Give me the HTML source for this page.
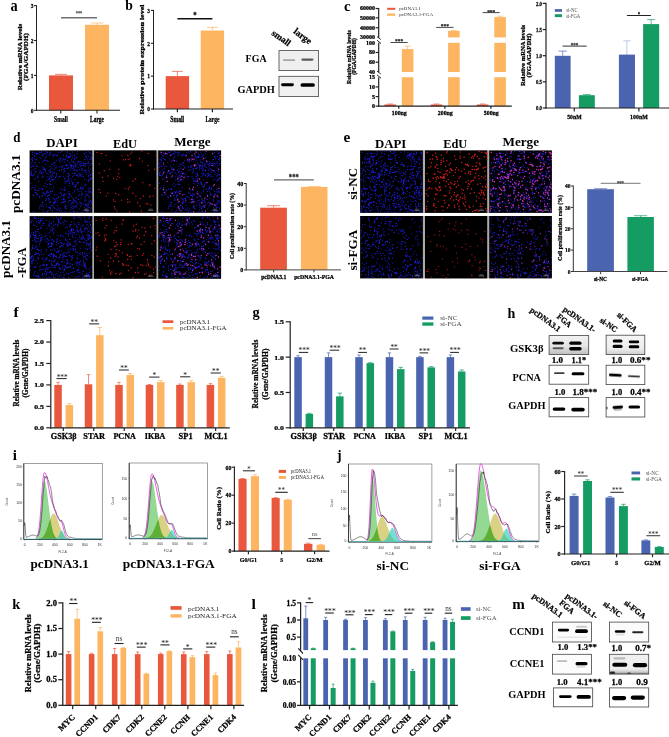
<!DOCTYPE html>
<html lang="en"><head><meta charset="utf-8"><title>Figure</title>
<style>
html,body{margin:0;padding:0;background:#fff}
body{width:669px;height:737px;overflow:hidden}
svg{display:block;font-family:'Liberation Serif', serif;font-weight:bold}
</style></head><body>
<svg width="669" height="737" viewBox="0 0 669 737">
<defs>
<filter id="bl" x="-30%" y="-80%" width="160%" height="260%"><feGaussianBlur stdDeviation="0.7"/></filter>
</defs>
<rect width="669" height="737" fill="#fff"/>
<g>
<text transform="translate(10.5 11) scale(0.847 1)" font-size="17">a</text>
<rect x="49" y="75.4" width="24" height="34.9" fill="#E9573D"/>
<path d="M61 75.4V74.35M55 74.35H67" stroke="#E9573D" stroke-width="0.7" fill="none"/>
<rect x="85" y="24.79" width="24" height="85.51" fill="#FDB562"/>
<path d="M97 24.79V23.05M91 23.05H103" stroke="#FDB562" stroke-width="0.7" fill="none"/>
<path d="M36.5 5.1L36.5 110.8" stroke="#222" stroke-width="1"/>
<path d="M33.9 110.3L36.5 110.3" stroke="#222" stroke-width="1.1"/>
<text transform="translate(33.4 112.6) scale(0.780 1)" font-size="7" text-anchor="end" stroke="#000" stroke-width="0.25">0</text>
<path d="M33.9 75.4L36.5 75.4" stroke="#222" stroke-width="1.1"/>
<text transform="translate(33.4 77.7) scale(0.780 1)" font-size="7" text-anchor="end" stroke="#000" stroke-width="0.25">1</text>
<path d="M33.9 40.5L36.5 40.5" stroke="#222" stroke-width="1.1"/>
<text transform="translate(33.4 42.8) scale(0.780 1)" font-size="7" text-anchor="end" stroke="#000" stroke-width="0.25">2</text>
<path d="M33.9 5.6L36.5 5.6" stroke="#222" stroke-width="1.1"/>
<text transform="translate(33.4 7.9) scale(0.780 1)" font-size="7" text-anchor="end" stroke="#000" stroke-width="0.25">3</text>
<path d="M35.95 110.3L120 110.3" stroke="#222" stroke-width="1.1"/>
<path d="M60.8 110.3L60.8 113.6" stroke="#222" stroke-width="1.1"/>
<path d="M97 110.3L97 113.6" stroke="#222" stroke-width="1.1"/>
<text transform="translate(61 121.6) scale(0.763 1)" font-size="7.4" text-anchor="middle" stroke="#000" stroke-width="0.25">Small</text>
<text transform="translate(97 121.6) scale(0.730 1)" font-size="7.4" text-anchor="middle" stroke="#000" stroke-width="0.25">Large</text>
<text transform="translate(21.5 57) rotate(-90) scale(1.238 1)" font-size="5.8" text-anchor="middle" stroke="#000" stroke-width="0.25">Relative mRNA levels</text>
<text transform="translate(27.5 57) rotate(-90) scale(1.242 1)" font-size="5.8" text-anchor="middle" stroke="#000" stroke-width="0.25">(FGA/GAPDH)</text>
<path d="M61 17.8L97 17.8" stroke="#707070" stroke-width="1.4"/>
<text transform="translate(79 14.6) scale(0.788 1)" font-size="5.5" text-anchor="middle" fill="#666" stroke="#666" stroke-width="0.25">***</text>
</g>
<g>
<text transform="translate(125.2 10.4) scale(0.882 1)" font-size="15.5">b</text>
<rect x="165.7" y="76.13" width="23.4" height="32.87" fill="#E9573D"/>
<path d="M177.4 76.13V71.4M172 71.4H182.8" stroke="#E9573D" stroke-width="0.7" fill="none"/>
<rect x="200.7" y="30.5" width="23.4" height="78.5" fill="#FDB562"/>
<path d="M212.4 30.5V27.3M207 27.3H217.8" stroke="#FDB562" stroke-width="0.7" fill="none"/>
<path d="M153.5 9.9L153.5 109.5" stroke="#222" stroke-width="1"/>
<path d="M150.9 109L153.5 109" stroke="#222" stroke-width="1.1"/>
<text transform="translate(150.1 111.3) scale(0.780 1)" font-size="7" text-anchor="end" stroke="#000" stroke-width="0.25">0</text>
<path d="M150.9 76.13L153.5 76.13" stroke="#222" stroke-width="1.1"/>
<text transform="translate(150.1 78.43) scale(0.780 1)" font-size="7" text-anchor="end" stroke="#000" stroke-width="0.25">1</text>
<path d="M150.9 43.27L153.5 43.27" stroke="#222" stroke-width="1.1"/>
<text transform="translate(150.1 45.57) scale(0.780 1)" font-size="7" text-anchor="end" stroke="#000" stroke-width="0.25">2</text>
<path d="M150.9 10.4L153.5 10.4" stroke="#222" stroke-width="1.1"/>
<text transform="translate(150.1 12.7) scale(0.780 1)" font-size="7" text-anchor="end" stroke="#000" stroke-width="0.25">3</text>
<path d="M152.9 109L233 109" stroke="#222" stroke-width="1.2"/>
<path d="M177.4 109L177.4 112.3" stroke="#222" stroke-width="1.2"/>
<path d="M212.4 109L212.4 112.3" stroke="#222" stroke-width="1.2"/>
<text transform="translate(177.2 121.8) scale(0.784 1)" font-size="7.2" text-anchor="middle" stroke="#000" stroke-width="0.25">Small</text>
<text transform="translate(212.4 121.8) scale(0.761 1)" font-size="7.2" text-anchor="middle" stroke="#000" stroke-width="0.25">Large</text>
<text transform="translate(144.3 59.6) rotate(-90) scale(1.335 1)" font-size="6" text-anchor="middle" stroke="#000" stroke-width="0.25">Relative protein expression level</text>
<path d="M177.4 18.7L212.4 18.7" stroke="#111" stroke-width="1.6"/>
<text transform="translate(195 17.6) scale(0.800 1)" font-size="8.5" text-anchor="middle" stroke="#000" stroke-width="0.25">*</text>
<text transform="translate(271 34.4) rotate(35)" font-size="9.2" stroke="#000" stroke-width="0.25">small</text>
<text transform="translate(293 32.6) rotate(37)" font-size="9.2" stroke="#000" stroke-width="0.25">large</text>
<text transform="translate(245.6 61.8) scale(0.995 1)" font-size="10">FGA</text>
<text transform="translate(237.4 93.2) scale(1.036 1)" font-size="10">GAPDH</text>
<rect x="279" y="50.6" width="39.6" height="20" fill="#efefef" stroke="#444" stroke-width="0.8"/>
<rect x="282.7" y="59.3" width="12.6" height="1.6" rx="0.8" fill="#000" opacity="0.3" filter="url(#bl)"/>
<rect x="301.3" y="58.45" width="12.2" height="2.3" rx="1.15" fill="#000" opacity="0.62" filter="url(#bl)"/>
<rect x="279" y="76.3" width="39.6" height="20.2" fill="#f0f0f0" stroke="#444" stroke-width="0.8"/>
<rect x="281.1" y="83.25" width="12.8" height="2.9" rx="1.45" fill="#000" opacity="1" filter="url(#bl)"/>
<rect x="300.5" y="83.15" width="14.4" height="3.7" rx="1.85" fill="#000" opacity="1" filter="url(#bl)"/>
</g>
<g>
<text transform="translate(344 10.8) scale(0.959 1)" font-size="15.5">c</text>
<rect x="384.4" y="104.5" width="11.5" height="1.6" fill="#E9573D"/>
<path d="M390.15 104.5V104M387.27 104H393.02" stroke="#E9573D" stroke-width="0.7" fill="none"/>
<rect x="401.8" y="77.2" width="11.6" height="28.9" fill="#FDB562"/>
<rect x="401.8" y="49.1" width="11.6" height="22.9" fill="#FDB562"/>
<path d="M407.6 49.1V46.1M404.7 46.1H410.5" stroke="#FDB562" stroke-width="0.7" fill="none"/>
<rect x="430.7" y="104.5" width="11.5" height="1.6" fill="#E9573D"/>
<path d="M436.45 104.5V104M433.57 104H439.32" stroke="#E9573D" stroke-width="0.7" fill="none"/>
<rect x="448.1" y="77.2" width="11.6" height="28.9" fill="#FDB562"/>
<rect x="448.1" y="42.8" width="11.6" height="29.2" fill="#FDB562"/>
<rect x="448.1" y="30.9" width="11.6" height="6.5" fill="#FDB562"/>
<path d="M453.9 30.9V30.4M451 30.4H456.8" stroke="#FDB562" stroke-width="0.7" fill="none"/>
<rect x="476.9" y="104.5" width="11.5" height="1.6" fill="#E9573D"/>
<path d="M482.65 104.5V104M479.77 104H485.52" stroke="#E9573D" stroke-width="0.7" fill="none"/>
<rect x="494.3" y="77.2" width="11.6" height="28.9" fill="#FDB562"/>
<rect x="494.3" y="42.8" width="11.6" height="29.2" fill="#FDB562"/>
<rect x="494.3" y="17.1" width="11.6" height="20.3" fill="#FDB562"/>
<path d="M500.1 17.1V16.2M497.2 16.2H503" stroke="#FDB562" stroke-width="0.7" fill="none"/>
<path d="M378.7 7.9L378.7 37.4" stroke="#222" stroke-width="1.2"/>
<path d="M378.7 42.8L378.7 72" stroke="#222" stroke-width="1.2"/>
<path d="M378.7 77.2L378.7 106.7" stroke="#222" stroke-width="1.2"/>
<path d="M377 36.6L380.8 39.4" stroke="#222" stroke-width="1"/>
<path d="M377 40.2L381 43.6" stroke="#222" stroke-width="1"/>
<path d="M377 71.2L380.8 74" stroke="#222" stroke-width="1"/>
<path d="M377 74.8L381 78.2" stroke="#222" stroke-width="1"/>
<path d="M375.6 8.5L378.7 8.5" stroke="#222" stroke-width="1.2"/>
<text transform="translate(375.1 10.4) scale(1.071 1)" font-size="5.6" text-anchor="end" stroke="#000" stroke-width="0.25">60000</text>
<path d="M375.6 17.9L378.7 17.9" stroke="#222" stroke-width="1.2"/>
<text transform="translate(375.1 19.8) scale(1.071 1)" font-size="5.6" text-anchor="end" stroke="#000" stroke-width="0.25">50000</text>
<path d="M375.6 27.8L378.7 27.8" stroke="#222" stroke-width="1.2"/>
<text transform="translate(375.1 29.7) scale(1.071 1)" font-size="5.6" text-anchor="end" stroke="#000" stroke-width="0.25">40000</text>
<text transform="translate(375.1 39.3) scale(1.071 1)" font-size="5.6" text-anchor="end" stroke="#000" stroke-width="0.25">30000</text>
<text transform="translate(375.1 44.7) scale(1.071 1)" font-size="5.6" text-anchor="end" stroke="#000" stroke-width="0.25">100</text>
<path d="M375.6 52.5L378.7 52.5" stroke="#222" stroke-width="1.2"/>
<text transform="translate(375.1 54.4) scale(1.071 1)" font-size="5.6" text-anchor="end" stroke="#000" stroke-width="0.25">80</text>
<path d="M375.6 62.2L378.7 62.2" stroke="#222" stroke-width="1.2"/>
<text transform="translate(375.1 64.1) scale(1.071 1)" font-size="5.6" text-anchor="end" stroke="#000" stroke-width="0.25">60</text>
<text transform="translate(375.1 73.9) scale(1.071 1)" font-size="5.6" text-anchor="end" stroke="#000" stroke-width="0.25">40</text>
<text transform="translate(375.1 79.1) scale(1.071 1)" font-size="5.6" text-anchor="end" stroke="#000" stroke-width="0.25">15</text>
<path d="M375.6 86.9L378.7 86.9" stroke="#222" stroke-width="1.2"/>
<text transform="translate(375.1 88.8) scale(1.071 1)" font-size="5.6" text-anchor="end" stroke="#000" stroke-width="0.25">10</text>
<path d="M375.6 96.6L378.7 96.6" stroke="#222" stroke-width="1.2"/>
<text transform="translate(375.1 98.5) scale(1.071 1)" font-size="5.6" text-anchor="end" stroke="#000" stroke-width="0.25">5</text>
<path d="M375.6 106.1L378.7 106.1" stroke="#222" stroke-width="1.2"/>
<text transform="translate(375.1 108) scale(1.071 1)" font-size="5.6" text-anchor="end" stroke="#000" stroke-width="0.25">0</text>
<path d="M378.1 106.1L511.8 106.1" stroke="#222" stroke-width="1.2"/>
<path d="M398.8 106.1L398.8 108.7" stroke="#222" stroke-width="1.2"/>
<path d="M444.9 106.1L444.9 108.7" stroke="#222" stroke-width="1.2"/>
<path d="M490.9 106.1L490.9 108.7" stroke="#222" stroke-width="1.2"/>
<text transform="translate(399.3 115.2) scale(1.048 1)" font-size="5.6" text-anchor="middle" stroke="#000" stroke-width="0.25">100ng</text>
<text transform="translate(445.3 115.2) scale(1.048 1)" font-size="5.6" text-anchor="middle" stroke="#000" stroke-width="0.25">200ng</text>
<text transform="translate(491.3 115.2) scale(1.048 1)" font-size="5.6" text-anchor="middle" stroke="#000" stroke-width="0.25">500ng</text>
<text transform="translate(351.4 57.2) rotate(-90) scale(1.113 1)" font-size="5.2" text-anchor="middle" stroke="#000" stroke-width="0.25">Relative mRNA levels</text>
<text transform="translate(356 56.5) rotate(-90) scale(1.053 1)" font-size="5.2" text-anchor="middle" stroke="#000" stroke-width="0.25">(FGA/GAPDH)</text>
<rect x="387.1" y="7.8" width="8.2" height="2" fill="#E9573D"/>
<rect x="387.1" y="13.5" width="8.2" height="2.3" fill="#FDB562"/>
<text transform="translate(399.2 10.1) scale(1.072 1)" font-size="4.6" font-weight="normal" fill="#333">pcDNA3.1</text>
<text transform="translate(399.2 16.1) scale(1.101 1)" font-size="4.6" font-weight="normal" fill="#333">pcDNA3.1-FGA</text>
<path d="M390.5 42.5L407.6 42.5" stroke="#333" stroke-width="0.9"/>
<text transform="translate(399.05 43.4) scale(0.889 1)" font-size="6" text-anchor="middle" fill="#333" stroke="#333" stroke-width="0.25">***</text>
<path d="M436.2 27.4L453.5 27.4" stroke="#333" stroke-width="0.9"/>
<text transform="translate(444.85 28.3) scale(0.889 1)" font-size="6" text-anchor="middle" fill="#333" stroke="#333" stroke-width="0.25">***</text>
<path d="M482.6 12.6L499.7 12.6" stroke="#333" stroke-width="0.9"/>
<text transform="translate(491.15 13.5) scale(0.889 1)" font-size="6" text-anchor="middle" fill="#333" stroke="#333" stroke-width="0.25">***</text>
<rect x="554.8" y="55.8" width="15.8" height="52.2" fill="#4A64AF"/>
<path d="M562.7 55.8V51.1M558.5 51.1H566.9" stroke="#4A64AF" stroke-width="0.7" fill="none"/>
<rect x="578.9" y="95.2" width="15.9" height="12.8" fill="#159C63"/>
<path d="M586.85 95.2V94.6M582.85 94.6H590.85" stroke="#159C63" stroke-width="0.7" fill="none"/>
<rect x="626.5" y="40.9" width="0.8" height="15.1" fill="#aeb9df"/>
<rect x="623.2" y="40.5" width="7.4" height="0.8" fill="#aeb9df"/>
<rect x="618.9" y="54.6" width="16.1" height="53.4" fill="#4A64AF"/>
<rect x="643.1" y="24.1" width="16.1" height="83.9" fill="#159C63"/>
<path d="M651.15 24.1V19.6M647.15 19.6H655.15" stroke="#159C63" stroke-width="0.7" fill="none"/>
<path d="M546 2.8L546 108.6" stroke="#222" stroke-width="1.2"/>
<path d="M542.7 108L546 108" stroke="#222" stroke-width="1.2"/>
<text transform="translate(542 110.2) scale(0.750 1)" font-size="6.4" text-anchor="end" stroke="#000" stroke-width="0.25">0.0</text>
<path d="M542.7 81.85L546 81.85" stroke="#222" stroke-width="1.2"/>
<text transform="translate(542 84.05) scale(0.750 1)" font-size="6.4" text-anchor="end" stroke="#000" stroke-width="0.25">0.5</text>
<path d="M542.7 55.7L546 55.7" stroke="#222" stroke-width="1.2"/>
<text transform="translate(542 57.9) scale(0.750 1)" font-size="6.4" text-anchor="end" stroke="#000" stroke-width="0.25">1.0</text>
<path d="M542.7 29.55L546 29.55" stroke="#222" stroke-width="1.2"/>
<text transform="translate(542 31.75) scale(0.750 1)" font-size="6.4" text-anchor="end" stroke="#000" stroke-width="0.25">1.5</text>
<path d="M542.7 3.4L546 3.4" stroke="#222" stroke-width="1.2"/>
<text transform="translate(542 5.6) scale(0.750 1)" font-size="6.4" text-anchor="end" stroke="#000" stroke-width="0.25">2.0</text>
<path d="M545.4 108L669 108" stroke="#222" stroke-width="1.2"/>
<path d="M574.3 108L574.3 111.4" stroke="#222" stroke-width="1.2"/>
<path d="M638.9 108L638.9 111.4" stroke="#222" stroke-width="1.2"/>
<text transform="translate(574.4 118.8) scale(0.886 1)" font-size="6.5" text-anchor="middle" stroke="#000" stroke-width="0.25">50nM</text>
<text transform="translate(638.9 118.8) scale(0.903 1)" font-size="6.5" text-anchor="middle" stroke="#000" stroke-width="0.25">100nM</text>
<text transform="translate(525 55.5) rotate(-90) scale(1.180 1)" font-size="5.6" text-anchor="middle" stroke="#000" stroke-width="0.25">Relative mRNA levels</text>
<text transform="translate(531 55.5) rotate(-90) scale(1.225 1)" font-size="5.4" text-anchor="middle" stroke="#000" stroke-width="0.25">(FGA/GAPDH)</text>
<rect x="554.8" y="9.1" width="7.2" height="2.7" fill="#4A64AF"/>
<rect x="554.8" y="14.2" width="7.2" height="2.9" fill="#159C63"/>
<text transform="translate(566.2 12.1) scale(0.891 1)" font-size="5.4" font-weight="normal" fill="#555">si-NC</text>
<text transform="translate(566.2 17.5) scale(0.864 1)" font-size="5.4" font-weight="normal" fill="#555">si-FGA</text>
<path d="M562.5 46.1L586.7 46.1" stroke="#333" stroke-width="1"/>
<text transform="translate(574.6 46.6) scale(0.833 1)" font-size="6" text-anchor="middle" fill="#444" stroke="#444" stroke-width="0.25">***</text>
<path d="M626.9 15.5L650.9 15.5" stroke="#222" stroke-width="1"/>
<text transform="translate(638.9 16.2) scale(0.800 1)" font-size="6" text-anchor="middle" fill="#333" stroke="#333" stroke-width="0.25">*</text>
</g>
<g>
<text transform="translate(13.2 142.2) scale(0.835 1)" font-size="15.5">d</text>
<text transform="translate(46.3 147.1) scale(1.028 1)" font-size="12.5">DAPI</text>
<text transform="translate(113 147.7) scale(0.949 1)" font-size="13">EdU</text>
<text transform="translate(174.2 146.1) scale(1.009 1)" font-size="13">Merge</text>
<text transform="translate(19.6 183.8) rotate(-90) scale(1.060 1)" font-size="12.5" text-anchor="middle">pcDNA3.1</text>
<text transform="translate(9.9 249) rotate(-90) scale(1.049 1)" font-size="12.5" text-anchor="middle">pcDNA3.1</text>
<text transform="translate(25.6 262.7) rotate(-90)" font-size="12.5" text-anchor="middle">-FGA</text>
<rect x="91.8" y="150.4" width="66.9" height="62.4" fill="#aaaaa6"/>
<rect x="29.6" y="150.4" width="62.7" height="62.4" fill="#000"/>
<path d="M58.7 178.0h.01M70.9 179.0h.01M47.3 212.1h.01M91.4 202.4h.01M73.7 170.3h.01M44.3 168.7h.01M82.3 174.7h.01M89.1 202.9h.01M30.2 163.8h.01M86.2 179.8h.01M90.5 175.3h.01M34.7 189.5h.01M78.1 167.5h.01M35.6 171.4h.01M89.5 197.4h.01M37.5 166.1h.01M36.4 154.7h.01M79.2 161.9h.01M64.6 178.4h.01M41.9 195.8h.01M38.3 190.4h.01M37.4 176.8h.01M43.3 167.5h.01M79.6 169.6h.01M84.6 163.9h.01M54.4 203.3h.01M69.7 157.1h.01M91.0 164.1h.01M46.1 198.3h.01M50.4 169.1h.01M34.7 156.5h.01M66.0 165.9h.01M67.2 173.7h.01M58.1 209.7h.01M39.7 206.6h.01M80.5 166.3h.01M41.9 196.3h.01M88.0 163.0h.01M88.6 205.0h.01M67.3 176.8h.01M36.6 153.4h.01M89.4 165.6h.01M73.5 166.7h.01M80.9 187.5h.01M48.2 161.7h.01M74.5 155.2h.01M44.2 185.2h.01M68.0 168.1h.01M86.6 163.5h.01M31.2 167.5h.01M57.6 154.7h.01M41.0 173.6h.01M65.4 159.1h.01M52.5 205.5h.01M90.5 191.2h.01M32.4 152.1h.01M86.2 193.9h.01M89.4 152.3h.01M69.3 180.5h.01M75.1 170.5h.01M91.7 155.6h.01M63.8 196.1h.01M85.6 196.1h.01M73.5 199.5h.01M86.5 172.5h.01M72.3 206.1h.01M83.8 176.5h.01M78.8 203.8h.01M65.4 189.2h.01M35.1 190.1h.01M91.3 204.8h.01M75.0 174.8h.01M75.4 186.6h.01M57.3 202.3h.01M67.2 180.4h.01M44.4 193.7h.01M60.8 188.6h.01M45.9 151.7h.01M48.7 192.5h.01M42.7 161.4h.01M85.9 191.4h.01M57.4 205.6h.01M50.3 191.8h.01M42.4 177.4h.01M86.4 204.9h.01M38.6 181.4h.01M82.4 194.5h.01M88.6 167.9h.01M43.4 176.3h.01M68.7 181.2h.01M49.6 202.4h.01M90.6 178.7h.01M34.8 152.9h.01M83.9 153.5h.01M73.8 185.9h.01M49.2 199.4h.01M31.4 159.3h.01M58.2 152.5h.01M81.2 165.5h.01M38.9 153.9h.01M68.9 178.3h.01M68.9 191.1h.01M89.1 192.9h.01M73.1 182.8h.01M68.0 197.3h.01M54.4 199.5h.01M85.9 156.3h.01M87.6 195.2h.01M86.2 174.1h.01M65.2 204.8h.01M79.2 208.8h.01M74.6 201.1h.01M69.7 194.9h.01M43.3 206.1h.01M90.5 210.8h.01M63.2 199.4h.01M49.9 206.7h.01M82.8 172.3h.01M35.3 178.0h.01M64.0 198.0h.01M60.2 152.7h.01M40.8 171.5h.01M62.0 195.3h.01M81.9 193.2h.01M88.4 181.1h.01M88.6 156.3h.01M75.0 190.1h.01M62.4 202.6h.01M64.6 170.1h.01M53.6 202.7h.01M85.6 163.7h.01M82.5 210.3h.01M54.8 200.0h.01M64.8 181.1h.01M72.7 155.0h.01M63.3 176.3h.01M89.0 207.5h.01M46.8 180.0h.01M38.0 177.5h.01M80.4 206.1h.01M59.5 170.4h.01M42.0 188.8h.01M87.1 158.9h.01M44.2 193.0h.01M50.0 172.7h.01M68.3 157.4h.01M75.1 158.5h.01M61.6 166.3h.01M53.3 176.3h.01M62.8 160.8h.01M42.8 189.6h.01M69.5 183.4h.01M82.6 188.4h.01M82.9 165.2h.01M75.8 200.6h.01M85.7 170.3h.01M49.6 207.5h.01M43.6 212.1h.01M84.8 159.2h.01M44.9 195.5h.01M46.2 156.9h.01M81.4 176.8h.01M72.3 152.1h.01M42.6 192.8h.01M86.2 210.3h.01M61.1 193.0h.01M41.8 155.3h.01M36.7 153.3h.01M39.2 162.3h.01M42.7 202.4h.01M91.1 207.7h.01M36.1 154.8h.01M88.7 179.3h.01M77.2 171.0h.01M67.2 151.8h.01M73.3 202.7h.01M55.1 162.9h.01M85.1 200.1h.01M73.5 203.7h.01M68.9 175.8h.01M67.1 181.9h.01M90.6 200.3h.01M46.1 206.8h.01M76.0 198.6h.01M80.3 175.8h.01M85.3 204.8h.01M72.9 198.0h.01M77.3 175.8h.01M74.6 155.3h.01M51.2 179.7h.01M30.9 172.8h.01M88.3 191.8h.01M51.0 191.4h.01M65.2 183.6h.01M54.2 212.2h.01M69.7 193.9h.01M77.0 211.0h.01M31.6 188.7h.01M75.6 166.7h.01M54.9 154.1h.01M42.2 174.0h.01M36.3 166.4h.01M85.9 184.7h.01M61.4 210.2h.01M65.1 211.9h.01M69.4 200.5h.01M34.9 187.6h.01M76.9 153.8h.01M88.3 176.7h.01M47.8 191.1h.01M64.7 168.4h.01M74.3 169.1h.01M31.1 166.0h.01M32.8 160.6h.01M76.6 174.9h.01M85.4 196.8h.01M33.3 211.5h.01M59.6 210.6h.01M45.2 183.0h.01M74.6 179.7h.01M90.4 201.0h.01M67.3 158.0h.01M68.6 178.9h.01M42.7 154.2h.01M62.7 158.6h.01M46.3 186.6h.01M56.0 198.6h.01M62.8 212.1h.01M88.8 195.9h.01M44.9 158.0h.01M85.1 199.0h.01M68.6 173.0h.01M46.9 192.9h.01M64.9 187.2h.01M69.1 197.1h.01M41.9 166.2h.01M86.5 204.8h.01M32.6 154.7h.01M46.9 177.0h.01M68.5 157.3h.01M63.5 155.4h.01M35.5 192.4h.01M64.1 189.6h.01M53.2 180.3h.01M43.2 172.0h.01M76.0 202.3h.01M34.8 158.3h.01M80.0 189.2h.01M77.5 164.0h.01M56.3 166.8h.01M80.0 173.6h.01M70.4 211.5h.01M50.2 184.6h.01M76.1 207.4h.01M56.5 173.6h.01M35.3 185.5h.01M60.0 192.9h.01M48.6 198.5h.01M34.9 164.1h.01M70.9 156.0h.01M48.9 195.4h.01M72.9 168.3h.01M39.0 172.9h.01M74.8 173.4h.01M37.4 194.4h.01M65.2 207.2h.01M88.0 206.9h.01M57.1 200.1h.01M48.9 170.4h.01M54.8 208.2h.01M85.2 166.2h.01M52.4 173.4h.01M52.5 175.2h.01M54.0 162.9h.01M64.9 199.8h.01M63.4 202.2h.01M64.8 161.8h.01M76.9 204.9h.01M47.5 152.4h.01M89.6 190.9h.01M75.5 206.0h.01M35.4 189.8h.01M45.3 164.5h.01M77.3 182.9h.01M77.2 175.1h.01M51.0 210.3h.01M71.6 181.2h.01M63.2 195.1h.01M73.8 207.0h.01M55.5 201.6h.01M71.2 203.2h.01M79.8 202.0h.01M84.9 209.6h.01M69.6 183.1h.01M73.9 200.1h.01M56.1 176.7h.01M39.2 196.4h.01M91.1 174.0h.01M48.2 210.3h.01M33.8 169.9h.01M37.3 190.7h.01M77.9 162.0h.01M34.0 179.1h.01M66.1 206.6h.01M32.4 157.7h.01M76.8 170.1h.01M63.9 201.0h.01M59.7 166.9h.01M84.8 207.0h.01M51.2 184.5h.01M89.1 180.5h.01M43.8 154.0h.01M88.5 200.0h.01M47.1 211.6h.01M70.6 165.5h.01M79.2 194.7h.01M67.5 160.6h.01M39.8 170.7h.01M46.2 204.2h.01M61.9 190.0h.01M77.6 151.1h.01M80.7 202.8h.01M74.3 156.9h.01M82.9 169.6h.01M78.7 176.5h.01M86.6 156.6h.01M81.0 163.8h.01M81.4 170.1h.01M49.3 155.7h.01M49.0 179.6h.01M74.2 173.0h.01M72.5 157.5h.01M54.4 179.3h.01M81.2 191.0h.01M31.0 174.1h.01M73.9 165.5h.01M64.9 179.0h.01M42.9 188.7h.01M48.1 174.0h.01M63.4 169.3h.01M50.9 175.0h.01M71.2 166.7h.01M42.5 195.8h.01M50.5 208.8h.01M64.8 195.3h.01M50.6 201.6h.01M35.9 159.6h.01M36.0 192.5h.01M73.8 162.0h.01M54.9 202.2h.01M66.7 156.5h.01M44.1 160.6h.01M37.8 175.9h.01M80.7 174.6h.01M50.6 176.2h.01M31.1 175.5h.01M73.2 211.1h.01M78.8 191.4h.01M67.6 152.1h.01M50.6 171.9h.01M70.2 157.5h.01M80.9 188.4h.01M39.9 197.9h.01M63.9 172.6h.01M61.0 159.7h.01M74.1 211.4h.01M61.9 194.8h.01M81.6 163.1h.01M88.3 189.4h.01M42.4 156.1h.01M50.4 207.9h.01M52.4 179.3h.01M85.8 184.3h.01M86.1 211.7h.01M80.5 187.8h.01M85.4 165.7h.01M65.5 201.8h.01M32.2 162.0h.01M90.9 208.5h.01M70.7 169.8h.01M71.5 196.1h.01M53.7 187.2h.01M31.2 163.2h.01M59.0 159.8h.01M62.2 167.1h.01M65.1 171.3h.01M69.7 153.3h.01M71.5 159.9h.01M89.2 187.7h.01M59.1 176.2h.01M68.6 193.2h.01M76.8 197.0h.01M60.1 211.9h.01M81.8 203.3h.01M55.4 177.6h.01M65.0 206.4h.01M85.8 170.6h.01M33.6 195.4h.01M75.2 187.6h.01M76.4 169.7h.01M66.7 155.3h.01M54.6 154.2h.01M72.9 183.2h.01M44.9 169.7h.01M54.5 165.4h.01M83.5 176.8h.01M79.7 164.6h.01M76.1 185.7h.01M85.8 157.0h.01M88.7 151.0h.01M45.2 169.3h.01M50.2 154.8h.01M85.3 200.9h.01M54.6 172.8h.01M66.2 153.8h.01M60.9 208.2h.01M90.3 179.9h.01M42.9 169.1h.01M86.9 205.9h.01M42.2 202.3h.01M52.0 179.9h.01M40.8 204.8h.01M91.4 163.4h.01M69.1 162.7h.01M84.3 154.1h.01M85.6 204.2h.01M74.1 159.3h.01M73.0 208.4h.01M57.6 155.8h.01M43.9 169.8h.01M73.9 163.0h.01M78.8 173.8h.01M70.9 205.1h.01M66.5 165.0h.01M48.7 207.7h.01M71.2 167.9h.01M69.6 156.5h.01M90.7 177.9h.01M67.1 168.4h.01M45.6 200.2h.01M35.6 168.5h.01M76.7 166.0h.01M47.4 184.5h.01M41.7 205.9h.01M90.9 153.1h.01M58.6 196.9h.01M53.9 207.9h.01M60.9 162.0h.01M64.4 190.5h.01M52.3 191.3h.01M78.4 182.6h.01M61.3 202.7h.01M72.3 182.9h.01M88.7 161.6h.01M78.1 161.1h.01M67.6 165.4h.01M57.3 198.3h.01M78.6 199.4h.01M65.9 181.5h.01M32.4 187.5h.01M74.2 186.0h.01M83.9 162.0h.01M39.5 152.1h.01M46.4 199.9h.01M63.6 199.4h.01M44.8 159.9h.01M49.3 153.6h.01M49.5 189.0h.01M62.5 167.2h.01M66.4 156.4h.01M80.7 161.5h.01M45.9 160.8h.01M72.7 201.9h.01M52.6 164.2h.01M89.9 153.6h.01M60.3 197.6h.01M90.9 159.8h.01M58.2 196.6h.01M32.6 165.7h.01M84.9 159.7h.01M54.4 169.2h.01M56.3 155.7h.01M75.3 165.1h.01M58.6 208.1h.01M52.6 171.6h.01M90.5 188.4h.01M32.6 175.7h.01M70.2 154.6h.01M51.3 193.5h.01M83.4 187.1h.01M84.7 179.3h.01M54.4 202.6h.01M53.6 198.8h.01M43.4 172.3h.01M49.2 178.4h.01M91.3 192.6h.01M83.3 163.5h.01M53.8 155.5h.01M72.7 173.2h.01M47.1 152.1h.01M87.0 194.8h.01M46.7 173.1h.01M39.6 208.3h.01M52.3 197.9h.01M74.7 206.5h.01M31.5 170.7h.01M53.8 156.1h.01M84.5 170.9h.01M77.6 182.8h.01M33.6 175.1h.01M44.9 153.5h.01M49.4 177.0h.01M63.7 159.3h.01M73.7 166.9h.01M74.8 191.8h.01M74.0 175.8h.01M54.0 204.0h.01M44.1 168.9h.01M51.4 164.2h.01M32.7 152.5h.01M69.0 185.6h.01M90.2 169.2h.01M71.4 207.2h.01M43.5 193.2h.01M71.2 209.5h.01M83.6 165.4h.01M69.1 156.5h.01M56.5 175.0h.01M33.9 174.5h.01M50.4 181.4h.01M47.4 160.7h.01M71.1 165.7h.01M35.9 171.9h.01M56.2 160.2h.01M66.0 193.9h.01M64.2 193.9h.01M31.6 175.0h.01M52.6 154.9h.01M55.1 154.3h.01M50.2 166.5h.01M31.6 172.2h.01M85.0 185.6h.01M46.3 191.9h.01M88.9 173.2h.01M65.6 208.7h.01M77.6 189.4h.01M68.4 176.2h.01M55.8 167.9h.01M81.2 204.8h.01M53.7 206.7h.01M32.5 159.3h.01M61.4 169.9h.01M52.4 210.8h.01M72.0 165.4h.01M63.9 189.2h.01M64.7 201.9h.01M89.8 171.4h.01M51.5 205.2h.01M49.5 194.8h.01M73.0 193.0h.01M89.5 201.5h.01M40.0 189.0h.01M47.8 196.8h.01M63.0 165.5h.01M45.5 170.9h.01M34.1 155.2h.01M36.5 194.1h.01M59.8 160.9h.01M83.5 204.2h.01M33.5 166.5h.01M61.4 199.7h.01M54.3 194.8h.01M45.7 194.8h.01M50.3 171.4h.01M76.9 202.6h.01M81.2 185.7h.01M56.1 194.3h.01M68.5 201.9h.01M71.4 165.1h.01M41.6 151.8h.01M66.2 208.6h.01M89.9 159.2h.01M72.5 176.7h.01M69.0 175.3h.01M87.6 211.5h.01M33.2 194.7h.01M37.5 153.6h.01M47.8 195.8h.01M91.3 158.4h.01M50.5 152.6h.01M49.2 200.0h.01M81.8 168.4h.01M90.5 174.8h.01M72.9 184.4h.01M60.2 158.4h.01M50.1 152.2h.01M65.0 159.8h.01M68.7 167.8h.01M46.2 154.1h.01M35.0 162.2h.01M59.9 212.0h.01M42.6 204.1h.01M60.0 176.4h.01M79.8 175.2h.01M68.5 168.0h.01M87.9 203.9h.01M91.3 178.1h.01M81.5 195.4h.01M41.0 152.6h.01M40.6 158.3h.01M34.8 173.0h.01M76.5 170.0h.01M61.8 151.6h.01M43.1 209.7h.01M30.9 183.3h.01M78.9 196.0h.01M54.8 200.1h.01M81.1 198.0h.01M90.8 157.2h.01M88.6 175.6h.01M73.6 166.3h.01M86.1 152.4h.01M65.7 164.9h.01M54.1 173.6h.01M70.6 200.6h.01M52.6 190.0h.01M52.0 168.1h.01M85.9 170.7h.01M36.0 171.5h.01M75.8 163.9h.01M75.9 184.4h.01M72.0 161.9h.01M36.7 159.7h.01M51.7 177.4h.01M50.0 183.9h.01M88.8 163.5h.01M84.3 170.6h.01M76.6 157.6h.01M56.7 209.9h.01M43.7 176.0h.01M73.6 161.9h.01M47.0 192.4h.01M88.5 170.7h.01M41.5 172.9h.01M91.1 160.1h.01M69.2 174.1h.01M69.8 164.0h.01M68.1 205.3h.01M82.9 189.5h.01M81.7 193.2h.01" stroke="#2020f0" stroke-width="1.12" stroke-linecap="round" fill="none"/>
<path d="M83.8 210.2L89.1 210.2" stroke="#ddd" stroke-width="0.5"/>
<path d="M84.8 209L88.1 209" stroke="#777" stroke-width="0.5"/>
<rect x="94" y="150.4" width="62.5" height="62.4" fill="#000"/>
<path d="M154.9 188.4h.01M127.8 202.2h.01M149.4 185.6h.01M132.0 152.1h.01M139.5 158.5h.01M133.0 193.2h.01M99.1 189.5h.01M123.4 159.8h.01M113.6 178.4h.01M139.9 206.0h.01M110.3 160.8h.01M143.3 196.0h.01M129.3 187.2h.01M118.7 194.8h.01M135.3 179.0h.01M108.1 176.0h.01M117.7 176.3h.01M142.8 182.6h.01M129.9 201.8h.01M106.2 155.3h.01M100.4 192.5h.01M149.8 196.8h.01M156.1 155.6h.01M113.6 200.0h.01M129.5 211.9h.01M125.2 188.6h.01M148.0 165.4h.01M115.0 201.6h.01M130.6 153.8h.01M133.1 181.2h.01M106.3 195.8h.01M150.0 196.1h.01M154.6 169.2h.01M153.2 195.9h.01M148.3 153.5h.01M130.9 165.0h.01M142.5 161.1h.01M127.6 199.4h.01M102.4 177.5h.01M116.8 210.8h.01M142.0 151.1h.01M148.7 170.6h.01M101.1 153.3h.01M129.8 159.1h.01M147.9 204.2h.01M137.7 202.7h.01M97.1 152.5h.01M103.0 181.4h.01M109.6 169.3h.01M130.1 164.9h.01M122.0 155.8h.01M99.2 173.0h.01M118.8 169.2h.01M115.7 193.5h.01M118.5 173.6h.01M146.2 203.3h.01M128.3 189.2h.01M130.4 165.9h.01M150.8 204.9h.01M141.4 211.0h.01M121.5 200.1h.01M125.4 159.7h.01M116.8 179.3h.01M119.8 177.6h.01M104.2 170.7h.01M114.3 206.7h.01M99.3 164.1h.01M127.9 155.4h.01M114.9 208.8h.01M150.2 184.3h.01M135.9 196.1h.01M107.9 193.2h.01M101.9 153.6h.01M128.1 159.3h.01M140.4 198.6h.01" stroke="#dc1c1c" stroke-width="1.35" stroke-linecap="round" fill="none"/>
<path d="M148 210.2L153.3 210.2" stroke="#ddd" stroke-width="0.5"/>
<path d="M149 209L152.3 209" stroke="#777" stroke-width="0.5"/>
<rect x="158.2" y="150.4" width="62.9" height="62.4" fill="#000"/>
<path d="M187.3 178.0h.01M199.5 179.0h.01M175.9 212.1h.01M220.0 202.4h.01M202.3 170.3h.01M172.9 168.7h.01M210.9 174.7h.01M217.7 202.9h.01M158.8 163.8h.01M214.8 179.8h.01M219.1 175.3h.01M163.3 189.5h.01M206.7 167.5h.01M164.2 171.4h.01M218.1 197.4h.01M166.1 166.1h.01M165.0 154.7h.01M207.8 161.9h.01M193.2 178.4h.01M170.5 195.8h.01M166.9 190.4h.01M166.0 176.8h.01M171.9 167.5h.01M208.2 169.6h.01M213.2 163.9h.01M183.0 203.3h.01M198.3 157.1h.01M219.6 164.1h.01M174.7 198.3h.01M179.0 169.1h.01M163.3 156.5h.01M194.6 165.9h.01M195.8 173.7h.01M186.7 209.7h.01M168.3 206.6h.01M209.1 166.3h.01M170.5 196.3h.01M216.6 163.0h.01M217.2 205.0h.01M195.9 176.8h.01M165.2 153.4h.01M218.0 165.6h.01M202.1 166.7h.01M209.5 187.5h.01M176.8 161.7h.01M203.1 155.2h.01M172.8 185.2h.01M196.6 168.1h.01M215.2 163.5h.01M159.8 167.5h.01M186.2 154.7h.01M169.6 173.6h.01M194.0 159.1h.01M181.1 205.5h.01M219.1 191.2h.01M161.0 152.1h.01M214.8 193.9h.01M218.0 152.3h.01M197.9 180.5h.01M203.7 170.5h.01M220.3 155.6h.01M192.4 196.1h.01M214.2 196.1h.01M202.1 199.5h.01M215.1 172.5h.01M200.9 206.1h.01M212.4 176.5h.01M207.4 203.8h.01M194.0 189.2h.01M163.7 190.1h.01M219.9 204.8h.01M203.6 174.8h.01M204.0 186.6h.01M185.9 202.3h.01M195.8 180.4h.01M173.0 193.7h.01M189.4 188.6h.01M174.5 151.7h.01M177.3 192.5h.01M171.3 161.4h.01M214.5 191.4h.01M186.0 205.6h.01M178.9 191.8h.01M171.0 177.4h.01M215.0 204.9h.01M167.2 181.4h.01M211.0 194.5h.01M217.2 167.9h.01M172.0 176.3h.01M197.3 181.2h.01M178.2 202.4h.01M219.2 178.7h.01M163.4 152.9h.01M212.5 153.5h.01M202.4 185.9h.01M177.8 199.4h.01M160.0 159.3h.01M186.8 152.5h.01M209.8 165.5h.01M167.5 153.9h.01M197.5 178.3h.01M197.5 191.1h.01M217.7 192.9h.01M201.7 182.8h.01M196.6 197.3h.01M183.0 199.5h.01M214.5 156.3h.01M216.2 195.2h.01M214.8 174.1h.01M193.8 204.8h.01M207.8 208.8h.01M203.2 201.1h.01M198.3 194.9h.01M171.9 206.1h.01M219.1 210.8h.01M191.8 199.4h.01M178.5 206.7h.01M211.4 172.3h.01M163.9 178.0h.01M192.6 198.0h.01M188.8 152.7h.01M169.4 171.5h.01M190.6 195.3h.01M210.5 193.2h.01M217.0 181.1h.01M217.2 156.3h.01M203.6 190.1h.01M191.0 202.6h.01M193.2 170.1h.01M182.2 202.7h.01M214.2 163.7h.01M211.1 210.3h.01M183.4 200.0h.01M193.4 181.1h.01M201.3 155.0h.01M191.9 176.3h.01M217.6 207.5h.01M175.4 180.0h.01M166.6 177.5h.01M209.0 206.1h.01M188.1 170.4h.01M170.6 188.8h.01M215.7 158.9h.01M172.8 193.0h.01M178.6 172.7h.01M196.9 157.4h.01M203.7 158.5h.01M190.2 166.3h.01M181.9 176.3h.01M191.4 160.8h.01M171.4 189.6h.01M198.1 183.4h.01M211.2 188.4h.01M211.5 165.2h.01M204.4 200.6h.01M214.3 170.3h.01M178.2 207.5h.01M172.2 212.1h.01M213.4 159.2h.01M173.5 195.5h.01M174.8 156.9h.01M210.0 176.8h.01M200.9 152.1h.01M171.2 192.8h.01M214.8 210.3h.01M189.7 193.0h.01M170.4 155.3h.01M165.3 153.3h.01M167.8 162.3h.01M171.3 202.4h.01M219.7 207.7h.01M164.7 154.8h.01M217.3 179.3h.01M205.8 171.0h.01M195.8 151.8h.01M201.9 202.7h.01M183.7 162.9h.01M213.7 200.1h.01M202.1 203.7h.01M197.5 175.8h.01M195.7 181.9h.01M219.2 200.3h.01M174.7 206.8h.01M204.6 198.6h.01M208.9 175.8h.01M213.9 204.8h.01M201.5 198.0h.01M205.9 175.8h.01M203.2 155.3h.01M179.8 179.7h.01M159.5 172.8h.01M216.9 191.8h.01M179.6 191.4h.01M193.8 183.6h.01M182.8 212.2h.01M198.3 193.9h.01M205.6 211.0h.01M160.2 188.7h.01M204.2 166.7h.01M183.5 154.1h.01M170.8 174.0h.01M164.9 166.4h.01M214.5 184.7h.01M190.0 210.2h.01M193.7 211.9h.01M198.0 200.5h.01M163.5 187.6h.01M205.5 153.8h.01M216.9 176.7h.01M176.4 191.1h.01M193.3 168.4h.01M202.9 169.1h.01M159.7 166.0h.01M161.4 160.6h.01M205.2 174.9h.01M214.0 196.8h.01M161.9 211.5h.01M188.2 210.6h.01M173.8 183.0h.01M203.2 179.7h.01M219.0 201.0h.01M195.9 158.0h.01M197.2 178.9h.01M171.3 154.2h.01M191.3 158.6h.01M174.9 186.6h.01M184.6 198.6h.01M191.4 212.1h.01M217.4 195.9h.01M173.5 158.0h.01M213.7 199.0h.01M197.2 173.0h.01M175.5 192.9h.01M193.5 187.2h.01M197.7 197.1h.01M170.5 166.2h.01M215.1 204.8h.01M161.2 154.7h.01M175.5 177.0h.01M197.1 157.3h.01M192.1 155.4h.01M164.1 192.4h.01M192.7 189.6h.01M181.8 180.3h.01M171.8 172.0h.01M204.6 202.3h.01M163.4 158.3h.01M208.6 189.2h.01M206.1 164.0h.01M184.9 166.8h.01M208.6 173.6h.01M199.0 211.5h.01M178.8 184.6h.01M204.7 207.4h.01M185.1 173.6h.01M163.9 185.5h.01M188.6 192.9h.01M177.2 198.5h.01M163.5 164.1h.01M199.5 156.0h.01M177.5 195.4h.01M201.5 168.3h.01M167.6 172.9h.01M203.4 173.4h.01M166.0 194.4h.01M193.8 207.2h.01M216.6 206.9h.01M185.7 200.1h.01M177.5 170.4h.01M183.4 208.2h.01M213.8 166.2h.01M181.0 173.4h.01M181.1 175.2h.01M182.6 162.9h.01M193.5 199.8h.01M192.0 202.2h.01M193.4 161.8h.01M205.5 204.9h.01M176.1 152.4h.01M218.2 190.9h.01M204.1 206.0h.01M164.0 189.8h.01M173.9 164.5h.01M205.9 182.9h.01M205.8 175.1h.01M179.6 210.3h.01M200.2 181.2h.01M191.8 195.1h.01M202.4 207.0h.01M184.1 201.6h.01M199.8 203.2h.01M208.4 202.0h.01M213.5 209.6h.01M198.2 183.1h.01M202.5 200.1h.01M184.7 176.7h.01M167.8 196.4h.01M219.7 174.0h.01M176.8 210.3h.01M162.4 169.9h.01M165.9 190.7h.01M206.5 162.0h.01M162.6 179.1h.01M194.7 206.6h.01M161.0 157.7h.01M205.4 170.1h.01M192.5 201.0h.01M188.3 166.9h.01M213.4 207.0h.01M179.8 184.5h.01M217.7 180.5h.01M172.4 154.0h.01M217.1 200.0h.01M175.7 211.6h.01M199.2 165.5h.01M207.8 194.7h.01M196.1 160.6h.01M168.4 170.7h.01M174.8 204.2h.01M190.5 190.0h.01M206.2 151.1h.01M209.3 202.8h.01M202.9 156.9h.01M211.5 169.6h.01M207.3 176.5h.01M215.2 156.6h.01M209.6 163.8h.01M210.0 170.1h.01M177.9 155.7h.01M177.6 179.6h.01M202.8 173.0h.01M201.1 157.5h.01M183.0 179.3h.01M209.8 191.0h.01M159.6 174.1h.01M202.5 165.5h.01M193.5 179.0h.01M171.5 188.7h.01M176.7 174.0h.01M192.0 169.3h.01M179.5 175.0h.01M199.8 166.7h.01M171.1 195.8h.01M179.1 208.8h.01M193.4 195.3h.01M179.2 201.6h.01M164.5 159.6h.01M164.6 192.5h.01M202.4 162.0h.01M183.5 202.2h.01M195.3 156.5h.01M172.7 160.6h.01M166.4 175.9h.01M209.3 174.6h.01M179.2 176.2h.01M159.7 175.5h.01M201.8 211.1h.01M207.4 191.4h.01M196.2 152.1h.01M179.2 171.9h.01M198.8 157.5h.01M209.5 188.4h.01M168.5 197.9h.01M192.5 172.6h.01M189.6 159.7h.01M202.7 211.4h.01M190.5 194.8h.01M210.2 163.1h.01M216.9 189.4h.01M171.0 156.1h.01M179.0 207.9h.01M181.0 179.3h.01M214.4 184.3h.01M214.7 211.7h.01M209.1 187.8h.01M214.0 165.7h.01M194.1 201.8h.01M160.8 162.0h.01M219.5 208.5h.01M199.3 169.8h.01M200.1 196.1h.01M182.3 187.2h.01M159.8 163.2h.01M187.6 159.8h.01M190.8 167.1h.01M193.7 171.3h.01M198.3 153.3h.01M200.1 159.9h.01M217.8 187.7h.01M187.7 176.2h.01M197.2 193.2h.01M205.4 197.0h.01M188.7 211.9h.01M210.4 203.3h.01M184.0 177.6h.01M193.6 206.4h.01M214.4 170.6h.01M162.2 195.4h.01M203.8 187.6h.01M205.0 169.7h.01M195.3 155.3h.01M183.2 154.2h.01M201.5 183.2h.01M173.5 169.7h.01M183.1 165.4h.01M212.1 176.8h.01M208.3 164.6h.01M204.7 185.7h.01M214.4 157.0h.01M217.3 151.0h.01M173.8 169.3h.01M178.8 154.8h.01M213.9 200.9h.01M183.2 172.8h.01M194.8 153.8h.01M189.5 208.2h.01M218.9 179.9h.01M171.5 169.1h.01M215.5 205.9h.01M170.8 202.3h.01M180.6 179.9h.01M169.4 204.8h.01M220.0 163.4h.01M197.7 162.7h.01M212.9 154.1h.01M214.2 204.2h.01M202.7 159.3h.01M201.6 208.4h.01M186.2 155.8h.01M172.5 169.8h.01M202.5 163.0h.01M207.4 173.8h.01M199.5 205.1h.01M195.1 165.0h.01M177.3 207.7h.01M199.8 167.9h.01M198.2 156.5h.01M219.3 177.9h.01M195.7 168.4h.01M174.2 200.2h.01M164.2 168.5h.01M205.3 166.0h.01M176.0 184.5h.01M170.3 205.9h.01M219.5 153.1h.01M187.2 196.9h.01M182.5 207.9h.01M189.5 162.0h.01M193.0 190.5h.01M180.9 191.3h.01M207.0 182.6h.01M189.9 202.7h.01M200.9 182.9h.01M217.3 161.6h.01M206.7 161.1h.01M196.2 165.4h.01M185.9 198.3h.01M207.2 199.4h.01M194.5 181.5h.01M161.0 187.5h.01M202.8 186.0h.01M212.5 162.0h.01M168.1 152.1h.01M175.0 199.9h.01M192.2 199.4h.01M173.4 159.9h.01M177.9 153.6h.01M178.1 189.0h.01M191.1 167.2h.01M195.0 156.4h.01M209.3 161.5h.01M174.5 160.8h.01M201.3 201.9h.01M181.2 164.2h.01M218.5 153.6h.01M188.9 197.6h.01M219.5 159.8h.01M186.8 196.6h.01M161.2 165.7h.01M213.5 159.7h.01M183.0 169.2h.01M184.9 155.7h.01M203.9 165.1h.01M187.2 208.1h.01M181.2 171.6h.01M219.1 188.4h.01M161.2 175.7h.01M198.8 154.6h.01M179.9 193.5h.01M212.0 187.1h.01M213.3 179.3h.01M183.0 202.6h.01M182.2 198.8h.01M172.0 172.3h.01M177.8 178.4h.01M219.9 192.6h.01M211.9 163.5h.01M182.4 155.5h.01M201.3 173.2h.01M175.7 152.1h.01M215.6 194.8h.01M175.3 173.1h.01M168.2 208.3h.01M180.9 197.9h.01M203.3 206.5h.01M160.1 170.7h.01M182.4 156.1h.01M213.1 170.9h.01M206.2 182.8h.01M162.2 175.1h.01M173.5 153.5h.01M178.0 177.0h.01M192.3 159.3h.01M202.3 166.9h.01M203.4 191.8h.01M202.6 175.8h.01M182.6 204.0h.01M172.7 168.9h.01M180.0 164.2h.01M161.3 152.5h.01M197.6 185.6h.01M218.8 169.2h.01M200.0 207.2h.01M172.1 193.2h.01M199.8 209.5h.01M212.2 165.4h.01M197.7 156.5h.01M185.1 175.0h.01M162.5 174.5h.01M179.0 181.4h.01M176.0 160.7h.01M199.7 165.7h.01M164.5 171.9h.01M184.8 160.2h.01M194.6 193.9h.01M192.8 193.9h.01M160.2 175.0h.01M181.2 154.9h.01M183.7 154.3h.01M178.8 166.5h.01M160.2 172.2h.01M213.6 185.6h.01M174.9 191.9h.01M217.5 173.2h.01M194.2 208.7h.01M206.2 189.4h.01M197.0 176.2h.01M184.4 167.9h.01M209.8 204.8h.01M182.3 206.7h.01M161.1 159.3h.01M190.0 169.9h.01M181.0 210.8h.01M200.6 165.4h.01M192.5 189.2h.01M193.3 201.9h.01M218.4 171.4h.01M180.1 205.2h.01M178.1 194.8h.01M201.6 193.0h.01M218.1 201.5h.01M168.6 189.0h.01M176.4 196.8h.01M191.6 165.5h.01M174.1 170.9h.01M162.7 155.2h.01M165.1 194.1h.01M188.4 160.9h.01M212.1 204.2h.01M162.1 166.5h.01M190.0 199.7h.01M182.9 194.8h.01M174.3 194.8h.01M178.9 171.4h.01M205.5 202.6h.01M209.8 185.7h.01M184.7 194.3h.01M197.1 201.9h.01M200.0 165.1h.01M170.2 151.8h.01M194.8 208.6h.01M218.5 159.2h.01M201.1 176.7h.01M197.6 175.3h.01M216.2 211.5h.01M161.8 194.7h.01M166.1 153.6h.01M176.4 195.8h.01M219.9 158.4h.01M179.1 152.6h.01M177.8 200.0h.01M210.4 168.4h.01M219.1 174.8h.01M201.5 184.4h.01M188.8 158.4h.01M178.7 152.2h.01M193.6 159.8h.01M197.3 167.8h.01M174.8 154.1h.01M163.6 162.2h.01M188.5 212.0h.01M171.2 204.1h.01M188.6 176.4h.01M208.4 175.2h.01M197.1 168.0h.01M216.5 203.9h.01M219.9 178.1h.01M210.1 195.4h.01M169.6 152.6h.01M169.2 158.3h.01M163.4 173.0h.01M205.1 170.0h.01M190.4 151.6h.01M171.7 209.7h.01M159.5 183.3h.01M207.5 196.0h.01M183.4 200.1h.01M209.7 198.0h.01M219.4 157.2h.01M217.2 175.6h.01M202.2 166.3h.01M214.7 152.4h.01M194.3 164.9h.01M182.7 173.6h.01M199.2 200.6h.01M181.2 190.0h.01M180.6 168.1h.01M214.5 170.7h.01M164.6 171.5h.01M204.4 163.9h.01M204.5 184.4h.01M200.6 161.9h.01M165.3 159.7h.01M180.3 177.4h.01M178.6 183.9h.01M217.4 163.5h.01M212.9 170.6h.01M205.2 157.6h.01M185.3 209.9h.01M172.3 176.0h.01M202.2 161.9h.01M175.6 192.4h.01M217.1 170.7h.01M170.1 172.9h.01M219.7 160.1h.01M197.8 174.1h.01M198.4 164.0h.01M196.7 205.3h.01M211.5 189.5h.01M210.3 193.2h.01" stroke="#2020f0" stroke-width="1.12" stroke-linecap="round" fill="none"/>
<path d="M219.1 188.4h.01M192.0 202.2h.01M213.6 185.6h.01M196.2 152.1h.01M203.7 158.5h.01M197.2 193.2h.01M163.3 189.5h.01M187.6 159.8h.01M177.8 178.4h.01M204.1 206.0h.01M174.5 160.8h.01M207.5 196.0h.01M193.5 187.2h.01M182.9 194.8h.01M199.5 179.0h.01M172.3 176.0h.01M181.9 176.3h.01M207.0 182.6h.01M194.1 201.8h.01M170.4 155.3h.01M164.6 192.5h.01M214.0 196.8h.01M220.3 155.6h.01M177.8 200.0h.01M193.7 211.9h.01M189.4 188.6h.01M212.2 165.4h.01M179.2 201.6h.01M194.8 153.8h.01M197.3 181.2h.01M170.5 195.8h.01M214.2 196.1h.01M218.8 169.2h.01M217.4 195.9h.01M212.5 153.5h.01M195.1 165.0h.01M206.7 161.1h.01M191.8 199.4h.01M166.6 177.5h.01M181.0 210.8h.01M206.2 151.1h.01M212.9 170.6h.01M165.3 153.3h.01M194.0 159.1h.01M212.1 204.2h.01M201.9 202.7h.01M161.3 152.5h.01M167.2 181.4h.01M173.8 169.3h.01M194.3 164.9h.01M186.2 155.8h.01M163.4 173.0h.01M183.0 169.2h.01M179.9 193.5h.01M182.7 173.6h.01M210.4 203.3h.01M192.5 189.2h.01M194.6 165.9h.01M215.0 204.9h.01M205.6 211.0h.01M185.7 200.1h.01M189.6 159.7h.01M181.0 179.3h.01M184.0 177.6h.01M168.4 170.7h.01M178.5 206.7h.01M163.5 164.1h.01M192.1 155.4h.01M179.1 208.8h.01M214.4 184.3h.01M200.1 196.1h.01M172.1 193.2h.01M166.1 153.6h.01M192.3 159.3h.01M204.6 198.6h.01" stroke="#d62e9a" stroke-width="1.35" stroke-linecap="round" fill="none"/>
<path d="M212.6 210.2L217.9 210.2" stroke="#ddd" stroke-width="0.5"/>
<path d="M213.6 209L216.9 209" stroke="#777" stroke-width="0.5"/>
<rect x="91.8" y="216.1" width="66.9" height="62.7" fill="#aaaaa6"/>
<rect x="29.6" y="216.1" width="62.7" height="62.7" fill="#000"/>
<path d="M60.8 223.8h.01M88.7 239.4h.01M39.7 267.0h.01M37.9 273.8h.01M58.1 250.6h.01M51.3 246.5h.01M41.7 219.0h.01M44.6 264.7h.01M43.0 276.3h.01M85.2 263.1h.01M77.1 252.4h.01M75.1 224.2h.01M59.5 267.6h.01M42.6 273.5h.01M84.8 241.9h.01M52.7 244.5h.01M53.9 277.9h.01M54.0 218.4h.01M35.9 260.9h.01M60.7 246.9h.01M64.1 262.7h.01M43.9 254.1h.01M64.4 255.0h.01M41.3 227.2h.01M51.6 273.7h.01M51.5 253.4h.01M49.1 223.1h.01M34.2 266.7h.01M78.0 239.8h.01M72.2 258.3h.01M85.5 275.6h.01M55.2 277.5h.01M89.3 253.0h.01M45.4 270.6h.01M40.2 221.0h.01M79.7 264.3h.01M59.9 268.2h.01M33.4 232.6h.01M48.0 242.5h.01M40.7 221.0h.01M51.0 272.0h.01M45.7 275.7h.01M62.5 261.5h.01M31.9 229.7h.01M81.8 265.6h.01M84.4 253.7h.01M56.4 252.4h.01M82.4 235.6h.01M30.8 258.8h.01M88.9 218.1h.01M66.7 256.3h.01M82.6 252.6h.01M46.0 241.6h.01M89.2 272.4h.01M38.4 222.5h.01M36.0 218.3h.01M57.7 225.4h.01M70.5 224.5h.01M63.3 236.6h.01M41.5 239.9h.01M73.9 250.5h.01M33.0 260.4h.01M83.9 264.3h.01M78.8 217.2h.01M58.7 220.6h.01M77.2 227.5h.01M74.0 232.3h.01M73.0 236.0h.01M32.8 240.6h.01M49.2 272.1h.01M48.3 247.6h.01M64.0 275.0h.01M36.3 253.7h.01M61.5 261.9h.01M89.7 235.8h.01M73.2 249.0h.01M64.7 220.6h.01M90.3 238.5h.01M49.8 277.8h.01M36.8 221.4h.01M34.7 266.8h.01M76.9 244.3h.01M57.4 248.5h.01M54.1 241.4h.01M45.4 260.0h.01M80.5 261.2h.01M60.1 255.6h.01M89.4 222.0h.01M59.7 247.0h.01M74.3 271.5h.01M78.1 255.2h.01M76.8 257.8h.01M83.0 259.7h.01M72.2 231.8h.01M86.6 240.4h.01M68.0 267.4h.01M89.5 277.5h.01M30.6 235.9h.01M49.4 240.8h.01M39.1 250.7h.01M35.1 235.3h.01M36.9 275.5h.01M73.5 229.4h.01M50.8 256.2h.01M72.1 232.7h.01M88.7 236.5h.01M45.8 268.7h.01M67.0 233.8h.01M53.5 274.6h.01M58.9 243.6h.01M68.2 234.0h.01M40.9 240.4h.01M47.0 228.3h.01M89.3 218.8h.01M80.0 274.2h.01M73.5 217.9h.01M61.0 219.1h.01M67.6 259.8h.01M36.0 235.7h.01M58.1 271.7h.01M53.0 225.0h.01M78.9 267.3h.01M55.0 250.6h.01M44.0 266.0h.01M82.1 273.6h.01M84.5 217.8h.01M66.0 221.6h.01M76.1 263.4h.01M41.8 220.4h.01M80.3 254.0h.01M68.3 245.7h.01M79.4 237.5h.01M46.8 238.4h.01M48.5 255.3h.01M84.9 221.1h.01M34.4 248.2h.01M71.9 228.4h.01M46.8 220.3h.01M32.5 247.1h.01M72.1 256.9h.01M39.9 223.1h.01M87.4 249.8h.01M55.3 259.2h.01M75.0 249.0h.01M35.0 267.6h.01M63.0 255.3h.01M40.2 269.0h.01M79.8 272.4h.01M72.0 230.1h.01M78.0 272.2h.01M63.0 272.6h.01M89.9 240.7h.01M88.1 274.3h.01M79.0 217.4h.01M51.8 254.4h.01M67.5 263.2h.01M70.0 226.6h.01M87.4 249.7h.01M84.4 229.4h.01M91.6 250.8h.01M77.9 262.2h.01M84.5 239.0h.01M35.3 241.6h.01M41.2 249.9h.01M80.3 239.0h.01M38.3 218.4h.01M56.2 252.4h.01M31.8 257.6h.01M43.2 223.3h.01M87.3 248.9h.01M85.2 248.3h.01M37.8 231.5h.01M56.3 256.1h.01M77.6 262.9h.01M70.2 232.3h.01M56.7 239.9h.01M58.4 218.9h.01M80.8 252.8h.01M79.6 262.0h.01M75.1 277.8h.01M53.4 240.9h.01M30.4 257.6h.01M66.0 252.2h.01M91.6 228.8h.01M44.2 261.8h.01M53.0 267.5h.01M60.9 245.1h.01M54.2 255.4h.01M67.0 259.3h.01M83.4 262.9h.01M53.3 232.1h.01M78.3 265.5h.01M87.3 228.9h.01M82.3 271.5h.01M34.9 235.6h.01M69.2 225.7h.01M81.3 233.0h.01M72.2 234.9h.01M74.1 230.1h.01M72.4 237.3h.01M70.1 239.3h.01M42.1 225.4h.01M33.8 259.5h.01M55.6 224.3h.01M84.4 257.0h.01M31.5 261.3h.01M66.8 244.0h.01M61.0 275.9h.01M53.2 255.8h.01M69.3 239.2h.01M51.5 263.1h.01M69.3 244.8h.01M31.4 256.3h.01M40.4 265.8h.01M50.3 236.9h.01M39.5 255.1h.01M43.8 223.6h.01M77.0 229.2h.01M73.2 249.8h.01M35.4 231.6h.01M65.7 267.0h.01M62.2 257.5h.01M30.8 235.3h.01M49.8 272.9h.01M52.2 265.0h.01M32.3 247.4h.01M85.0 264.1h.01M65.8 227.9h.01M87.2 221.6h.01M71.0 257.0h.01M54.1 266.0h.01M33.5 234.4h.01M35.8 236.7h.01M79.0 263.0h.01M39.4 235.7h.01M44.4 239.7h.01M83.4 242.8h.01M72.7 255.3h.01M59.3 250.9h.01M52.6 228.9h.01M60.6 235.4h.01M50.5 228.2h.01M86.4 242.9h.01M83.6 237.4h.01M71.2 230.9h.01M70.2 244.4h.01M75.5 249.2h.01M53.3 233.9h.01M66.7 267.9h.01M72.7 246.2h.01M50.4 271.5h.01M82.2 225.7h.01M72.0 264.2h.01M71.8 276.0h.01M84.3 231.8h.01M91.5 236.8h.01M53.6 276.7h.01M40.5 241.0h.01M68.7 233.5h.01M46.6 265.5h.01M67.9 262.4h.01M78.8 270.3h.01M85.2 267.3h.01M90.4 247.4h.01M73.3 248.3h.01M89.8 257.0h.01M56.7 257.5h.01M48.3 224.7h.01M54.0 225.1h.01M30.4 222.4h.01M58.1 263.6h.01M33.2 255.9h.01M37.0 248.1h.01M48.4 244.1h.01M74.0 242.1h.01M54.3 261.5h.01M37.3 238.2h.01M73.4 268.0h.01M90.4 232.5h.01M68.6 235.9h.01M73.4 268.7h.01M38.5 237.9h.01M87.8 238.4h.01M69.1 267.0h.01M47.3 264.9h.01M30.4 237.6h.01M40.5 238.0h.01M43.3 218.3h.01M40.9 252.0h.01M64.3 268.9h.01M82.3 254.9h.01M87.3 235.7h.01M78.9 269.3h.01M76.1 261.6h.01M45.2 236.5h.01M48.9 243.4h.01M84.0 278.0h.01M35.4 276.0h.01M86.7 245.0h.01M72.8 264.9h.01M41.7 254.6h.01M90.6 270.8h.01M86.3 221.9h.01M74.2 246.6h.01M86.1 227.0h.01M64.0 224.1h.01M74.6 218.6h.01M49.2 225.4h.01M69.3 255.4h.01M34.1 275.2h.01M89.6 243.8h.01M65.5 239.1h.01M67.5 241.2h.01M57.3 262.8h.01M41.7 235.0h.01M77.2 230.5h.01M34.4 272.8h.01M40.0 242.0h.01M49.5 232.8h.01M51.9 249.7h.01M37.3 249.5h.01M33.3 221.6h.01M48.1 268.2h.01M70.7 245.8h.01M77.6 258.9h.01M49.6 254.6h.01M69.1 273.8h.01M46.4 258.0h.01M90.3 249.2h.01M85.9 222.5h.01M74.7 233.0h.01M76.3 242.7h.01M83.4 256.3h.01M89.7 229.2h.01M63.3 259.5h.01M61.6 250.8h.01M56.7 242.5h.01M72.3 258.2h.01M46.3 259.3h.01M56.7 217.6h.01M48.1 239.9h.01M42.3 257.9h.01M87.5 255.4h.01M85.2 220.4h.01M52.5 239.7h.01M51.2 243.0h.01M33.7 258.5h.01M89.0 231.1h.01M41.6 237.3h.01M79.2 230.6h.01M77.6 227.3h.01M66.8 261.1h.01M71.6 221.9h.01M89.0 268.9h.01M59.8 269.6h.01M67.2 227.1h.01M54.6 267.2h.01M58.7 219.3h.01M40.4 228.2h.01M66.2 256.3h.01M57.7 241.5h.01M89.4 237.8h.01M71.5 229.3h.01M50.9 223.8h.01M53.6 256.9h.01M64.0 265.6h.01M59.6 221.9h.01M74.9 241.4h.01M76.4 276.7h.01M60.9 236.3h.01M36.4 241.2h.01M70.6 266.9h.01M77.0 271.1h.01M79.5 242.0h.01M73.7 233.0h.01M56.4 264.7h.01M51.3 274.9h.01M85.8 228.4h.01M52.5 265.2h.01M76.7 234.1h.01M57.6 275.8h.01M35.7 233.6h.01M71.1 272.5h.01M88.4 245.6h.01M78.8 276.5h.01M50.5 230.7h.01M46.2 264.8h.01M38.8 250.3h.01M87.4 229.1h.01M68.9 249.3h.01M89.6 248.3h.01M60.4 272.3h.01M76.5 225.6h.01M79.6 241.2h.01M89.8 275.9h.01M60.5 242.3h.01M67.0 253.5h.01M75.4 251.6h.01M87.2 234.0h.01M35.9 252.5h.01M46.8 277.5h.01M86.9 259.0h.01M81.5 231.7h.01M60.0 240.2h.01M51.4 239.7h.01M59.6 256.9h.01M31.7 249.9h.01M38.1 276.3h.01M64.1 252.9h.01M49.6 260.1h.01M73.9 272.7h.01M65.9 233.3h.01M49.1 260.9h.01M38.3 253.4h.01M40.6 218.9h.01M46.4 268.9h.01M54.1 248.9h.01M78.8 276.9h.01M46.1 259.4h.01M78.3 265.5h.01M51.5 245.9h.01M78.4 232.1h.01M60.1 255.7h.01M82.6 231.7h.01M71.1 230.1h.01M39.8 246.0h.01M70.0 256.1h.01M88.5 226.8h.01M62.8 246.2h.01M46.1 273.1h.01M39.0 232.7h.01M32.7 256.3h.01M70.6 230.5h.01M86.9 255.7h.01M42.6 274.6h.01M82.7 236.0h.01M83.4 224.7h.01M51.6 242.5h.01M88.9 235.1h.01M53.9 229.4h.01M80.6 228.0h.01M82.3 237.7h.01M64.0 270.6h.01M46.6 249.2h.01M69.3 252.2h.01M55.3 256.4h.01M49.5 226.2h.01M30.7 254.0h.01M65.5 265.9h.01M62.5 267.8h.01M62.1 243.5h.01M69.9 225.8h.01M59.8 274.8h.01M90.4 242.9h.01M46.5 274.3h.01M59.1 258.1h.01M34.3 237.3h.01M75.0 237.9h.01M72.9 246.5h.01M80.2 248.2h.01M80.2 261.1h.01M60.4 254.2h.01M53.4 221.4h.01M84.6 266.4h.01M77.4 269.5h.01M64.1 277.9h.01M59.3 277.0h.01M35.2 240.0h.01M65.3 267.0h.01M62.2 265.3h.01M53.2 258.3h.01M79.2 253.6h.01M31.5 257.1h.01M30.2 235.3h.01M37.3 263.7h.01M42.9 259.4h.01M34.6 254.5h.01M54.6 254.9h.01M35.0 217.7h.01M35.0 271.5h.01M60.4 254.4h.01M38.4 258.9h.01M42.4 264.7h.01M82.4 277.7h.01M65.0 256.4h.01M51.4 264.7h.01M49.3 255.1h.01M68.7 277.5h.01M78.6 222.6h.01M41.1 238.7h.01M54.6 260.8h.01M46.2 251.1h.01M58.0 235.5h.01M69.7 243.4h.01M90.4 224.6h.01M85.5 255.9h.01M58.4 221.5h.01M70.0 266.1h.01M51.7 260.5h.01M62.9 222.3h.01M49.4 246.2h.01M77.0 270.6h.01M82.7 239.3h.01M82.3 226.1h.01M64.1 243.3h.01M83.5 261.1h.01M70.7 266.6h.01M51.6 244.0h.01M36.5 238.3h.01M86.5 253.6h.01M57.6 224.0h.01M57.7 251.4h.01M39.1 276.8h.01M52.4 243.4h.01M47.7 239.6h.01M47.2 269.2h.01M34.6 239.1h.01M67.0 246.2h.01M50.1 246.5h.01M34.0 235.6h.01M57.0 263.9h.01M56.7 242.2h.01M70.4 233.7h.01M63.4 256.9h.01M84.0 265.6h.01M91.0 231.0h.01M88.9 244.1h.01M52.7 244.7h.01M86.9 275.4h.01M79.7 235.2h.01M37.5 229.2h.01M71.5 259.9h.01M34.2 216.9h.01M91.4 237.5h.01M32.8 245.3h.01M36.2 266.8h.01M62.8 254.4h.01M87.2 224.4h.01M43.4 265.1h.01M67.5 243.7h.01M52.1 254.8h.01M88.3 275.0h.01M86.6 276.9h.01M38.3 218.4h.01M81.2 231.9h.01M62.3 245.5h.01M90.1 243.9h.01M38.5 229.3h.01M85.8 266.9h.01M38.8 276.0h.01M53.1 261.4h.01M64.9 269.5h.01M60.3 218.5h.01M64.5 269.1h.01M55.5 267.5h.01M57.7 238.8h.01M52.3 230.8h.01M61.0 275.7h.01M66.5 263.9h.01M41.2 239.4h.01M65.9 240.3h.01M30.7 270.1h.01M38.1 257.2h.01M48.0 233.3h.01M50.6 250.0h.01M90.5 225.6h.01M45.3 271.8h.01M47.2 257.7h.01M74.6 216.7h.01M31.9 263.4h.01M86.7 259.4h.01M58.9 222.9h.01M32.4 248.4h.01M34.3 218.4h.01M38.0 277.1h.01M32.2 260.8h.01M58.2 252.8h.01M48.9 277.0h.01M79.9 241.6h.01M56.7 273.2h.01M39.8 270.5h.01M68.3 251.6h.01M63.0 253.0h.01M35.8 232.0h.01M51.9 230.3h.01M75.8 240.8h.01M88.1 231.7h.01M61.7 242.7h.01M78.9 224.7h.01M63.8 244.6h.01M68.6 231.0h.01M63.6 277.3h.01M36.5 276.5h.01M89.7 244.3h.01M35.2 247.2h.01M89.4 216.8h.01M76.5 264.7h.01M37.3 253.8h.01M39.3 222.8h.01M62.3 235.0h.01M70.7 249.1h.01M44.3 273.3h.01M30.6 266.0h.01M47.5 272.0h.01M67.5 244.9h.01M43.5 269.4h.01M83.0 275.8h.01M66.5 273.6h.01M85.2 257.7h.01M51.0 253.8h.01M51.3 266.7h.01M64.2 270.0h.01M85.1 263.1h.01M42.7 237.3h.01M35.5 237.3h.01M39.9 235.1h.01M79.0 224.1h.01M86.6 273.4h.01M77.6 231.3h.01M48.1 244.8h.01M68.3 273.6h.01M31.5 222.0h.01M80.8 218.1h.01M85.2 228.2h.01M90.2 245.7h.01M67.5 267.4h.01M80.8 242.2h.01M58.5 265.2h.01M46.0 235.4h.01M83.8 270.9h.01M81.1 237.8h.01M51.3 223.1h.01M81.4 219.7h.01M91.4 221.0h.01M52.1 227.4h.01M72.7 272.1h.01M40.4 220.6h.01M55.3 274.2h.01M33.9 225.2h.01M69.9 263.5h.01M58.0 219.5h.01M33.7 274.3h.01M36.5 245.9h.01M80.7 229.0h.01M54.2 265.5h.01M91.4 267.0h.01M31.7 220.3h.01M61.1 217.5h.01M89.4 234.7h.01M64.0 270.7h.01M56.4 263.8h.01M39.7 244.1h.01M74.9 245.5h.01M41.6 269.5h.01M52.2 272.8h.01M49.5 267.6h.01M37.8 258.2h.01M68.8 242.2h.01M90.5 276.1h.01M80.8 230.4h.01M35.7 254.4h.01M38.4 220.4h.01M64.4 274.8h.01M46.9 267.2h.01M89.3 274.6h.01M35.2 225.0h.01M88.9 276.1h.01M40.7 227.8h.01M74.0 222.7h.01M36.6 226.5h.01M65.8 239.5h.01M82.0 226.1h.01M85.4 265.1h.01M53.2 253.9h.01M71.8 224.2h.01M87.5 243.8h.01M61.9 269.1h.01M31.5 233.1h.01M32.1 262.0h.01M91.4 227.8h.01M55.7 265.2h.01M38.3 241.7h.01M81.9 238.5h.01M88.9 238.7h.01M59.5 264.6h.01M86.3 268.6h.01M56.2 244.5h.01M38.2 249.8h.01M80.6 228.4h.01M49.6 220.7h.01" stroke="#2020f0" stroke-width="1.12" stroke-linecap="round" fill="none"/>
<path d="M83.8 276.2L89.1 276.2" stroke="#ddd" stroke-width="0.5"/>
<path d="M84.8 275L88.1 275" stroke="#777" stroke-width="0.5"/>
<rect x="94" y="216.1" width="62.5" height="62.7" fill="#000"/>
<path d="M139.4 249.0h.01M131.1 267.9h.01M116.0 273.7h.01M122.9 265.2h.01M139.4 237.9h.01M131.4 259.3h.01M108.4 266.0h.01M105.1 227.8h.01M153.4 268.9h.01M141.3 244.3h.01M137.1 255.3h.01M118.7 261.5h.01M131.1 256.3h.01M110.8 258.0h.01M104.3 235.1h.01M156.0 228.8h.01M154.9 225.6h.01M145.0 228.0h.01M153.3 218.1h.01M133.0 231.0h.01M108.3 254.1h.01M111.9 272.0h.01M122.5 263.6h.01M113.9 232.8h.01M97.1 256.3h.01M99.3 235.6h.01M108.6 261.8h.01M144.4 274.2h.01M140.9 264.7h.01M102.7 218.4h.01M121.1 273.2h.01M148.3 264.3h.01M127.7 259.5h.01M120.6 244.5h.01M151.9 255.4h.01M137.7 248.3h.01M123.9 264.6h.01M145.9 231.7h.01M116.3 249.7h.01M117.1 244.7h.01M127.4 255.3h.01M104.9 238.0h.01M137.8 268.0h.01M147.8 262.9h.01M128.4 270.6h.01M95.9 233.1h.01M142.0 227.3h.01M145.6 231.9h.01M109.8 270.6h.01M110.5 273.1h.01M104.9 241.0h.01M114.5 246.5h.01M151.7 235.7h.01M144.1 235.2h.01M142.7 265.5h.01M96.1 249.9h.01M96.1 220.3h.01M106.1 235.0h.01M122.6 252.8h.01M135.5 272.5h.01M116.5 227.4h.01M102.8 220.4h.01M115.9 253.4h.01M150.5 227.0h.01M128.2 244.6h.01M115.4 253.8h.01M102.4 277.1h.01M116.7 230.8h.01M131.9 243.7h.01M111.0 249.2h.01M116.5 254.8h.01M116.0 242.5h.01M142.5 255.2h.01M147.4 259.7h.01M110.9 274.3h.01M118.0 256.9h.01M99.5 235.3h.01M155.8 267.0h.01M113.5 260.9h.01M105.9 239.9h.01M106.5 225.4h.01M148.4 265.6h.01M135.6 230.9h.01M138.3 272.7h.01M106.1 219.0h.01M113.8 240.8h.01M126.6 265.3h.01M138.5 230.1h.01M121.1 239.9h.01M149.9 275.6h.01M105.6 239.4h.01M114.9 230.7h.01M123.1 219.3h.01M136.2 224.2h.01M121.1 242.5h.01M128.4 265.6h.01M133.6 225.7h.01M151.9 243.8h.01M97.8 232.6h.01M123.1 220.6h.01M150.2 266.9h.01M111.2 220.3h.01M131.2 244.0h.01M115.2 256.2h.01M153.6 272.4h.01M136.8 237.3h.01M115.9 245.9h.01M146.5 273.6h.01M154.3 240.7h.01M143.6 253.6h.01M146.2 265.6h.01M119.4 250.6h.01M122.0 224.0h.01M127.2 254.4h.01M96.9 247.1h.01M119.7 274.2h.01M129.4 256.4h.01M133.1 277.5h.01M137.4 236.0h.01M135.9 229.3h.01M153.7 218.8h.01M154.2 257.0h.01M144.3 241.6h.01M100.3 260.9h.01M142.7 265.5h.01" stroke="#dc1c1c" stroke-width="1.35" stroke-linecap="round" fill="none"/>
<path d="M148 276.2L153.3 276.2" stroke="#ddd" stroke-width="0.5"/>
<path d="M149 275L152.3 275" stroke="#777" stroke-width="0.5"/>
<rect x="158.2" y="216.1" width="62.9" height="62.7" fill="#000"/>
<path d="M189.4 223.8h.01M217.3 239.4h.01M168.3 267.0h.01M166.5 273.8h.01M186.7 250.6h.01M179.9 246.5h.01M170.3 219.0h.01M173.2 264.7h.01M171.6 276.3h.01M213.8 263.1h.01M205.7 252.4h.01M203.7 224.2h.01M188.1 267.6h.01M171.2 273.5h.01M213.4 241.9h.01M181.3 244.5h.01M182.5 277.9h.01M182.6 218.4h.01M164.5 260.9h.01M189.3 246.9h.01M192.7 262.7h.01M172.5 254.1h.01M193.0 255.0h.01M169.9 227.2h.01M180.2 273.7h.01M180.1 253.4h.01M177.7 223.1h.01M162.8 266.7h.01M206.6 239.8h.01M200.8 258.3h.01M214.1 275.6h.01M183.8 277.5h.01M217.9 253.0h.01M174.0 270.6h.01M168.8 221.0h.01M208.3 264.3h.01M188.5 268.2h.01M162.0 232.6h.01M176.6 242.5h.01M169.3 221.0h.01M179.6 272.0h.01M174.3 275.7h.01M191.1 261.5h.01M160.5 229.7h.01M210.4 265.6h.01M213.0 253.7h.01M185.0 252.4h.01M211.0 235.6h.01M159.4 258.8h.01M217.5 218.1h.01M195.3 256.3h.01M211.2 252.6h.01M174.6 241.6h.01M217.8 272.4h.01M167.0 222.5h.01M164.6 218.3h.01M186.3 225.4h.01M199.1 224.5h.01M191.9 236.6h.01M170.1 239.9h.01M202.5 250.5h.01M161.6 260.4h.01M212.5 264.3h.01M207.4 217.2h.01M187.3 220.6h.01M205.8 227.5h.01M202.6 232.3h.01M201.6 236.0h.01M161.4 240.6h.01M177.8 272.1h.01M176.9 247.6h.01M192.6 275.0h.01M164.9 253.7h.01M190.1 261.9h.01M218.3 235.8h.01M201.8 249.0h.01M193.3 220.6h.01M218.9 238.5h.01M178.4 277.8h.01M165.4 221.4h.01M163.3 266.8h.01M205.5 244.3h.01M186.0 248.5h.01M182.7 241.4h.01M174.0 260.0h.01M209.1 261.2h.01M188.7 255.6h.01M218.0 222.0h.01M188.3 247.0h.01M202.9 271.5h.01M206.7 255.2h.01M205.4 257.8h.01M211.6 259.7h.01M200.8 231.8h.01M215.2 240.4h.01M196.6 267.4h.01M218.1 277.5h.01M159.2 235.9h.01M178.0 240.8h.01M167.7 250.7h.01M163.7 235.3h.01M165.5 275.5h.01M202.1 229.4h.01M179.4 256.2h.01M200.7 232.7h.01M217.3 236.5h.01M174.4 268.7h.01M195.6 233.8h.01M182.1 274.6h.01M187.5 243.6h.01M196.8 234.0h.01M169.5 240.4h.01M175.6 228.3h.01M217.9 218.8h.01M208.6 274.2h.01M202.1 217.9h.01M189.6 219.1h.01M196.2 259.8h.01M164.6 235.7h.01M186.7 271.7h.01M181.6 225.0h.01M207.5 267.3h.01M183.6 250.6h.01M172.6 266.0h.01M210.7 273.6h.01M213.1 217.8h.01M194.6 221.6h.01M204.7 263.4h.01M170.4 220.4h.01M208.9 254.0h.01M196.9 245.7h.01M208.0 237.5h.01M175.4 238.4h.01M177.1 255.3h.01M213.5 221.1h.01M163.0 248.2h.01M200.5 228.4h.01M175.4 220.3h.01M161.1 247.1h.01M200.7 256.9h.01M168.5 223.1h.01M216.0 249.8h.01M183.9 259.2h.01M203.6 249.0h.01M163.6 267.6h.01M191.6 255.3h.01M168.8 269.0h.01M208.4 272.4h.01M200.6 230.1h.01M206.6 272.2h.01M191.6 272.6h.01M218.5 240.7h.01M216.7 274.3h.01M207.6 217.4h.01M180.4 254.4h.01M196.1 263.2h.01M198.6 226.6h.01M216.0 249.7h.01M213.0 229.4h.01M220.2 250.8h.01M206.5 262.2h.01M213.1 239.0h.01M163.9 241.6h.01M169.8 249.9h.01M208.9 239.0h.01M166.9 218.4h.01M184.8 252.4h.01M160.4 257.6h.01M171.8 223.3h.01M215.9 248.9h.01M213.8 248.3h.01M166.4 231.5h.01M184.9 256.1h.01M206.2 262.9h.01M198.8 232.3h.01M185.3 239.9h.01M187.0 218.9h.01M209.4 252.8h.01M208.2 262.0h.01M203.7 277.8h.01M182.0 240.9h.01M159.0 257.6h.01M194.6 252.2h.01M220.2 228.8h.01M172.8 261.8h.01M181.6 267.5h.01M189.5 245.1h.01M182.8 255.4h.01M195.6 259.3h.01M212.0 262.9h.01M181.9 232.1h.01M206.9 265.5h.01M215.9 228.9h.01M210.9 271.5h.01M163.5 235.6h.01M197.8 225.7h.01M209.9 233.0h.01M200.8 234.9h.01M202.7 230.1h.01M201.0 237.3h.01M198.7 239.3h.01M170.7 225.4h.01M162.4 259.5h.01M184.2 224.3h.01M213.0 257.0h.01M160.1 261.3h.01M195.4 244.0h.01M189.6 275.9h.01M181.8 255.8h.01M197.9 239.2h.01M180.1 263.1h.01M197.9 244.8h.01M160.0 256.3h.01M169.0 265.8h.01M178.9 236.9h.01M168.1 255.1h.01M172.4 223.6h.01M205.6 229.2h.01M201.8 249.8h.01M164.0 231.6h.01M194.3 267.0h.01M190.8 257.5h.01M159.4 235.3h.01M178.4 272.9h.01M180.8 265.0h.01M160.9 247.4h.01M213.6 264.1h.01M194.4 227.9h.01M215.8 221.6h.01M199.6 257.0h.01M182.7 266.0h.01M162.1 234.4h.01M164.4 236.7h.01M207.6 263.0h.01M168.0 235.7h.01M173.0 239.7h.01M212.0 242.8h.01M201.3 255.3h.01M187.9 250.9h.01M181.2 228.9h.01M189.2 235.4h.01M179.1 228.2h.01M215.0 242.9h.01M212.2 237.4h.01M199.8 230.9h.01M198.8 244.4h.01M204.1 249.2h.01M181.9 233.9h.01M195.3 267.9h.01M201.3 246.2h.01M179.0 271.5h.01M210.8 225.7h.01M200.6 264.2h.01M200.4 276.0h.01M212.9 231.8h.01M220.1 236.8h.01M182.2 276.7h.01M169.1 241.0h.01M197.3 233.5h.01M175.2 265.5h.01M196.5 262.4h.01M207.4 270.3h.01M213.8 267.3h.01M219.0 247.4h.01M201.9 248.3h.01M218.4 257.0h.01M185.3 257.5h.01M176.9 224.7h.01M182.6 225.1h.01M159.0 222.4h.01M186.7 263.6h.01M161.8 255.9h.01M165.6 248.1h.01M177.0 244.1h.01M202.6 242.1h.01M182.9 261.5h.01M165.9 238.2h.01M202.0 268.0h.01M219.0 232.5h.01M197.2 235.9h.01M202.0 268.7h.01M167.1 237.9h.01M216.4 238.4h.01M197.7 267.0h.01M175.9 264.9h.01M159.0 237.6h.01M169.1 238.0h.01M171.9 218.3h.01M169.5 252.0h.01M192.9 268.9h.01M210.9 254.9h.01M215.9 235.7h.01M207.5 269.3h.01M204.7 261.6h.01M173.8 236.5h.01M177.5 243.4h.01M212.6 278.0h.01M164.0 276.0h.01M215.3 245.0h.01M201.4 264.9h.01M170.3 254.6h.01M219.2 270.8h.01M214.9 221.9h.01M202.8 246.6h.01M214.7 227.0h.01M192.6 224.1h.01M203.2 218.6h.01M177.8 225.4h.01M197.9 255.4h.01M162.7 275.2h.01M218.2 243.8h.01M194.1 239.1h.01M196.1 241.2h.01M185.9 262.8h.01M170.3 235.0h.01M205.8 230.5h.01M163.0 272.8h.01M168.6 242.0h.01M178.1 232.8h.01M180.5 249.7h.01M165.9 249.5h.01M161.9 221.6h.01M176.7 268.2h.01M199.3 245.8h.01M206.2 258.9h.01M178.2 254.6h.01M197.7 273.8h.01M175.0 258.0h.01M218.9 249.2h.01M214.5 222.5h.01M203.3 233.0h.01M204.9 242.7h.01M212.0 256.3h.01M218.3 229.2h.01M191.9 259.5h.01M190.2 250.8h.01M185.3 242.5h.01M200.9 258.2h.01M174.9 259.3h.01M185.3 217.6h.01M176.7 239.9h.01M170.9 257.9h.01M216.1 255.4h.01M213.8 220.4h.01M181.1 239.7h.01M179.8 243.0h.01M162.3 258.5h.01M217.6 231.1h.01M170.2 237.3h.01M207.8 230.6h.01M206.2 227.3h.01M195.4 261.1h.01M200.2 221.9h.01M217.6 268.9h.01M188.4 269.6h.01M195.8 227.1h.01M183.2 267.2h.01M187.3 219.3h.01M169.0 228.2h.01M194.8 256.3h.01M186.3 241.5h.01M218.0 237.8h.01M200.1 229.3h.01M179.5 223.8h.01M182.2 256.9h.01M192.6 265.6h.01M188.2 221.9h.01M203.5 241.4h.01M205.0 276.7h.01M189.5 236.3h.01M165.0 241.2h.01M199.2 266.9h.01M205.6 271.1h.01M208.1 242.0h.01M202.3 233.0h.01M185.0 264.7h.01M179.9 274.9h.01M214.4 228.4h.01M181.1 265.2h.01M205.3 234.1h.01M186.2 275.8h.01M164.3 233.6h.01M199.7 272.5h.01M217.0 245.6h.01M207.4 276.5h.01M179.1 230.7h.01M174.8 264.8h.01M167.4 250.3h.01M216.0 229.1h.01M197.5 249.3h.01M218.2 248.3h.01M189.0 272.3h.01M205.1 225.6h.01M208.2 241.2h.01M218.4 275.9h.01M189.1 242.3h.01M195.6 253.5h.01M204.0 251.6h.01M215.8 234.0h.01M164.5 252.5h.01M175.4 277.5h.01M215.5 259.0h.01M210.1 231.7h.01M188.6 240.2h.01M180.0 239.7h.01M188.2 256.9h.01M160.3 249.9h.01M166.7 276.3h.01M192.7 252.9h.01M178.2 260.1h.01M202.5 272.7h.01M194.5 233.3h.01M177.7 260.9h.01M166.9 253.4h.01M169.2 218.9h.01M175.0 268.9h.01M182.7 248.9h.01M207.4 276.9h.01M174.7 259.4h.01M206.9 265.5h.01M180.1 245.9h.01M207.0 232.1h.01M188.7 255.7h.01M211.2 231.7h.01M199.7 230.1h.01M168.4 246.0h.01M198.6 256.1h.01M217.1 226.8h.01M191.4 246.2h.01M174.7 273.1h.01M167.6 232.7h.01M161.3 256.3h.01M199.2 230.5h.01M215.5 255.7h.01M171.2 274.6h.01M211.3 236.0h.01M212.0 224.7h.01M180.2 242.5h.01M217.5 235.1h.01M182.5 229.4h.01M209.2 228.0h.01M210.9 237.7h.01M192.6 270.6h.01M175.2 249.2h.01M197.9 252.2h.01M183.9 256.4h.01M178.1 226.2h.01M159.3 254.0h.01M194.1 265.9h.01M191.1 267.8h.01M190.7 243.5h.01M198.5 225.8h.01M188.4 274.8h.01M219.0 242.9h.01M175.1 274.3h.01M187.7 258.1h.01M162.9 237.3h.01M203.6 237.9h.01M201.5 246.5h.01M208.8 248.2h.01M208.8 261.1h.01M189.0 254.2h.01M182.0 221.4h.01M213.2 266.4h.01M206.0 269.5h.01M192.7 277.9h.01M187.9 277.0h.01M163.8 240.0h.01M193.9 267.0h.01M190.8 265.3h.01M181.8 258.3h.01M207.8 253.6h.01M160.1 257.1h.01M158.8 235.3h.01M165.9 263.7h.01M171.5 259.4h.01M163.2 254.5h.01M183.2 254.9h.01M163.6 217.7h.01M163.6 271.5h.01M189.0 254.4h.01M167.0 258.9h.01M171.0 264.7h.01M211.0 277.7h.01M193.6 256.4h.01M180.0 264.7h.01M177.9 255.1h.01M197.3 277.5h.01M207.2 222.6h.01M169.7 238.7h.01M183.2 260.8h.01M174.8 251.1h.01M186.6 235.5h.01M198.3 243.4h.01M219.0 224.6h.01M214.1 255.9h.01M187.0 221.5h.01M198.6 266.1h.01M180.3 260.5h.01M191.5 222.3h.01M178.0 246.2h.01M205.6 270.6h.01M211.3 239.3h.01M210.9 226.1h.01M192.7 243.3h.01M212.1 261.1h.01M199.3 266.6h.01M180.2 244.0h.01M165.1 238.3h.01M215.1 253.6h.01M186.2 224.0h.01M186.3 251.4h.01M167.7 276.8h.01M181.0 243.4h.01M176.3 239.6h.01M175.8 269.2h.01M163.2 239.1h.01M195.6 246.2h.01M178.7 246.5h.01M162.6 235.6h.01M185.6 263.9h.01M185.3 242.2h.01M199.0 233.7h.01M192.0 256.9h.01M212.6 265.6h.01M219.6 231.0h.01M217.5 244.1h.01M181.3 244.7h.01M215.5 275.4h.01M208.3 235.2h.01M166.1 229.2h.01M200.1 259.9h.01M162.8 216.9h.01M220.0 237.5h.01M161.4 245.3h.01M164.8 266.8h.01M191.4 254.4h.01M215.8 224.4h.01M172.0 265.1h.01M196.1 243.7h.01M180.7 254.8h.01M216.9 275.0h.01M215.2 276.9h.01M166.9 218.4h.01M209.8 231.9h.01M190.9 245.5h.01M218.7 243.9h.01M167.1 229.3h.01M214.4 266.9h.01M167.4 276.0h.01M181.7 261.4h.01M193.5 269.5h.01M188.9 218.5h.01M193.1 269.1h.01M184.1 267.5h.01M186.3 238.8h.01M180.9 230.8h.01M189.6 275.7h.01M195.1 263.9h.01M169.8 239.4h.01M194.5 240.3h.01M159.3 270.1h.01M166.7 257.2h.01M176.6 233.3h.01M179.2 250.0h.01M219.1 225.6h.01M173.9 271.8h.01M175.8 257.7h.01M203.2 216.7h.01M160.5 263.4h.01M215.3 259.4h.01M187.5 222.9h.01M161.0 248.4h.01M162.9 218.4h.01M166.6 277.1h.01M160.8 260.8h.01M186.8 252.8h.01M177.5 277.0h.01M208.5 241.6h.01M185.3 273.2h.01M168.4 270.5h.01M196.9 251.6h.01M191.6 253.0h.01M164.4 232.0h.01M180.5 230.3h.01M204.4 240.8h.01M216.7 231.7h.01M190.3 242.7h.01M207.5 224.7h.01M192.4 244.6h.01M197.2 231.0h.01M192.2 277.3h.01M165.1 276.5h.01M218.3 244.3h.01M163.8 247.2h.01M218.0 216.8h.01M205.1 264.7h.01M165.9 253.8h.01M167.9 222.8h.01M190.9 235.0h.01M199.3 249.1h.01M172.9 273.3h.01M159.2 266.0h.01M176.1 272.0h.01M196.1 244.9h.01M172.1 269.4h.01M211.6 275.8h.01M195.1 273.6h.01M213.8 257.7h.01M179.6 253.8h.01M179.9 266.7h.01M192.8 270.0h.01M213.7 263.1h.01M171.3 237.3h.01M164.1 237.3h.01M168.5 235.1h.01M207.6 224.1h.01M215.2 273.4h.01M206.2 231.3h.01M176.7 244.8h.01M196.9 273.6h.01M160.1 222.0h.01M209.4 218.1h.01M213.8 228.2h.01M218.8 245.7h.01M196.1 267.4h.01M209.4 242.2h.01M187.1 265.2h.01M174.6 235.4h.01M212.4 270.9h.01M209.7 237.8h.01M179.9 223.1h.01M210.0 219.7h.01M220.0 221.0h.01M180.7 227.4h.01M201.3 272.1h.01M169.0 220.6h.01M183.9 274.2h.01M162.5 225.2h.01M198.5 263.5h.01M186.6 219.5h.01M162.3 274.3h.01M165.1 245.9h.01M209.3 229.0h.01M182.8 265.5h.01M220.0 267.0h.01M160.3 220.3h.01M189.7 217.5h.01M218.0 234.7h.01M192.6 270.7h.01M185.0 263.8h.01M168.3 244.1h.01M203.5 245.5h.01M170.2 269.5h.01M180.8 272.8h.01M178.1 267.6h.01M166.4 258.2h.01M197.4 242.2h.01M219.1 276.1h.01M209.4 230.4h.01M164.3 254.4h.01M167.0 220.4h.01M193.0 274.8h.01M175.5 267.2h.01M217.9 274.6h.01M163.8 225.0h.01M217.5 276.1h.01M169.3 227.8h.01M202.6 222.7h.01M165.2 226.5h.01M194.4 239.5h.01M210.6 226.1h.01M214.0 265.1h.01M181.8 253.9h.01M200.4 224.2h.01M216.1 243.8h.01M190.5 269.1h.01M160.1 233.1h.01M160.7 262.0h.01M220.0 227.8h.01M184.3 265.2h.01M166.9 241.7h.01M210.5 238.5h.01M217.5 238.7h.01M188.1 264.6h.01M214.9 268.6h.01M184.8 244.5h.01M166.8 249.8h.01M209.2 228.4h.01M178.2 220.7h.01" stroke="#2020f0" stroke-width="1.12" stroke-linecap="round" fill="none"/>
<path d="M203.6 249.0h.01M195.3 267.9h.01M180.2 273.7h.01M187.1 265.2h.01M203.6 237.9h.01M195.6 259.3h.01M172.6 266.0h.01M169.3 227.8h.01M217.6 268.9h.01M205.5 244.3h.01M201.3 255.3h.01M182.9 261.5h.01M195.3 256.3h.01M175.0 258.0h.01M168.5 235.1h.01M220.2 228.8h.01M219.1 225.6h.01M209.2 228.0h.01M217.5 218.1h.01M197.2 231.0h.01M172.5 254.1h.01M176.1 272.0h.01M186.7 263.6h.01M178.1 232.8h.01M161.3 256.3h.01M163.5 235.6h.01M172.8 261.8h.01M208.6 274.2h.01M205.1 264.7h.01M166.9 218.4h.01M185.3 273.2h.01M212.5 264.3h.01M191.9 259.5h.01M184.8 244.5h.01M216.1 255.4h.01M201.9 248.3h.01M188.1 264.6h.01M210.1 231.7h.01M180.5 249.7h.01M181.3 244.7h.01M191.6 255.3h.01M169.1 238.0h.01M202.0 268.0h.01M212.0 262.9h.01M192.6 270.6h.01M160.1 233.1h.01M206.2 227.3h.01M209.8 231.9h.01M174.0 270.6h.01M174.7 273.1h.01M169.1 241.0h.01M178.7 246.5h.01M215.9 235.7h.01M208.3 235.2h.01M206.9 265.5h.01M160.3 249.9h.01M160.3 220.3h.01M170.3 235.0h.01M186.8 252.8h.01M199.7 272.5h.01M180.7 227.4h.01M167.0 220.4h.01M180.1 253.4h.01M214.7 227.0h.01M192.4 244.6h.01M179.6 253.8h.01M166.6 277.1h.01M180.9 230.8h.01M196.1 243.7h.01M175.2 249.2h.01M180.7 254.8h.01M180.2 242.5h.01M206.7 255.2h.01M211.6 259.7h.01M175.1 274.3h.01M182.2 256.9h.01M163.7 235.3h.01M220.0 267.0h.01M177.7 260.9h.01M170.1 239.9h.01M170.7 225.4h.01M212.6 265.6h.01M199.8 230.9h.01M202.5 272.7h.01M170.3 219.0h.01M178.0 240.8h.01M190.8 265.3h.01M202.7 230.1h.01M185.3 239.9h.01M214.1 275.6h.01M169.8 239.4h.01M179.1 230.7h.01M187.3 219.3h.01M200.4 224.2h.01M185.3 242.5h.01M192.6 265.6h.01M197.8 225.7h.01M216.1 243.8h.01M162.0 232.6h.01M187.3 220.6h.01M214.4 266.9h.01M175.4 220.3h.01M195.4 244.0h.01M179.4 256.2h.01M217.8 272.4h.01M201.0 237.3h.01M180.1 245.9h.01M210.7 273.6h.01M218.5 240.7h.01M207.8 253.6h.01M210.4 265.6h.01M183.6 250.6h.01M186.2 224.0h.01M191.4 254.4h.01M161.1 247.1h.01M183.9 274.2h.01M193.6 256.4h.01M197.3 277.5h.01M201.6 236.0h.01M200.1 229.3h.01M217.9 218.8h.01M218.4 257.0h.01M208.5 241.6h.01M164.5 260.9h.01M206.9 265.5h.01" stroke="#d62e9a" stroke-width="1.35" stroke-linecap="round" fill="none"/>
<path d="M212.6 276.2L217.9 276.2" stroke="#ddd" stroke-width="0.5"/>
<path d="M213.6 275L216.9 275" stroke="#777" stroke-width="0.5"/>
<rect x="260.2" y="207.7" width="26.7" height="62.2" fill="#E9573D"/>
<path d="M273.55 207.7V205.7M267.05 205.7H280.05" stroke="#E9573D" stroke-width="0.7" fill="none"/>
<rect x="300.9" y="186.9" width="26.6" height="83" fill="#FDB562"/>
<path d="M314.2 186.9V186.5M307.7 186.5H320.7" stroke="#FDB562" stroke-width="0.7" fill="none"/>
<path d="M246.2 183L246.2 270.4" stroke="#333" stroke-width="1"/>
<path d="M243.8 269.9L246.2 269.9" stroke="#333" stroke-width="1"/>
<text transform="translate(243.3 272.1) scale(0.909 1)" font-size="6.6" text-anchor="end" stroke="#000" stroke-width="0.25">0</text>
<path d="M243.8 248.3L246.2 248.3" stroke="#333" stroke-width="1"/>
<text transform="translate(243.3 250.5) scale(0.909 1)" font-size="6.6" text-anchor="end" stroke="#000" stroke-width="0.25">10</text>
<path d="M243.8 226.7L246.2 226.7" stroke="#333" stroke-width="1"/>
<text transform="translate(243.3 228.9) scale(0.909 1)" font-size="6.6" text-anchor="end" stroke="#000" stroke-width="0.25">20</text>
<path d="M243.8 205.1L246.2 205.1" stroke="#333" stroke-width="1"/>
<text transform="translate(243.3 207.3) scale(0.909 1)" font-size="6.6" text-anchor="end" stroke="#000" stroke-width="0.25">30</text>
<path d="M243.8 183.5L246.2 183.5" stroke="#333" stroke-width="1"/>
<text transform="translate(243.3 185.7) scale(0.909 1)" font-size="6.6" text-anchor="end" stroke="#000" stroke-width="0.25">40</text>
<path d="M245.7 269.9L341 269.9" stroke="#444" stroke-width="1"/>
<path d="M273.7 269.9L273.7 272.3" stroke="#333" stroke-width="1"/>
<path d="M314 269.9L314 272.3" stroke="#333" stroke-width="1"/>
<text transform="translate(273.7 278.8) scale(1.093 1)" font-size="5.2" text-anchor="middle" stroke="#000" stroke-width="0.25">pcDNA3.1</text>
<text transform="translate(314.1 278.8) scale(1.121 1)" font-size="5.2" text-anchor="middle" stroke="#000" stroke-width="0.25">pcDNA3.1-FGA</text>
<text transform="translate(234.2 226) rotate(-90) scale(1.049 1)" font-size="5.6" text-anchor="middle" stroke="#000" stroke-width="0.25">Cell proliferation rate (%)</text>
<path d="M274 179.9L313.8 179.9" stroke="#666" stroke-width="1.1"/>
<text transform="translate(293.8 179.6) scale(0.833 1)" font-size="8" text-anchor="middle" fill="#222" stroke="#222" stroke-width="0.25">***</text>
</g>
<g>
<text transform="translate(343.4 142.1) scale(0.988 1)" font-size="15.5">e</text>
<text transform="translate(374.9 147.7) scale(1.028 1)" font-size="12.5">DAPI</text>
<text transform="translate(443.3 147.7) scale(0.949 1)" font-size="13">EdU</text>
<text transform="translate(502.5 146.4) scale(1.014 1)" font-size="13">Merge</text>
<text transform="translate(356.7 183.8) rotate(-90) scale(1.084 1)" font-size="12" text-anchor="middle">si-NC</text>
<text transform="translate(356.7 250.2) rotate(-90) scale(1.093 1)" font-size="12" text-anchor="middle">si-FGA</text>
<rect x="422.4" y="150.4" width="67.3" height="62.5" fill="#aaaaa6"/>
<rect x="360.1" y="150.4" width="62.8" height="62.5" fill="#000"/>
<path d="M422.1 156.7h.01M362.0 208.6h.01M385.5 163.2h.01M381.0 173.4h.01M419.5 163.9h.01M374.1 186.9h.01M394.4 209.5h.01M412.4 172.8h.01M373.3 202.3h.01M421.6 152.9h.01M406.0 204.2h.01M400.8 164.4h.01M409.8 195.7h.01M372.6 190.3h.01M374.2 153.5h.01M381.4 171.5h.01M385.1 190.6h.01M412.2 209.9h.01M420.8 211.9h.01M409.4 169.8h.01M371.6 189.2h.01M394.3 192.3h.01M366.5 162.8h.01M417.4 187.9h.01M416.8 190.8h.01M421.8 163.1h.01M388.7 200.1h.01M388.1 199.4h.01M395.3 158.2h.01M366.8 211.3h.01M368.1 162.9h.01M381.3 194.7h.01M413.3 180.2h.01M391.4 199.3h.01M377.8 173.8h.01M398.4 190.0h.01M405.4 193.5h.01M408.0 166.6h.01M407.9 211.4h.01M382.2 151.7h.01M383.8 168.3h.01M371.5 153.8h.01M368.4 204.0h.01M363.8 188.6h.01M373.4 162.9h.01M411.3 169.3h.01M372.0 178.9h.01M403.5 183.1h.01M413.7 175.6h.01M393.0 195.0h.01M389.1 195.0h.01M389.5 159.2h.01M368.3 199.0h.01M406.6 208.8h.01M403.2 186.5h.01M370.9 203.3h.01M368.0 177.0h.01M369.4 174.3h.01M379.6 177.1h.01M404.5 184.2h.01M411.7 153.0h.01M398.6 205.9h.01M376.6 163.4h.01M410.8 173.3h.01M385.4 201.1h.01M384.4 163.2h.01M373.9 172.2h.01M403.7 173.6h.01M408.2 155.0h.01M376.0 189.3h.01M390.2 181.6h.01M418.3 168.0h.01M371.9 153.1h.01M390.4 169.2h.01M389.9 151.3h.01M360.7 174.3h.01M407.4 169.4h.01M416.9 186.5h.01M385.6 198.6h.01M375.1 188.1h.01M412.8 184.2h.01M380.4 156.9h.01M396.1 162.5h.01M383.7 184.3h.01M418.7 192.3h.01M392.7 203.6h.01M379.7 174.8h.01M402.4 185.0h.01M374.4 176.2h.01M411.4 165.9h.01M404.2 154.0h.01M419.5 192.9h.01M380.6 211.3h.01M409.8 154.8h.01M376.0 181.1h.01M422.2 159.6h.01M363.6 170.2h.01M363.5 176.1h.01M362.1 200.2h.01M387.8 180.4h.01M390.1 193.0h.01M416.2 201.7h.01M405.5 171.8h.01M371.1 156.5h.01M413.6 154.5h.01M395.8 206.8h.01M380.6 174.9h.01M386.4 208.9h.01M402.8 202.4h.01M363.1 195.8h.01M388.5 175.6h.01M411.0 196.1h.01M416.8 196.3h.01M416.8 177.2h.01M395.0 199.1h.01M388.6 159.4h.01M396.8 204.4h.01M414.3 158.7h.01M384.2 165.0h.01M381.7 209.8h.01M386.6 170.2h.01M377.5 178.0h.01M402.0 172.0h.01M372.2 164.9h.01M376.7 206.6h.01M371.1 197.2h.01M367.4 199.2h.01M365.5 156.8h.01M410.0 184.2h.01M390.6 172.6h.01M403.3 180.6h.01M364.5 187.8h.01M380.0 202.9h.01M394.5 198.4h.01M368.1 194.3h.01M398.3 203.2h.01M415.2 184.8h.01M397.2 198.0h.01M376.9 184.4h.01M409.2 187.4h.01M394.1 203.5h.01M420.8 166.9h.01M365.3 188.6h.01M369.8 210.4h.01M389.9 183.7h.01M411.0 204.3h.01M369.5 178.8h.01M371.8 179.2h.01M368.9 204.8h.01M382.6 174.9h.01M416.0 201.5h.01M381.4 181.6h.01M401.6 162.5h.01M369.1 203.6h.01M370.7 194.4h.01M406.2 187.3h.01M382.0 203.6h.01M409.1 155.4h.01M416.0 190.0h.01M378.5 161.3h.01M366.7 200.7h.01M412.9 172.3h.01M371.8 155.5h.01M386.2 169.3h.01M363.9 169.2h.01M411.3 155.0h.01M385.6 182.5h.01M370.7 153.2h.01M365.3 159.8h.01M420.7 203.8h.01M404.1 206.1h.01M380.7 166.3h.01M414.3 188.2h.01M417.6 173.0h.01M386.1 195.0h.01M415.1 161.2h.01M376.9 151.8h.01M395.2 207.6h.01M395.7 160.1h.01M403.3 190.8h.01M367.2 207.0h.01M401.4 181.1h.01M381.9 160.8h.01M389.5 173.4h.01M375.0 190.6h.01M401.5 209.5h.01M420.4 179.6h.01M404.8 174.0h.01M387.4 185.8h.01M421.1 153.6h.01M389.2 171.6h.01M410.3 209.3h.01M389.8 155.9h.01M397.3 187.0h.01M402.6 198.6h.01M389.2 184.7h.01M408.0 152.7h.01M375.5 193.2h.01M420.9 208.8h.01M378.1 210.6h.01M377.9 178.8h.01M370.5 187.9h.01M384.8 193.0h.01M419.7 158.8h.01M401.2 187.9h.01M377.6 153.2h.01M418.5 193.6h.01M399.2 157.3h.01M416.1 175.5h.01M389.4 185.1h.01M388.2 209.5h.01M389.5 192.5h.01M408.3 208.2h.01M371.2 171.8h.01M419.2 188.2h.01M383.7 205.0h.01M368.0 166.5h.01M365.0 192.1h.01M390.7 169.7h.01M387.8 166.5h.01M404.4 197.6h.01M384.2 204.3h.01M363.5 185.7h.01M370.2 158.2h.01M395.1 156.3h.01M365.3 159.2h.01M383.9 201.9h.01M378.5 158.5h.01M408.0 201.1h.01M422.1 154.0h.01M370.9 177.6h.01M421.8 184.1h.01M415.1 164.7h.01M389.7 193.1h.01M374.7 183.0h.01M411.5 201.0h.01M403.6 201.8h.01M422.1 188.1h.01M376.0 164.6h.01M364.2 207.3h.01M395.9 188.0h.01M414.5 193.3h.01M384.9 186.9h.01M365.8 166.5h.01M381.9 199.7h.01M401.4 188.0h.01M385.0 172.6h.01M384.4 154.1h.01M382.9 206.7h.01M410.9 166.3h.01M391.4 196.6h.01M373.0 172.8h.01M396.8 162.5h.01M416.7 152.2h.01M415.0 192.0h.01M385.2 168.7h.01M414.2 194.6h.01M373.7 170.5h.01M366.4 189.5h.01M386.8 170.5h.01M404.1 166.6h.01M369.4 199.8h.01M415.3 200.5h.01M395.1 195.0h.01M413.9 153.4h.01M379.1 172.8h.01M405.9 171.6h.01M407.8 166.8h.01M419.0 177.7h.01M397.1 189.5h.01M411.3 185.5h.01M373.7 178.0h.01M395.4 155.4h.01M411.8 169.8h.01M417.4 173.8h.01M419.3 195.3h.01M384.9 194.0h.01M379.6 175.9h.01M404.1 180.0h.01M398.4 196.5h.01M412.2 157.5h.01M411.7 196.6h.01M374.7 156.1h.01M372.6 156.5h.01M395.8 212.0h.01M390.6 167.9h.01M371.2 210.6h.01M394.4 165.6h.01M416.8 176.6h.01M421.4 182.3h.01M376.3 162.4h.01M361.7 200.9h.01M380.9 195.7h.01M412.5 175.7h.01M392.2 195.2h.01M400.3 173.2h.01M372.9 168.5h.01M362.0 189.9h.01M400.2 198.4h.01M387.8 195.8h.01M395.1 203.2h.01M394.6 192.2h.01M397.6 163.4h.01M365.5 201.3h.01M403.3 182.3h.01M417.0 162.2h.01M405.8 181.9h.01M367.2 158.9h.01M362.3 162.6h.01M408.6 180.3h.01M363.6 181.3h.01M420.6 199.3h.01M379.2 180.7h.01M383.3 165.2h.01M401.2 152.4h.01M389.8 207.9h.01M407.3 191.2h.01M419.3 167.6h.01M419.0 205.8h.01M391.1 159.3h.01M393.5 181.5h.01M375.8 195.0h.01M407.5 187.9h.01M378.2 206.6h.01M376.4 203.6h.01M415.4 183.6h.01M363.9 167.7h.01M364.8 162.4h.01M382.6 186.2h.01M410.3 153.9h.01M406.6 157.7h.01M404.6 151.7h.01M382.7 207.8h.01M414.6 154.2h.01M384.6 207.0h.01M371.6 179.1h.01M376.8 169.1h.01M390.9 159.5h.01M370.2 210.8h.01M407.7 187.6h.01M369.1 159.1h.01M399.0 188.7h.01M361.3 210.1h.01M383.8 167.5h.01M399.8 207.0h.01M382.2 182.3h.01M363.7 179.6h.01M416.0 208.7h.01M382.3 203.8h.01M422.0 169.6h.01M413.4 168.2h.01M420.1 206.2h.01M420.5 176.0h.01M403.0 194.2h.01M396.6 154.2h.01M401.7 200.2h.01M400.3 206.3h.01M420.1 190.3h.01M382.7 182.1h.01M371.9 164.7h.01M421.0 178.1h.01M389.5 205.4h.01M409.8 153.7h.01M386.1 183.6h.01M413.0 159.3h.01M372.2 169.7h.01M392.6 166.6h.01M392.4 172.2h.01M364.5 201.6h.01M394.1 206.2h.01M392.7 203.7h.01M398.2 181.4h.01M418.6 173.1h.01M420.9 187.1h.01M419.2 156.7h.01M393.9 170.3h.01M411.1 206.8h.01M413.7 174.8h.01M365.2 210.7h.01M373.4 201.6h.01M397.2 195.8h.01M404.2 165.5h.01M384.5 174.6h.01M404.0 192.7h.01M393.8 172.5h.01M368.1 178.1h.01M397.4 193.2h.01M362.4 163.1h.01M399.9 199.1h.01M418.7 159.5h.01M405.6 178.5h.01M397.1 192.9h.01M385.8 188.2h.01M420.2 152.3h.01M394.6 212.3h.01M414.6 166.4h.01M408.9 207.0h.01M385.9 184.7h.01M378.9 212.1h.01M372.1 194.0h.01M421.7 210.8h.01M413.2 177.6h.01M418.5 203.6h.01M386.6 174.0h.01M380.9 170.9h.01M395.9 176.5h.01M360.8 188.0h.01M387.2 212.2h.01M422.0 194.8h.01M405.6 174.3h.01M403.7 165.9h.01M410.9 186.2h.01M374.9 163.9h.01M384.7 172.2h.01M401.6 179.4h.01M362.8 171.0h.01M388.6 211.7h.01M417.7 188.8h.01M420.1 160.3h.01M373.4 160.3h.01M376.5 168.2h.01M394.0 205.4h.01M382.5 170.8h.01M389.8 209.2h.01M391.9 211.2h.01M379.7 184.8h.01M399.5 195.1h.01M412.3 158.3h.01M373.4 157.5h.01M408.4 181.3h.01M391.1 153.2h.01M410.0 210.5h.01M361.6 211.6h.01M390.5 158.2h.01M362.5 194.0h.01M410.0 176.1h.01M414.2 151.2h.01M414.2 160.7h.01M372.2 171.6h.01M381.0 206.1h.01M391.8 177.3h.01M387.3 170.1h.01M382.0 186.7h.01M416.7 207.7h.01M362.1 173.5h.01M403.7 181.4h.01M406.0 208.5h.01M363.5 193.7h.01M375.5 191.0h.01M372.4 159.6h.01M412.9 191.2h.01M400.1 177.3h.01M376.4 154.9h.01M419.2 199.6h.01M407.1 155.8h.01M361.4 179.6h.01M366.9 188.6h.01M379.6 198.7h.01M370.8 181.6h.01M386.1 165.3h.01M381.1 162.7h.01M379.3 178.1h.01M384.8 191.4h.01M414.9 181.9h.01M373.0 182.3h.01M370.0 202.6h.01M361.6 168.3h.01M417.8 186.7h.01M381.8 153.1h.01M371.7 202.3h.01M365.4 193.6h.01M370.7 197.4h.01M367.7 159.0h.01M372.8 209.3h.01M361.8 180.3h.01M416.7 192.4h.01M361.6 191.6h.01M379.8 164.6h.01M369.0 158.0h.01M395.4 197.3h.01M416.1 190.1h.01M387.6 207.0h.01M371.1 207.6h.01M421.2 184.1h.01M406.6 188.9h.01M403.7 192.7h.01M403.2 192.5h.01M390.5 162.6h.01M381.3 171.0h.01M389.8 207.6h.01M386.7 196.8h.01M369.6 159.8h.01M413.2 201.3h.01M375.7 176.8h.01M407.7 156.1h.01M402.8 193.6h.01M419.3 212.1h.01M408.5 158.2h.01M411.1 160.8h.01M377.9 201.0h.01M391.2 177.0h.01M412.9 169.3h.01M412.3 211.8h.01M402.8 164.5h.01M393.5 185.3h.01M378.2 196.6h.01M368.0 161.4h.01M419.2 171.8h.01M369.8 198.9h.01M410.1 178.0h.01M390.8 151.6h.01M361.6 206.4h.01M419.3 195.0h.01M403.0 175.8h.01M379.4 195.7h.01M409.4 156.1h.01M367.9 155.2h.01M404.1 180.6h.01M365.3 181.8h.01M418.4 198.1h.01M394.3 178.3h.01M362.2 152.5h.01M400.1 197.2h.01M410.4 156.0h.01M386.3 187.0h.01M381.5 167.7h.01M371.3 172.2h.01M366.7 212.2h.01M405.2 209.2h.01M364.5 157.9h.01M400.9 210.8h.01M385.5 170.2h.01M385.2 151.2h.01M373.2 160.1h.01M369.6 210.7h.01M400.8 202.0h.01M386.9 183.8h.01M383.3 179.5h.01M409.4 192.7h.01M370.2 167.2h.01M401.0 182.2h.01M393.8 153.8h.01M378.3 178.0h.01M416.2 210.7h.01M366.1 177.2h.01M372.3 176.4h.01M397.6 196.1h.01M396.8 189.1h.01M397.1 162.2h.01M372.3 181.3h.01M365.2 174.3h.01M399.2 204.6h.01M420.7 186.3h.01M369.5 186.0h.01M402.6 164.4h.01M411.8 162.8h.01M400.5 209.1h.01M413.1 197.3h.01M378.7 176.5h.01M415.6 181.1h.01M373.2 171.8h.01M365.1 209.7h.01M384.0 180.5h.01M364.4 189.3h.01M370.3 163.4h.01M408.3 180.6h.01M395.1 167.6h.01M365.3 171.4h.01M384.3 205.7h.01M404.8 179.1h.01M394.6 194.2h.01M406.6 197.5h.01M378.3 175.2h.01M378.3 174.1h.01M411.5 178.6h.01M363.6 196.2h.01M381.7 194.7h.01M417.0 206.4h.01M395.3 152.0h.01M416.6 154.0h.01M392.8 153.2h.01M365.0 203.6h.01M402.6 188.7h.01M372.0 166.1h.01M379.3 200.4h.01M375.1 186.8h.01M413.2 156.9h.01M385.6 166.2h.01M396.8 171.2h.01M419.9 171.2h.01M413.8 175.7h.01M391.3 196.8h.01M388.6 155.6h.01M374.3 179.4h.01M415.5 204.1h.01M377.0 195.1h.01M421.4 193.1h.01M414.1 178.6h.01M410.2 188.5h.01M392.0 185.2h.01M363.4 195.0h.01M372.0 157.8h.01M416.1 201.8h.01M410.0 177.1h.01M370.1 174.0h.01M368.5 178.3h.01M376.2 177.4h.01M416.1 208.8h.01M370.2 187.6h.01M413.8 211.1h.01M394.0 197.1h.01M367.8 169.4h.01M405.7 204.9h.01M368.9 203.7h.01M412.7 156.5h.01M399.3 169.2h.01M411.4 174.5h.01M416.0 194.7h.01M376.7 181.2h.01M395.4 176.4h.01M368.8 205.3h.01M418.0 170.0h.01M402.5 189.7h.01M416.7 161.5h.01M413.4 196.9h.01M406.8 180.7h.01M394.0 151.9h.01M368.5 192.7h.01M416.0 198.3h.01M369.1 170.5h.01M395.8 180.1h.01M402.4 205.8h.01M414.2 198.1h.01M409.5 209.2h.01M373.3 177.1h.01M416.7 171.4h.01M382.1 156.6h.01M402.0 204.2h.01M372.1 165.7h.01M370.4 202.3h.01M373.6 205.2h.01M419.1 190.9h.01M418.5 204.7h.01M391.5 186.9h.01M369.3 205.9h.01M418.0 157.3h.01M373.7 156.8h.01M403.8 165.9h.01M360.7 211.5h.01M375.9 184.8h.01M404.9 207.5h.01M398.1 201.0h.01M415.4 206.2h.01M403.3 165.5h.01M414.8 192.3h.01M398.2 167.7h.01M377.3 208.9h.01M376.3 160.3h.01M406.5 188.2h.01M382.1 169.6h.01M395.7 171.6h.01M412.4 210.8h.01M385.2 199.7h.01M385.2 212.2h.01M379.3 195.8h.01M399.2 210.7h.01M370.5 166.6h.01M394.0 201.3h.01M402.1 164.7h.01M393.4 200.5h.01M415.5 187.7h.01M391.6 167.6h.01M395.0 172.6h.01M408.4 206.1h.01M410.4 159.1h.01M416.1 152.8h.01M413.5 166.6h.01M370.0 161.1h.01M386.1 190.5h.01M367.0 153.5h.01M380.8 186.3h.01M377.4 162.7h.01M369.4 161.9h.01M420.4 187.5h.01M364.3 201.0h.01M384.5 189.6h.01M392.0 159.1h.01M393.6 172.4h.01M417.5 175.0h.01M375.2 172.4h.01M368.2 153.5h.01M397.0 207.6h.01M403.8 172.0h.01M364.6 162.7h.01M398.6 172.0h.01M388.3 158.0h.01M380.6 188.0h.01M414.8 163.3h.01M392.8 181.2h.01M401.8 175.2h.01M363.9 206.9h.01M374.1 190.7h.01M411.4 210.3h.01M403.7 183.8h.01M389.8 188.4h.01M368.6 208.1h.01M366.3 207.5h.01M420.0 158.9h.01M374.8 201.9h.01M362.7 201.6h.01M389.7 201.0h.01M397.8 198.2h.01M375.9 190.0h.01M374.5 186.1h.01M363.9 205.6h.01M411.5 169.8h.01M361.6 193.8h.01M368.5 196.3h.01M375.6 198.1h.01M420.5 195.9h.01" stroke="#2020f0" stroke-width="1.12" stroke-linecap="round" fill="none"/>
<path d="M414.4 210.3L419.7 210.3" stroke="#ddd" stroke-width="0.5"/>
<path d="M415.4 209.1L418.7 209.1" stroke="#777" stroke-width="0.5"/>
<rect x="425" y="150.4" width="62.2" height="62.5" fill="#000"/>
<path d="M440.0 188.1h.01M455.6 169.7h.01M433.8 204.8h.01M428.5 181.3h.01M476.4 169.8h.01M430.7 166.5h.01M434.7 198.9h.01M481.7 190.8h.01M447.1 151.7h.01M470.4 171.8h.01M447.6 207.8h.01M427.1 152.5h.01M435.1 210.8h.01M444.5 177.1h.01M465.7 202.0h.01M481.0 190.1h.01M438.3 201.6h.01M464.2 169.2h.01M487.0 156.7h.01M476.7 162.8h.01M455.5 172.6h.01M448.2 179.5h.01M486.5 152.9h.01M473.4 158.2h.01M464.1 157.3h.01M457.1 195.2h.01M483.4 193.6h.01M431.8 188.6h.01M448.6 184.3h.01M426.2 210.1h.01M437.1 164.9h.01M470.3 193.5h.01M474.3 192.7h.01M459.9 199.1h.01M451.1 169.3h.01M437.3 159.6h.01M436.5 189.2h.01M452.2 170.1h.01M454.0 195.0h.01M462.7 198.2h.01M449.2 205.7h.01M454.4 205.4h.01M480.0 164.7h.01M435.6 153.2h.01M460.3 197.3h.01M484.2 167.6h.01M458.4 185.3h.01M445.6 166.3h.01M461.7 189.1h.01M470.7 181.9h.01M467.5 188.7h.01M484.8 171.2h.01M467.0 164.7h.01M483.6 192.3h.01M456.3 199.3h.01M436.9 157.8h.01M426.9 189.9h.01M439.6 183.0h.01M465.2 173.2h.01M455.8 159.5h.01M477.7 184.2h.01M475.8 166.3h.01M468.6 165.9h.01M437.8 168.5h.01M479.1 151.2h.01M483.2 168.0h.01M446.2 171.0h.01M479.7 163.3h.01M439.9 190.6h.01M468.7 172.0h.01M450.5 182.5h.01M474.7 154.8h.01M475.7 173.3h.01M463.2 203.2h.01M470.8 171.6h.01M457.9 195.0h.01M473.2 180.6h.01M473.5 180.3h.01M447.5 174.9h.01M485.1 152.3h.01M434.3 174.3h.01M485.8 208.8h.01M474.9 177.1h.01M472.9 166.6h.01M477.8 169.3h.01M459.3 209.5h.01M432.8 155.2h.01M457.7 181.2h.01M436.5 179.1h.01M459.0 206.2h.01M467.7 164.5h.01M451.6 196.8h.01M450.1 168.7h.01M471.5 157.7h.01M479.1 198.1h.01M444.2 200.4h.01M459.2 178.3h.01M440.9 164.6h.01M435.8 177.6h.01M450.7 188.2h.01M433.0 178.1h.01M480.4 204.1h.01M468.6 183.8h.01M443.0 210.6h.01M465.0 197.2h.01M429.4 187.8h.01M436.8 164.7h.01M480.9 194.7h.01M485.7 166.9h.01M481.6 152.2h.01M426.9 208.6h.01M426.5 206.4h.01M460.2 158.2h.01M453.4 175.6h.01M478.7 211.1h.01M469.0 206.1h.01M443.1 206.6h.01M464.4 195.1h.01M486.7 184.1h.01M482.7 186.7h.01M441.2 160.3h.01M457.6 203.6h.01M428.8 167.7h.01M427.0 173.5h.01M435.0 174.0h.01M484.1 156.7h.01M426.5 193.8h.01M435.4 166.6h.01M444.3 195.7h.01M448.6 205.0h.01M444.9 202.9h.01M483.9 177.7h.01M472.6 156.1h.01M458.8 170.3h.01M462.3 193.2h.01M487.1 159.6h.01M463.3 190.0h.01M485.3 179.6h.01M445.9 173.4h.01M434.2 205.9h.01M449.7 193.0h.01M443.2 178.0h.01M475.2 153.9h.01M440.0 186.8h.01M430.2 159.2h.01M479.2 158.7h.01M470.5 174.3h.01M480.3 183.6h.01M454.1 184.7h.01M443.4 161.3h.01M476.4 201.0h.01M441.3 154.9h.01M469.4 184.2h.01M444.2 178.1h.01M453.6 200.1h.01M439.0 186.9h.01M481.6 192.4h.01M451.7 170.5h.01M450.0 190.6h.01M455.1 181.6h.01M458.9 201.3h.01M465.2 206.3h.01M444.6 174.8h.01M440.1 172.4h.01M456.2 196.8h.01M443.4 158.5h.01M428.6 179.6h.01M472.3 169.4h.01M444.1 180.7h.01M466.4 209.5h.01M487.0 188.1h.01M474.3 156.1h.01M468.6 173.6h.01M436.0 156.5h.01M486.0 153.6h.01M474.3 169.8h.01M477.1 209.9h.01M461.7 162.5h.01M479.0 178.6h.01M485.8 187.1h.01M483.3 198.1h.01M485.0 190.3h.01M437.2 176.4h.01M480.3 206.2h.01M465.9 182.2h.01M465.7 164.4h.01M431.4 162.8h.01M476.3 210.3h.01M456.4 186.9h.01M446.8 160.8h.01M441.1 177.4h.01M476.3 165.9h.01M444.2 195.8h.01M460.3 176.4h.01M471.5 188.9h.01M468.1 186.5h.01M477.6 156.5h.01M435.7 181.6h.01M476.6 196.6h.01M454.4 192.5h.01M435.4 187.9h.01M485.5 199.3h.01M469.1 154.0h.01M486.6 210.8h.01M460.0 156.3h.01M445.7 186.3h.01M481.9 206.4h.01M469.8 207.5h.01M484.2 195.3h.01M427.6 201.6h.01M450.5 198.6h.01M474.9 210.5h.01M445.8 195.7h.01M428.0 195.8h.01M449.8 186.9h.01M435.6 194.4h.01M476.7 169.8h.01M436.0 207.6h.01M468.7 165.9h.01M437.5 190.3h.01M438.6 178.0h.01M471.7 180.7h.01M464.8 199.1h.01M437.0 194.0h.01M467.5 164.4h.01M438.1 171.8h.01M468.2 180.6h.01M432.6 159.0h.01M434.0 203.6h.01M446.3 181.6h.01M454.7 207.6h.01M443.6 176.5h.01M485.4 176.0h.01M442.4 178.0h.01M433.4 178.3h.01M468.2 165.5h.01M487.0 154.0h.01M475.0 178.0h.01M485.6 186.3h.01M440.8 190.0h.01M483.4 203.6h.01M449.1 165.0h.01M478.7 175.7h.01M441.6 206.6h.01M428.7 188.6h.01M464.1 204.6h.01M450.4 163.2h.01M443.2 174.1h.01M447.4 170.8h.01M430.2 181.8h.01M478.3 168.2h.01M441.2 162.4h.01M433.7 205.3h.01M472.8 211.4h.01M454.8 183.7h.01M456.5 167.6h.01M473.3 206.1h.01M454.7 155.9h.01M461.7 171.2h.01M484.2 195.0h.01M456.3 196.6h.01M458.3 200.5h.01M479.4 193.3h.01M446.7 153.1h.01M451.8 183.8h.01M481.7 176.6h.01M449.6 172.2h.01M460.2 152.0h.01M435.1 167.2h.01M440.6 176.8h.01" stroke="#dc1c1c" stroke-width="1.45" stroke-linecap="round" fill="none"/>
<path d="M478.7 210.3L484 210.3" stroke="#ddd" stroke-width="0.5"/>
<path d="M479.7 209.1L483 209.1" stroke="#777" stroke-width="0.5"/>
<rect x="489.2" y="150.4" width="62.7" height="62.5" fill="#000"/>
<path d="M551.2 156.7h.01M491.1 208.6h.01M514.6 163.2h.01M510.1 173.4h.01M548.6 163.9h.01M503.2 186.9h.01M523.5 209.5h.01M541.5 172.8h.01M502.4 202.3h.01M550.7 152.9h.01M535.1 204.2h.01M529.9 164.4h.01M538.9 195.7h.01M501.7 190.3h.01M503.3 153.5h.01M510.5 171.5h.01M514.2 190.6h.01M541.3 209.9h.01M549.9 211.9h.01M538.5 169.8h.01M500.7 189.2h.01M523.4 192.3h.01M495.6 162.8h.01M546.5 187.9h.01M545.9 190.8h.01M550.9 163.1h.01M517.8 200.1h.01M517.2 199.4h.01M524.4 158.2h.01M495.9 211.3h.01M497.2 162.9h.01M510.4 194.7h.01M542.4 180.2h.01M520.5 199.3h.01M506.9 173.8h.01M527.5 190.0h.01M534.5 193.5h.01M537.1 166.6h.01M537.0 211.4h.01M511.3 151.7h.01M512.9 168.3h.01M500.6 153.8h.01M497.5 204.0h.01M492.9 188.6h.01M502.5 162.9h.01M540.4 169.3h.01M501.1 178.9h.01M532.6 183.1h.01M542.8 175.6h.01M522.1 195.0h.01M518.2 195.0h.01M518.6 159.2h.01M497.4 199.0h.01M535.7 208.8h.01M532.3 186.5h.01M500.0 203.3h.01M497.1 177.0h.01M498.5 174.3h.01M508.7 177.1h.01M533.6 184.2h.01M540.8 153.0h.01M527.7 205.9h.01M505.7 163.4h.01M539.9 173.3h.01M514.5 201.1h.01M513.5 163.2h.01M503.0 172.2h.01M532.8 173.6h.01M537.3 155.0h.01M505.1 189.3h.01M519.3 181.6h.01M547.4 168.0h.01M501.0 153.1h.01M519.5 169.2h.01M519.0 151.3h.01M489.8 174.3h.01M536.5 169.4h.01M546.0 186.5h.01M514.7 198.6h.01M504.2 188.1h.01M541.9 184.2h.01M509.5 156.9h.01M525.2 162.5h.01M512.8 184.3h.01M547.8 192.3h.01M521.8 203.6h.01M508.8 174.8h.01M531.5 185.0h.01M503.5 176.2h.01M540.5 165.9h.01M533.3 154.0h.01M548.6 192.9h.01M509.7 211.3h.01M538.9 154.8h.01M505.1 181.1h.01M551.3 159.6h.01M492.7 170.2h.01M492.6 176.1h.01M491.2 200.2h.01M516.9 180.4h.01M519.2 193.0h.01M545.3 201.7h.01M534.6 171.8h.01M500.2 156.5h.01M542.7 154.5h.01M524.9 206.8h.01M509.7 174.9h.01M515.5 208.9h.01M531.9 202.4h.01M492.2 195.8h.01M517.6 175.6h.01M540.1 196.1h.01M545.9 196.3h.01M545.9 177.2h.01M524.1 199.1h.01M517.7 159.4h.01M525.9 204.4h.01M543.4 158.7h.01M513.3 165.0h.01M510.8 209.8h.01M515.7 170.2h.01M506.6 178.0h.01M531.1 172.0h.01M501.3 164.9h.01M505.8 206.6h.01M500.2 197.2h.01M496.5 199.2h.01M494.6 156.8h.01M539.1 184.2h.01M519.7 172.6h.01M532.4 180.6h.01M493.6 187.8h.01M509.1 202.9h.01M523.6 198.4h.01M497.2 194.3h.01M527.4 203.2h.01M544.3 184.8h.01M526.3 198.0h.01M506.0 184.4h.01M538.3 187.4h.01M523.2 203.5h.01M549.9 166.9h.01M494.4 188.6h.01M498.9 210.4h.01M519.0 183.7h.01M540.1 204.3h.01M498.6 178.8h.01M500.9 179.2h.01M498.0 204.8h.01M511.7 174.9h.01M545.1 201.5h.01M510.5 181.6h.01M530.7 162.5h.01M498.2 203.6h.01M499.8 194.4h.01M535.3 187.3h.01M511.1 203.6h.01M538.2 155.4h.01M545.1 190.0h.01M507.6 161.3h.01M495.8 200.7h.01M542.0 172.3h.01M500.9 155.5h.01M515.3 169.3h.01M493.0 169.2h.01M540.4 155.0h.01M514.7 182.5h.01M499.8 153.2h.01M494.4 159.8h.01M549.8 203.8h.01M533.2 206.1h.01M509.8 166.3h.01M543.4 188.2h.01M546.7 173.0h.01M515.2 195.0h.01M544.2 161.2h.01M506.0 151.8h.01M524.3 207.6h.01M524.8 160.1h.01M532.4 190.8h.01M496.3 207.0h.01M530.5 181.1h.01M511.0 160.8h.01M518.6 173.4h.01M504.1 190.6h.01M530.6 209.5h.01M549.5 179.6h.01M533.9 174.0h.01M516.5 185.8h.01M550.2 153.6h.01M518.3 171.6h.01M539.4 209.3h.01M518.9 155.9h.01M526.4 187.0h.01M531.7 198.6h.01M518.3 184.7h.01M537.1 152.7h.01M504.6 193.2h.01M550.0 208.8h.01M507.2 210.6h.01M507.0 178.8h.01M499.6 187.9h.01M513.9 193.0h.01M548.8 158.8h.01M530.3 187.9h.01M506.7 153.2h.01M547.6 193.6h.01M528.3 157.3h.01M545.2 175.5h.01M518.5 185.1h.01M517.3 209.5h.01M518.6 192.5h.01M537.4 208.2h.01M500.3 171.8h.01M548.3 188.2h.01M512.8 205.0h.01M497.1 166.5h.01M494.1 192.1h.01M519.8 169.7h.01M516.9 166.5h.01M533.5 197.6h.01M513.3 204.3h.01M492.6 185.7h.01M499.3 158.2h.01M524.2 156.3h.01M494.4 159.2h.01M513.0 201.9h.01M507.6 158.5h.01M537.1 201.1h.01M551.2 154.0h.01M500.0 177.6h.01M550.9 184.1h.01M544.2 164.7h.01M518.8 193.1h.01M503.8 183.0h.01M540.6 201.0h.01M532.7 201.8h.01M551.2 188.1h.01M505.1 164.6h.01M493.3 207.3h.01M525.0 188.0h.01M543.6 193.3h.01M514.0 186.9h.01M494.9 166.5h.01M511.0 199.7h.01M530.5 188.0h.01M514.1 172.6h.01M513.5 154.1h.01M512.0 206.7h.01M540.0 166.3h.01M520.5 196.6h.01M502.1 172.8h.01M525.9 162.5h.01M545.8 152.2h.01M544.1 192.0h.01M514.3 168.7h.01M543.3 194.6h.01M502.8 170.5h.01M495.5 189.5h.01M515.9 170.5h.01M533.2 166.6h.01M498.5 199.8h.01M544.4 200.5h.01M524.2 195.0h.01M543.0 153.4h.01M508.2 172.8h.01M535.0 171.6h.01M536.9 166.8h.01M548.1 177.7h.01M526.2 189.5h.01M540.4 185.5h.01M502.8 178.0h.01M524.5 155.4h.01M540.9 169.8h.01M546.5 173.8h.01M548.4 195.3h.01M514.0 194.0h.01M508.7 175.9h.01M533.2 180.0h.01M527.5 196.5h.01M541.3 157.5h.01M540.8 196.6h.01M503.8 156.1h.01M501.7 156.5h.01M524.9 212.0h.01M519.7 167.9h.01M500.3 210.6h.01M523.5 165.6h.01M545.9 176.6h.01M550.5 182.3h.01M505.4 162.4h.01M490.8 200.9h.01M510.0 195.7h.01M541.6 175.7h.01M521.3 195.2h.01M529.4 173.2h.01M502.0 168.5h.01M491.1 189.9h.01M529.3 198.4h.01M516.9 195.8h.01M524.2 203.2h.01M523.7 192.2h.01M526.7 163.4h.01M494.6 201.3h.01M532.4 182.3h.01M546.1 162.2h.01M534.9 181.9h.01M496.3 158.9h.01M491.4 162.6h.01M537.7 180.3h.01M492.7 181.3h.01M549.7 199.3h.01M508.3 180.7h.01M512.4 165.2h.01M530.3 152.4h.01M518.9 207.9h.01M536.4 191.2h.01M548.4 167.6h.01M548.1 205.8h.01M520.2 159.3h.01M522.6 181.5h.01M504.9 195.0h.01M536.6 187.9h.01M507.3 206.6h.01M505.5 203.6h.01M544.5 183.6h.01M493.0 167.7h.01M493.9 162.4h.01M511.7 186.2h.01M539.4 153.9h.01M535.7 157.7h.01M533.7 151.7h.01M511.8 207.8h.01M543.7 154.2h.01M513.7 207.0h.01M500.7 179.1h.01M505.9 169.1h.01M520.0 159.5h.01M499.3 210.8h.01M536.8 187.6h.01M498.2 159.1h.01M528.1 188.7h.01M490.4 210.1h.01M512.9 167.5h.01M528.9 207.0h.01M511.3 182.3h.01M492.8 179.6h.01M545.1 208.7h.01M511.4 203.8h.01M551.1 169.6h.01M542.5 168.2h.01M549.2 206.2h.01M549.6 176.0h.01M532.1 194.2h.01M525.7 154.2h.01M530.8 200.2h.01M529.4 206.3h.01M549.2 190.3h.01M511.8 182.1h.01M501.0 164.7h.01M550.1 178.1h.01M518.6 205.4h.01M538.9 153.7h.01M515.2 183.6h.01M542.1 159.3h.01M501.3 169.7h.01M521.7 166.6h.01M521.5 172.2h.01M493.6 201.6h.01M523.2 206.2h.01M521.8 203.7h.01M527.3 181.4h.01M547.7 173.1h.01M550.0 187.1h.01M548.3 156.7h.01M523.0 170.3h.01M540.2 206.8h.01M542.8 174.8h.01M494.3 210.7h.01M502.5 201.6h.01M526.3 195.8h.01M533.3 165.5h.01M513.6 174.6h.01M533.1 192.7h.01M522.9 172.5h.01M497.2 178.1h.01M526.5 193.2h.01M491.5 163.1h.01M529.0 199.1h.01M547.8 159.5h.01M534.7 178.5h.01M526.2 192.9h.01M514.9 188.2h.01M549.3 152.3h.01M523.7 212.3h.01M543.7 166.4h.01M538.0 207.0h.01M515.0 184.7h.01M508.0 212.1h.01M501.2 194.0h.01M550.8 210.8h.01M542.3 177.6h.01M547.6 203.6h.01M515.7 174.0h.01M510.0 170.9h.01M525.0 176.5h.01M489.9 188.0h.01M516.3 212.2h.01M551.1 194.8h.01M534.7 174.3h.01M532.8 165.9h.01M540.0 186.2h.01M504.0 163.9h.01M513.8 172.2h.01M530.7 179.4h.01M491.9 171.0h.01M517.7 211.7h.01M546.8 188.8h.01M549.2 160.3h.01M502.5 160.3h.01M505.6 168.2h.01M523.1 205.4h.01M511.6 170.8h.01M518.9 209.2h.01M521.0 211.2h.01M508.8 184.8h.01M528.6 195.1h.01M541.4 158.3h.01M502.5 157.5h.01M537.5 181.3h.01M520.2 153.2h.01M539.1 210.5h.01M490.7 211.6h.01M519.6 158.2h.01M491.6 194.0h.01M539.1 176.1h.01M543.3 151.2h.01M543.3 160.7h.01M501.3 171.6h.01M510.1 206.1h.01M520.9 177.3h.01M516.4 170.1h.01M511.1 186.7h.01M545.8 207.7h.01M491.2 173.5h.01M532.8 181.4h.01M535.1 208.5h.01M492.6 193.7h.01M504.6 191.0h.01M501.5 159.6h.01M542.0 191.2h.01M529.2 177.3h.01M505.5 154.9h.01M548.3 199.6h.01M536.2 155.8h.01M490.5 179.6h.01M496.0 188.6h.01M508.7 198.7h.01M499.9 181.6h.01M515.2 165.3h.01M510.2 162.7h.01M508.4 178.1h.01M513.9 191.4h.01M544.0 181.9h.01M502.1 182.3h.01M499.1 202.6h.01M490.7 168.3h.01M546.9 186.7h.01M510.9 153.1h.01M500.8 202.3h.01M494.5 193.6h.01M499.8 197.4h.01M496.8 159.0h.01M501.9 209.3h.01M490.9 180.3h.01M545.8 192.4h.01M490.7 191.6h.01M508.9 164.6h.01M498.1 158.0h.01M524.5 197.3h.01M545.2 190.1h.01M516.7 207.0h.01M500.2 207.6h.01M550.3 184.1h.01M535.7 188.9h.01M532.8 192.7h.01M532.3 192.5h.01M519.6 162.6h.01M510.4 171.0h.01M518.9 207.6h.01M515.8 196.8h.01M498.7 159.8h.01M542.3 201.3h.01M504.8 176.8h.01M536.8 156.1h.01M531.9 193.6h.01M548.4 212.1h.01M537.6 158.2h.01M540.2 160.8h.01M507.0 201.0h.01M520.3 177.0h.01M542.0 169.3h.01M541.4 211.8h.01M531.9 164.5h.01M522.6 185.3h.01M507.3 196.6h.01M497.1 161.4h.01M548.3 171.8h.01M498.9 198.9h.01M539.2 178.0h.01M519.9 151.6h.01M490.7 206.4h.01M548.4 195.0h.01M532.1 175.8h.01M508.5 195.7h.01M538.5 156.1h.01M497.0 155.2h.01M533.2 180.6h.01M494.4 181.8h.01M547.5 198.1h.01M523.4 178.3h.01M491.3 152.5h.01M529.2 197.2h.01M539.5 156.0h.01M515.4 187.0h.01M510.6 167.7h.01M500.4 172.2h.01M495.8 212.2h.01M534.3 209.2h.01M493.6 157.9h.01M530.0 210.8h.01M514.6 170.2h.01M514.3 151.2h.01M502.3 160.1h.01M498.7 210.7h.01M529.9 202.0h.01M516.0 183.8h.01M512.4 179.5h.01M538.5 192.7h.01M499.3 167.2h.01M530.1 182.2h.01M522.9 153.8h.01M507.4 178.0h.01M545.3 210.7h.01M495.2 177.2h.01M501.4 176.4h.01M526.7 196.1h.01M525.9 189.1h.01M526.2 162.2h.01M501.4 181.3h.01M494.3 174.3h.01M528.3 204.6h.01M549.8 186.3h.01M498.6 186.0h.01M531.7 164.4h.01M540.9 162.8h.01M529.6 209.1h.01M542.2 197.3h.01M507.8 176.5h.01M544.7 181.1h.01M502.3 171.8h.01M494.2 209.7h.01M513.1 180.5h.01M493.5 189.3h.01M499.4 163.4h.01M537.4 180.6h.01M524.2 167.6h.01M494.4 171.4h.01M513.4 205.7h.01M533.9 179.1h.01M523.7 194.2h.01M535.7 197.5h.01M507.4 175.2h.01M507.4 174.1h.01M540.6 178.6h.01M492.7 196.2h.01M510.8 194.7h.01M546.1 206.4h.01M524.4 152.0h.01M545.7 154.0h.01M521.9 153.2h.01M494.1 203.6h.01M531.7 188.7h.01M501.1 166.1h.01M508.4 200.4h.01M504.2 186.8h.01M542.3 156.9h.01M514.7 166.2h.01M525.9 171.2h.01M549.0 171.2h.01M542.9 175.7h.01M520.4 196.8h.01M517.7 155.6h.01M503.4 179.4h.01M544.6 204.1h.01M506.1 195.1h.01M550.5 193.1h.01M543.2 178.6h.01M539.3 188.5h.01M521.1 185.2h.01M492.5 195.0h.01M501.1 157.8h.01M545.2 201.8h.01M539.1 177.1h.01M499.2 174.0h.01M497.6 178.3h.01M505.3 177.4h.01M545.2 208.8h.01M499.3 187.6h.01M542.9 211.1h.01M523.1 197.1h.01M496.9 169.4h.01M534.8 204.9h.01M498.0 203.7h.01M541.8 156.5h.01M528.4 169.2h.01M540.5 174.5h.01M545.1 194.7h.01M505.8 181.2h.01M524.5 176.4h.01M497.9 205.3h.01M547.1 170.0h.01M531.6 189.7h.01M545.8 161.5h.01M542.5 196.9h.01M535.9 180.7h.01M523.1 151.9h.01M497.6 192.7h.01M545.1 198.3h.01M498.2 170.5h.01M524.9 180.1h.01M531.5 205.8h.01M543.3 198.1h.01M538.6 209.2h.01M502.4 177.1h.01M545.8 171.4h.01M511.2 156.6h.01M531.1 204.2h.01M501.2 165.7h.01M499.5 202.3h.01M502.7 205.2h.01M548.2 190.9h.01M547.6 204.7h.01M520.6 186.9h.01M498.4 205.9h.01M547.1 157.3h.01M502.8 156.8h.01M532.9 165.9h.01M489.8 211.5h.01M505.0 184.8h.01M534.0 207.5h.01M527.2 201.0h.01M544.5 206.2h.01M532.4 165.5h.01M543.9 192.3h.01M527.3 167.7h.01M506.4 208.9h.01M505.4 160.3h.01M535.6 188.2h.01M511.2 169.6h.01M524.8 171.6h.01M541.5 210.8h.01M514.3 199.7h.01M514.3 212.2h.01M508.4 195.8h.01M528.3 210.7h.01M499.6 166.6h.01M523.1 201.3h.01M531.2 164.7h.01M522.5 200.5h.01M544.6 187.7h.01M520.7 167.6h.01M524.1 172.6h.01M537.5 206.1h.01M539.5 159.1h.01M545.2 152.8h.01M542.6 166.6h.01M499.1 161.1h.01M515.2 190.5h.01M496.1 153.5h.01M509.9 186.3h.01M506.5 162.7h.01M498.5 161.9h.01M549.5 187.5h.01M493.4 201.0h.01M513.6 189.6h.01M521.1 159.1h.01M522.7 172.4h.01M546.6 175.0h.01M504.3 172.4h.01M497.3 153.5h.01M526.1 207.6h.01M532.9 172.0h.01M493.7 162.7h.01M527.7 172.0h.01M517.4 158.0h.01M509.7 188.0h.01M543.9 163.3h.01M521.9 181.2h.01M530.9 175.2h.01M493.0 206.9h.01M503.2 190.7h.01M540.5 210.3h.01M532.8 183.8h.01M518.9 188.4h.01M497.7 208.1h.01M495.4 207.5h.01M549.1 158.9h.01M503.9 201.9h.01M491.8 201.6h.01M518.8 201.0h.01M526.9 198.2h.01M505.0 190.0h.01M503.6 186.1h.01M493.0 205.6h.01M540.6 169.8h.01M490.7 193.8h.01M497.6 196.3h.01M504.7 198.1h.01M549.6 195.9h.01" stroke="#2020f0" stroke-width="1.12" stroke-linecap="round" fill="none"/>
<path d="M504.2 188.1h.01M519.8 169.7h.01M498.0 204.8h.01M492.7 181.3h.01M540.6 169.8h.01M494.9 166.5h.01M498.9 198.9h.01M545.9 190.8h.01M511.3 151.7h.01M534.6 171.8h.01M511.8 207.8h.01M491.3 152.5h.01M499.3 210.8h.01M508.7 177.1h.01M529.9 202.0h.01M545.2 190.1h.01M502.5 201.6h.01M528.4 169.2h.01M551.2 156.7h.01M540.9 162.8h.01M519.7 172.6h.01M512.4 179.5h.01M550.7 152.9h.01M537.6 158.2h.01M528.3 157.3h.01M521.3 195.2h.01M547.6 193.6h.01M496.0 188.6h.01M512.8 184.3h.01M490.4 210.1h.01M501.3 164.9h.01M534.5 193.5h.01M538.5 192.7h.01M524.1 199.1h.01M515.3 169.3h.01M501.5 159.6h.01M500.7 189.2h.01M516.4 170.1h.01M518.2 195.0h.01M526.9 198.2h.01M513.4 205.7h.01M518.6 205.4h.01M544.2 164.7h.01M499.8 153.2h.01M524.5 197.3h.01M548.4 167.6h.01M522.6 185.3h.01M509.8 166.3h.01M525.9 189.1h.01M534.9 181.9h.01M531.7 188.7h.01M549.0 171.2h.01M531.2 164.7h.01M547.8 192.3h.01M520.5 199.3h.01M501.1 157.8h.01M491.1 189.9h.01M503.8 183.0h.01M529.4 173.2h.01M520.0 159.5h.01M541.9 184.2h.01M540.0 166.3h.01M532.8 165.9h.01M502.0 168.5h.01M543.3 151.2h.01M547.4 168.0h.01M510.4 171.0h.01M543.9 163.3h.01M504.1 190.6h.01M532.9 172.0h.01M514.7 182.5h.01M538.9 154.8h.01M539.9 173.3h.01M527.4 203.2h.01M535.0 171.6h.01M522.1 195.0h.01M537.4 180.6h.01M537.7 180.3h.01M511.7 174.9h.01M549.3 152.3h.01M498.5 174.3h.01M550.0 208.8h.01M539.1 177.1h.01M537.1 166.6h.01M542.0 169.3h.01M523.5 209.5h.01M497.0 155.2h.01M521.9 181.2h.01M500.7 179.1h.01M523.2 206.2h.01M531.9 164.5h.01M515.8 196.8h.01M514.3 168.7h.01M535.7 157.7h.01M543.3 198.1h.01M508.4 200.4h.01M523.4 178.3h.01M505.1 164.6h.01M500.0 177.6h.01M514.9 188.2h.01M497.2 178.1h.01M544.6 204.1h.01M532.8 183.8h.01M507.2 210.6h.01M529.2 197.2h.01M493.6 187.8h.01M501.0 164.7h.01M545.1 194.7h.01M549.9 166.9h.01M545.8 152.2h.01M491.1 208.6h.01M490.7 206.4h.01M524.4 158.2h.01M517.6 175.6h.01M542.9 211.1h.01M533.2 206.1h.01M507.3 206.6h.01M528.6 195.1h.01M550.9 184.1h.01M546.9 186.7h.01M505.4 160.3h.01M521.8 203.6h.01M493.0 167.7h.01M491.2 173.5h.01M499.2 174.0h.01M548.3 156.7h.01M490.7 193.8h.01M499.6 166.6h.01M508.5 195.7h.01M512.8 205.0h.01M509.1 202.9h.01M548.1 177.7h.01M536.8 156.1h.01M523.0 170.3h.01M526.5 193.2h.01M551.3 159.6h.01M527.5 190.0h.01M549.5 179.6h.01M510.1 173.4h.01M498.4 205.9h.01M513.9 193.0h.01M507.4 178.0h.01M539.4 153.9h.01M504.2 186.8h.01M494.4 159.2h.01M543.4 158.7h.01M534.7 174.3h.01M544.5 183.6h.01M518.3 184.7h.01M507.6 161.3h.01M540.6 201.0h.01M505.5 154.9h.01M533.6 184.2h.01M508.4 178.1h.01M517.8 200.1h.01M503.2 186.9h.01M545.8 192.4h.01M515.9 170.5h.01M514.2 190.6h.01M519.3 181.6h.01M523.1 201.3h.01M529.4 206.3h.01M508.8 174.8h.01M504.3 172.4h.01M520.4 196.8h.01M507.6 158.5h.01M492.8 179.6h.01M536.5 169.4h.01M508.3 180.7h.01M530.6 209.5h.01M551.2 188.1h.01M538.5 156.1h.01M532.8 173.6h.01M500.2 156.5h.01M550.2 153.6h.01M538.5 169.8h.01M541.3 209.9h.01M525.9 162.5h.01M543.2 178.6h.01M550.0 187.1h.01M547.5 198.1h.01M549.2 190.3h.01M501.4 176.4h.01M544.5 206.2h.01M530.1 182.2h.01M529.9 164.4h.01M495.6 162.8h.01M540.5 210.3h.01M520.6 186.9h.01M511.0 160.8h.01M505.3 177.4h.01M540.5 165.9h.01M508.4 195.8h.01M524.5 176.4h.01M535.7 188.9h.01M532.3 186.5h.01M541.8 156.5h.01M499.9 181.6h.01M540.8 196.6h.01M518.6 192.5h.01M499.6 187.9h.01M549.7 199.3h.01M533.3 154.0h.01M550.8 210.8h.01M524.2 156.3h.01M509.9 186.3h.01M546.1 206.4h.01M534.0 207.5h.01M548.4 195.3h.01M491.8 201.6h.01M514.7 198.6h.01M539.1 210.5h.01M510.0 195.7h.01M492.2 195.8h.01M514.0 186.9h.01M499.8 194.4h.01M540.9 169.8h.01M500.2 207.6h.01M532.9 165.9h.01M501.7 190.3h.01M502.8 178.0h.01M535.9 180.7h.01M529.0 199.1h.01M501.2 194.0h.01M531.7 164.4h.01M502.3 171.8h.01M532.4 180.6h.01M496.8 159.0h.01M498.2 203.6h.01M510.5 181.6h.01M518.9 207.6h.01M507.8 176.5h.01M549.6 176.0h.01M506.6 178.0h.01M497.6 178.3h.01M532.4 165.5h.01M551.2 154.0h.01M539.2 178.0h.01M549.8 186.3h.01M505.0 190.0h.01M547.6 203.6h.01M513.3 165.0h.01M542.9 175.7h.01M505.8 206.6h.01M492.9 188.6h.01M528.3 204.6h.01M514.6 163.2h.01M507.4 174.1h.01M511.6 170.8h.01M494.4 181.8h.01M542.5 168.2h.01M505.4 162.4h.01M497.9 205.3h.01M537.0 211.4h.01M519.0 183.7h.01M520.7 167.6h.01M537.5 206.1h.01M518.9 155.9h.01M525.9 171.2h.01M548.4 195.0h.01M520.5 196.6h.01M522.5 200.5h.01M543.6 193.3h.01M510.9 153.1h.01M516.0 183.8h.01M545.9 176.6h.01M513.8 172.2h.01M524.4 152.0h.01M499.3 167.2h.01M504.8 176.8h.01" stroke="#d02ea0" stroke-width="1.45" stroke-linecap="round" fill="none"/>
<path d="M543.4 210.3L548.7 210.3" stroke="#ddd" stroke-width="0.5"/>
<path d="M544.4 209.1L547.7 209.1" stroke="#777" stroke-width="0.5"/>
<rect x="422.4" y="216" width="67.3" height="62.4" fill="#aaaaa6"/>
<rect x="360.1" y="216" width="62.8" height="62.4" fill="#000"/>
<path d="M368.3 272.5h.01M403.1 276.6h.01M364.0 236.0h.01M415.4 268.4h.01M379.3 225.5h.01M401.8 241.5h.01M401.6 246.8h.01M385.0 217.9h.01M369.0 244.7h.01M405.6 242.7h.01M406.6 249.6h.01M369.3 220.6h.01M363.1 269.4h.01M414.6 262.6h.01M398.2 242.2h.01M419.9 231.4h.01M387.6 261.5h.01M402.6 241.7h.01M388.4 275.8h.01M377.7 229.5h.01M403.0 233.6h.01M416.0 236.5h.01M417.7 239.8h.01M415.2 262.6h.01M362.6 227.7h.01M395.6 226.1h.01M368.0 277.6h.01M391.4 276.0h.01M415.8 266.9h.01M362.5 252.7h.01M417.5 272.1h.01M379.7 225.9h.01M413.3 254.1h.01M379.4 265.4h.01M403.3 231.2h.01M391.5 253.0h.01M375.1 227.8h.01M389.9 221.0h.01M391.2 274.1h.01M411.6 219.9h.01M404.8 259.9h.01M362.4 263.1h.01M372.7 265.7h.01M380.6 239.0h.01M371.3 269.7h.01M374.4 270.0h.01M392.4 225.7h.01M401.1 249.1h.01M362.4 267.0h.01M377.4 218.1h.01M407.9 261.1h.01M371.8 246.2h.01M407.2 265.7h.01M367.2 240.4h.01M364.8 267.7h.01M422.3 257.6h.01M407.1 239.4h.01M382.3 269.5h.01M371.4 226.3h.01M366.2 268.2h.01M380.1 271.9h.01M380.0 267.8h.01M372.7 271.8h.01M420.7 270.4h.01M403.3 271.5h.01M417.0 275.6h.01M377.7 268.6h.01M408.7 237.8h.01M371.1 271.7h.01M389.8 249.0h.01M403.0 249.2h.01M377.5 259.0h.01M416.4 231.7h.01M407.1 248.6h.01M372.6 257.3h.01M378.0 231.9h.01M412.8 277.5h.01M379.5 241.4h.01M400.6 230.9h.01M417.9 242.0h.01M418.9 244.1h.01M401.1 218.9h.01M373.2 234.7h.01M366.1 251.3h.01M420.0 269.1h.01M399.0 276.7h.01M405.6 255.4h.01M388.9 221.6h.01M415.7 271.4h.01M410.3 258.8h.01M410.8 275.3h.01M420.6 263.7h.01M361.7 274.6h.01M377.4 218.7h.01M417.5 271.9h.01M389.7 239.3h.01M417.3 271.6h.01M392.7 247.9h.01M403.0 234.3h.01M372.0 276.9h.01M377.3 233.1h.01M391.0 222.0h.01M393.0 226.4h.01M409.2 265.6h.01M419.6 227.3h.01M421.4 225.7h.01M382.3 217.0h.01M391.1 221.6h.01M394.9 273.7h.01M408.9 256.2h.01M366.3 277.0h.01M383.2 274.7h.01M369.7 234.9h.01M419.1 262.3h.01M372.2 244.6h.01M394.1 232.0h.01M374.2 221.7h.01M388.2 234.3h.01M390.0 269.2h.01M419.0 266.6h.01M367.6 234.3h.01M376.8 231.3h.01M381.2 274.2h.01M392.4 271.7h.01M397.2 273.2h.01M397.3 247.4h.01M374.8 222.7h.01M387.1 241.5h.01M368.7 274.9h.01M361.8 243.6h.01M375.9 241.6h.01M412.2 275.6h.01M385.2 260.2h.01M387.4 267.8h.01M379.4 271.5h.01M362.8 236.6h.01M389.7 249.7h.01M389.6 242.4h.01M402.0 243.8h.01M388.2 263.7h.01M375.4 246.1h.01M363.8 257.6h.01M410.0 257.1h.01M398.9 218.5h.01M383.1 244.9h.01M374.7 220.9h.01M395.9 218.1h.01M387.4 241.2h.01M410.6 259.8h.01M388.9 217.0h.01M404.5 260.9h.01M400.0 277.2h.01M367.2 254.9h.01M418.8 276.9h.01M371.6 276.6h.01M362.7 217.6h.01M385.5 221.4h.01M419.4 273.5h.01M376.7 269.8h.01M382.3 266.7h.01M368.4 274.2h.01M360.8 218.9h.01M389.9 253.1h.01M376.8 217.9h.01M417.1 259.4h.01M377.0 262.9h.01M414.3 273.3h.01M400.4 274.8h.01M364.7 233.0h.01M402.4 229.7h.01M407.2 255.9h.01M378.4 248.6h.01M407.0 275.8h.01M381.2 255.6h.01M406.9 274.8h.01M386.2 223.3h.01M392.5 258.1h.01M417.0 262.9h.01M394.4 269.0h.01M398.4 233.2h.01M361.3 252.5h.01M361.5 238.1h.01M421.7 232.4h.01M403.1 261.6h.01M380.6 253.4h.01M415.3 260.9h.01M381.3 277.5h.01M402.0 231.3h.01M410.5 264.6h.01M414.7 267.8h.01M407.8 266.9h.01M374.0 277.0h.01M396.2 272.2h.01M378.6 246.6h.01M411.3 233.7h.01M405.8 264.8h.01M386.3 216.7h.01M385.4 250.1h.01M367.1 256.0h.01M364.8 224.7h.01M365.6 274.9h.01M416.7 254.9h.01M373.6 257.1h.01M389.9 223.2h.01M396.3 223.4h.01M378.0 225.3h.01M375.8 271.5h.01M391.1 250.2h.01M369.6 225.9h.01M406.4 252.5h.01M376.2 241.0h.01M383.3 273.3h.01M404.0 267.5h.01M401.2 275.5h.01M363.1 271.3h.01M373.6 244.9h.01M396.7 230.3h.01M377.7 270.7h.01M372.0 267.5h.01M389.6 258.8h.01M384.9 258.1h.01M404.1 242.5h.01M379.1 242.9h.01M382.3 259.3h.01M392.0 230.4h.01M414.8 251.8h.01M384.1 274.8h.01M410.0 227.3h.01M366.4 263.1h.01M381.4 249.0h.01M401.6 275.8h.01M368.5 217.9h.01M394.0 232.8h.01M379.8 241.7h.01M387.4 241.7h.01M378.2 275.6h.01M361.5 230.3h.01M384.8 255.3h.01M411.5 264.8h.01M371.6 273.6h.01M371.5 266.0h.01M373.8 244.8h.01M408.9 265.7h.01M417.6 261.7h.01M390.8 253.9h.01M368.4 270.1h.01M396.0 273.4h.01M405.1 276.4h.01M392.4 244.7h.01M365.4 243.4h.01M374.2 254.0h.01M368.2 271.7h.01M396.8 273.8h.01M377.2 234.1h.01M371.8 255.6h.01M381.3 222.9h.01M409.1 274.6h.01M380.9 235.7h.01M390.3 246.1h.01M384.0 231.9h.01M405.0 238.2h.01M387.9 251.1h.01M377.4 240.3h.01M404.9 274.1h.01M364.7 270.2h.01M366.1 256.9h.01M363.9 250.0h.01M374.8 266.1h.01M362.0 247.9h.01M391.7 275.1h.01M381.6 235.4h.01M389.4 277.1h.01M389.9 270.6h.01M406.9 239.0h.01M365.7 241.4h.01M366.7 240.4h.01M362.8 224.6h.01M363.3 234.1h.01M380.6 274.3h.01M372.1 272.9h.01M419.8 275.4h.01M370.8 230.6h.01M419.4 261.4h.01M418.2 263.4h.01M375.9 219.2h.01M366.0 252.1h.01M393.2 244.7h.01M403.8 230.1h.01M374.7 230.2h.01M398.7 220.4h.01M387.1 247.0h.01M389.1 258.9h.01M410.3 249.5h.01M370.7 227.4h.01M418.2 245.2h.01M390.8 230.0h.01M394.8 272.4h.01M408.5 272.5h.01M377.5 237.5h.01M392.4 248.5h.01M421.3 218.8h.01M419.0 277.0h.01M401.7 229.5h.01M403.9 237.0h.01M382.8 268.5h.01M379.1 240.3h.01M373.3 242.7h.01M412.5 276.5h.01M390.1 225.8h.01M376.2 219.5h.01M387.0 266.3h.01M385.6 244.1h.01M421.6 277.5h.01M377.0 253.3h.01M380.8 236.7h.01M411.4 256.0h.01M389.6 266.8h.01M377.1 251.4h.01M389.5 264.3h.01M397.3 225.8h.01M365.6 232.6h.01M396.6 223.7h.01M370.3 238.0h.01M375.3 253.7h.01M374.4 229.2h.01M407.0 254.7h.01M384.0 245.5h.01M373.9 266.6h.01M376.1 247.5h.01M379.3 243.4h.01M398.2 268.7h.01M364.7 264.3h.01M384.6 223.7h.01M388.8 270.0h.01M384.9 235.2h.01M393.6 251.2h.01M417.3 272.1h.01M421.2 220.8h.01M405.4 246.4h.01M361.0 232.1h.01M420.1 273.4h.01M389.3 224.8h.01M406.4 235.7h.01M364.6 233.0h.01M381.5 234.7h.01M406.9 268.4h.01M400.9 244.1h.01M393.6 254.3h.01M377.2 269.7h.01M382.1 244.2h.01M368.1 248.3h.01M360.9 249.0h.01M373.4 274.8h.01M369.3 248.6h.01M388.4 274.4h.01M406.3 269.2h.01M403.1 267.0h.01M414.2 270.1h.01M417.4 274.0h.01M415.8 238.7h.01M374.7 231.4h.01M365.9 248.1h.01M369.3 219.9h.01M363.3 269.8h.01M382.6 240.3h.01M383.3 253.5h.01M388.5 228.9h.01M389.0 253.3h.01M417.2 235.1h.01M367.4 245.2h.01M413.0 218.5h.01M406.1 256.6h.01M385.7 242.0h.01M374.2 235.2h.01M383.8 274.4h.01M415.7 261.7h.01M404.5 232.4h.01M383.2 229.1h.01M405.6 265.2h.01M392.9 263.0h.01M414.8 222.6h.01M381.8 258.8h.01M368.2 244.5h.01M380.1 239.2h.01M401.2 272.8h.01M368.5 237.5h.01M383.7 234.3h.01M411.0 248.5h.01M361.9 271.4h.01M406.0 270.6h.01M379.4 236.2h.01M385.9 241.4h.01M388.7 277.1h.01M369.8 246.3h.01M388.6 257.3h.01M412.7 245.9h.01M372.6 237.4h.01M368.4 267.0h.01M381.7 219.2h.01M399.5 229.7h.01" stroke="#2020f0" stroke-width="1.12" stroke-linecap="round" fill="none"/>
<path d="M414.4 275.8L419.7 275.8" stroke="#ddd" stroke-width="0.5"/>
<path d="M415.4 274.6L418.7 274.6" stroke="#777" stroke-width="0.5"/>
<rect x="425" y="216" width="62.2" height="62.4" fill="#000"/>
<path d="M438.8 266.6h.01M447.2 269.5h.01M428.0 269.4h.01M457.8 263.0h.01M440.3 246.1h.01M462.2 247.4h.01M437.1 244.6h.01M442.4 259.0h.01M448.1 229.1h.01M472.1 265.7h.01M465.8 244.1h.01M437.0 272.9h.01M436.2 269.7h.01M466.6 229.5h.01M461.6 230.3h.01M452.5 261.5h.01M484.8 231.4h.01M466.0 249.1h.01M448.1 274.7h.01M483.9 266.6h.01M455.2 246.1h.01M455.0 225.8h.01M479.5 262.6h.01M468.7 230.1h.01M455.9 222.0h.01M453.4 228.9h.01M449.5 223.7h.01M480.7 238.7h.01M428.0 271.3h.01M434.6 234.9h.01M446.3 249.0h.01M483.9 277.0h.01M474.9 257.1h.01M480.3 268.4h.01M426.8 271.4h.01M466.0 218.9h.01M479.1 270.1h.01M471.8 274.8h.01M482.8 242.0h.01M431.2 277.0h.01M444.3 236.2h.01M471.9 275.8h.01M476.2 233.7h.01M442.3 218.1h.01M468.0 261.6h.01M457.4 258.1h.01M441.1 219.5h.01M427.7 236.6h.01M482.6 239.8h.01M439.1 235.2h.01M443.1 275.6h.01M430.6 241.4h.01M485.6 270.4h.01M443.5 246.6h.01M469.7 259.9h.01M484.3 261.4h.01M469.4 260.9h.01M461.5 223.7h.01M454.5 266.8h.01M480.2 260.9h.01M455.7 230.0h.01M467.9 234.3h.01M439.6 231.4h.01M456.4 253.0h.01M480.1 262.6h.01M470.3 246.4h.01M439.1 221.7h.01M477.6 245.9h.01M475.5 259.8h.01M436.7 246.2h.01M458.9 232.8h.01M471.9 254.7h.01M446.2 277.5h.01M431.0 251.3h.01M479.6 267.8h.01" stroke="#b01616" stroke-width="1.25" stroke-linecap="round" fill="none"/>
<path d="M478.7 275.8L484 275.8" stroke="#ddd" stroke-width="0.5"/>
<path d="M479.7 274.6L483 274.6" stroke="#777" stroke-width="0.5"/>
<rect x="489.2" y="216" width="62.7" height="62.4" fill="#000"/>
<path d="M497.4 272.5h.01M532.2 276.6h.01M493.1 236.0h.01M544.5 268.4h.01M508.4 225.5h.01M530.9 241.5h.01M530.7 246.8h.01M514.1 217.9h.01M498.1 244.7h.01M534.7 242.7h.01M535.7 249.6h.01M498.4 220.6h.01M492.2 269.4h.01M543.7 262.6h.01M527.3 242.2h.01M549.0 231.4h.01M516.7 261.5h.01M531.7 241.7h.01M517.5 275.8h.01M506.8 229.5h.01M532.1 233.6h.01M545.1 236.5h.01M546.8 239.8h.01M544.3 262.6h.01M491.7 227.7h.01M524.7 226.1h.01M497.1 277.6h.01M520.5 276.0h.01M544.9 266.9h.01M491.6 252.7h.01M546.6 272.1h.01M508.8 225.9h.01M542.4 254.1h.01M508.5 265.4h.01M532.4 231.2h.01M520.6 253.0h.01M504.2 227.8h.01M519.0 221.0h.01M520.3 274.1h.01M540.7 219.9h.01M533.9 259.9h.01M491.5 263.1h.01M501.8 265.7h.01M509.7 239.0h.01M500.4 269.7h.01M503.5 270.0h.01M521.5 225.7h.01M530.2 249.1h.01M491.5 267.0h.01M506.5 218.1h.01M537.0 261.1h.01M500.9 246.2h.01M536.3 265.7h.01M496.3 240.4h.01M493.9 267.7h.01M551.4 257.6h.01M536.2 239.4h.01M511.4 269.5h.01M500.5 226.3h.01M495.3 268.2h.01M509.2 271.9h.01M509.1 267.8h.01M501.8 271.8h.01M549.8 270.4h.01M532.4 271.5h.01M546.1 275.6h.01M506.8 268.6h.01M537.8 237.8h.01M500.2 271.7h.01M518.9 249.0h.01M532.1 249.2h.01M506.6 259.0h.01M545.5 231.7h.01M536.2 248.6h.01M501.7 257.3h.01M507.1 231.9h.01M541.9 277.5h.01M508.6 241.4h.01M529.7 230.9h.01M547.0 242.0h.01M548.0 244.1h.01M530.2 218.9h.01M502.3 234.7h.01M495.2 251.3h.01M549.1 269.1h.01M528.1 276.7h.01M534.7 255.4h.01M518.0 221.6h.01M544.8 271.4h.01M539.4 258.8h.01M539.9 275.3h.01M549.7 263.7h.01M490.8 274.6h.01M506.5 218.7h.01M546.6 271.9h.01M518.8 239.3h.01M546.4 271.6h.01M521.8 247.9h.01M532.1 234.3h.01M501.1 276.9h.01M506.4 233.1h.01M520.1 222.0h.01M522.1 226.4h.01M538.3 265.6h.01M548.7 227.3h.01M550.5 225.7h.01M511.4 217.0h.01M520.2 221.6h.01M524.0 273.7h.01M538.0 256.2h.01M495.4 277.0h.01M512.3 274.7h.01M498.8 234.9h.01M548.2 262.3h.01M501.3 244.6h.01M523.2 232.0h.01M503.3 221.7h.01M517.3 234.3h.01M519.1 269.2h.01M548.1 266.6h.01M496.7 234.3h.01M505.9 231.3h.01M510.3 274.2h.01M521.5 271.7h.01M526.3 273.2h.01M526.4 247.4h.01M503.9 222.7h.01M516.2 241.5h.01M497.8 274.9h.01M490.9 243.6h.01M505.0 241.6h.01M541.3 275.6h.01M514.3 260.2h.01M516.5 267.8h.01M508.5 271.5h.01M491.9 236.6h.01M518.8 249.7h.01M518.7 242.4h.01M531.1 243.8h.01M517.3 263.7h.01M504.5 246.1h.01M492.9 257.6h.01M539.1 257.1h.01M528.0 218.5h.01M512.2 244.9h.01M503.8 220.9h.01M525.0 218.1h.01M516.5 241.2h.01M539.7 259.8h.01M518.0 217.0h.01M533.6 260.9h.01M529.1 277.2h.01M496.3 254.9h.01M547.9 276.9h.01M500.7 276.6h.01M491.8 217.6h.01M514.6 221.4h.01M548.5 273.5h.01M505.8 269.8h.01M511.4 266.7h.01M497.5 274.2h.01M489.9 218.9h.01M519.0 253.1h.01M505.9 217.9h.01M546.2 259.4h.01M506.1 262.9h.01M543.4 273.3h.01M529.5 274.8h.01M493.8 233.0h.01M531.5 229.7h.01M536.3 255.9h.01M507.5 248.6h.01M536.1 275.8h.01M510.3 255.6h.01M536.0 274.8h.01M515.3 223.3h.01M521.6 258.1h.01M546.1 262.9h.01M523.5 269.0h.01M527.5 233.2h.01M490.4 252.5h.01M490.6 238.1h.01M550.8 232.4h.01M532.2 261.6h.01M509.7 253.4h.01M544.4 260.9h.01M510.4 277.5h.01M531.1 231.3h.01M539.6 264.6h.01M543.8 267.8h.01M536.9 266.9h.01M503.1 277.0h.01M525.3 272.2h.01M507.7 246.6h.01M540.4 233.7h.01M534.9 264.8h.01M515.4 216.7h.01M514.5 250.1h.01M496.2 256.0h.01M493.9 224.7h.01M494.7 274.9h.01M545.8 254.9h.01M502.7 257.1h.01M519.0 223.2h.01M525.4 223.4h.01M507.1 225.3h.01M504.9 271.5h.01M520.2 250.2h.01M498.7 225.9h.01M535.5 252.5h.01M505.3 241.0h.01M512.4 273.3h.01M533.1 267.5h.01M530.3 275.5h.01M492.2 271.3h.01M502.7 244.9h.01M525.8 230.3h.01M506.8 270.7h.01M501.1 267.5h.01M518.7 258.8h.01M514.0 258.1h.01M533.2 242.5h.01M508.2 242.9h.01M511.4 259.3h.01M521.1 230.4h.01M543.9 251.8h.01M513.2 274.8h.01M539.1 227.3h.01M495.5 263.1h.01M510.5 249.0h.01M530.7 275.8h.01M497.6 217.9h.01M523.1 232.8h.01M508.9 241.7h.01M516.5 241.7h.01M507.3 275.6h.01M490.6 230.3h.01M513.9 255.3h.01M540.6 264.8h.01M500.7 273.6h.01M500.6 266.0h.01M502.9 244.8h.01M538.0 265.7h.01M546.7 261.7h.01M519.9 253.9h.01M497.5 270.1h.01M525.1 273.4h.01M534.2 276.4h.01M521.5 244.7h.01M494.5 243.4h.01M503.3 254.0h.01M497.3 271.7h.01M525.9 273.8h.01M506.3 234.1h.01M500.9 255.6h.01M510.4 222.9h.01M538.2 274.6h.01M510.0 235.7h.01M519.4 246.1h.01M513.1 231.9h.01M534.1 238.2h.01M517.0 251.1h.01M506.5 240.3h.01M534.0 274.1h.01M493.8 270.2h.01M495.2 256.9h.01M493.0 250.0h.01M503.9 266.1h.01M491.1 247.9h.01M520.8 275.1h.01M510.7 235.4h.01M518.5 277.1h.01M519.0 270.6h.01M536.0 239.0h.01M494.8 241.4h.01M495.8 240.4h.01M491.9 224.6h.01M492.4 234.1h.01M509.7 274.3h.01M501.2 272.9h.01M548.9 275.4h.01M499.9 230.6h.01M548.5 261.4h.01M547.3 263.4h.01M505.0 219.2h.01M495.1 252.1h.01M522.3 244.7h.01M532.9 230.1h.01M503.8 230.2h.01M527.8 220.4h.01M516.2 247.0h.01M518.2 258.9h.01M539.4 249.5h.01M499.8 227.4h.01M547.3 245.2h.01M519.9 230.0h.01M523.9 272.4h.01M537.6 272.5h.01M506.6 237.5h.01M521.5 248.5h.01M550.4 218.8h.01M548.1 277.0h.01M530.8 229.5h.01M533.0 237.0h.01M511.9 268.5h.01M508.2 240.3h.01M502.4 242.7h.01M541.6 276.5h.01M519.2 225.8h.01M505.3 219.5h.01M516.1 266.3h.01M514.7 244.1h.01M550.7 277.5h.01M506.1 253.3h.01M509.9 236.7h.01M540.5 256.0h.01M518.7 266.8h.01M506.2 251.4h.01M518.6 264.3h.01M526.4 225.8h.01M494.7 232.6h.01M525.7 223.7h.01M499.4 238.0h.01M504.4 253.7h.01M503.5 229.2h.01M536.1 254.7h.01M513.1 245.5h.01M503.0 266.6h.01M505.2 247.5h.01M508.4 243.4h.01M527.3 268.7h.01M493.8 264.3h.01M513.7 223.7h.01M517.9 270.0h.01M514.0 235.2h.01M522.7 251.2h.01M546.4 272.1h.01M550.3 220.8h.01M534.5 246.4h.01M490.1 232.1h.01M549.2 273.4h.01M518.4 224.8h.01M535.5 235.7h.01M493.7 233.0h.01M510.6 234.7h.01M536.0 268.4h.01M530.0 244.1h.01M522.7 254.3h.01M506.3 269.7h.01M511.2 244.2h.01M497.2 248.3h.01M490.0 249.0h.01M502.5 274.8h.01M498.4 248.6h.01M517.5 274.4h.01M535.4 269.2h.01M532.2 267.0h.01M543.3 270.1h.01M546.5 274.0h.01M544.9 238.7h.01M503.8 231.4h.01M495.0 248.1h.01M498.4 219.9h.01M492.4 269.8h.01M511.7 240.3h.01M512.4 253.5h.01M517.6 228.9h.01M518.1 253.3h.01M546.3 235.1h.01M496.5 245.2h.01M542.1 218.5h.01M535.2 256.6h.01M514.8 242.0h.01M503.3 235.2h.01M512.9 274.4h.01M544.8 261.7h.01M533.6 232.4h.01M512.3 229.1h.01M534.7 265.2h.01M522.0 263.0h.01M543.9 222.6h.01M510.9 258.8h.01M497.3 244.5h.01M509.2 239.2h.01M530.3 272.8h.01M497.6 237.5h.01M512.8 234.3h.01M540.1 248.5h.01M491.0 271.4h.01M535.1 270.6h.01M508.5 236.2h.01M515.0 241.4h.01M517.8 277.1h.01M498.9 246.3h.01M517.7 257.3h.01M541.8 245.9h.01M501.7 237.4h.01M497.5 267.0h.01M510.8 219.2h.01M528.6 229.7h.01" stroke="#2020f0" stroke-width="1.12" stroke-linecap="round" fill="none"/>
<path d="M503.0 266.6h.01M511.4 269.5h.01M492.2 269.4h.01M522.0 263.0h.01M504.5 246.1h.01M526.4 247.4h.01M501.3 244.6h.01M506.6 259.0h.01M512.3 229.1h.01M536.3 265.7h.01M530.0 244.1h.01M501.2 272.9h.01M500.4 269.7h.01M530.8 229.5h.01M525.8 230.3h.01M516.7 261.5h.01M549.0 231.4h.01M530.2 249.1h.01M512.3 274.7h.01M548.1 266.6h.01M519.4 246.1h.01M519.2 225.8h.01M543.7 262.6h.01M532.9 230.1h.01M520.1 222.0h.01M517.6 228.9h.01M513.7 223.7h.01M544.9 238.7h.01M492.2 271.3h.01M498.8 234.9h.01M510.5 249.0h.01M548.1 277.0h.01M539.1 257.1h.01M544.5 268.4h.01M491.0 271.4h.01M530.2 218.9h.01M543.3 270.1h.01M536.0 274.8h.01M547.0 242.0h.01M495.4 277.0h.01M508.5 236.2h.01M536.1 275.8h.01M540.4 233.7h.01M506.5 218.1h.01M532.2 261.6h.01M521.6 258.1h.01M505.3 219.5h.01M491.9 236.6h.01M546.8 239.8h.01M503.3 235.2h.01M507.3 275.6h.01M494.8 241.4h.01M549.8 270.4h.01M507.7 246.6h.01M533.9 259.9h.01M548.5 261.4h.01M533.6 260.9h.01M525.7 223.7h.01M518.7 266.8h.01M544.4 260.9h.01M519.9 230.0h.01M532.1 234.3h.01M503.8 231.4h.01M520.6 253.0h.01M544.3 262.6h.01M534.5 246.4h.01M503.3 221.7h.01M541.8 245.9h.01M539.7 259.8h.01M500.9 246.2h.01M523.1 232.8h.01M536.1 254.7h.01M510.4 277.5h.01M495.2 251.3h.01M543.8 267.8h.01" stroke="#a0268a" stroke-width="1.25" stroke-linecap="round" fill="none"/>
<path d="M543.4 275.8L548.7 275.8" stroke="#ddd" stroke-width="0.5"/>
<path d="M544.4 274.6L547.7 274.6" stroke="#777" stroke-width="0.5"/>
<rect x="587.2" y="189.2" width="26.7" height="82.3" fill="#4A64AF"/>
<path d="M600.55 189.2V188.7M594.05 188.7H607.05" stroke="#4A64AF" stroke-width="0.7" fill="none"/>
<rect x="627.4" y="217" width="26.5" height="54.5" fill="#159C63"/>
<path d="M640.65 217V215.7M634.15 215.7H647.15" stroke="#159C63" stroke-width="0.7" fill="none"/>
<path d="M573.3 185.5L573.3 272" stroke="#333" stroke-width="1"/>
<path d="M571 271.5L573.3 271.5" stroke="#333" stroke-width="1"/>
<text transform="translate(570.6 273.7) scale(0.848 1)" font-size="6.6" text-anchor="end" stroke="#000" stroke-width="0.25">0</text>
<path d="M571 250.12L573.3 250.12" stroke="#333" stroke-width="1"/>
<text transform="translate(570.6 252.32) scale(0.848 1)" font-size="6.6" text-anchor="end" stroke="#000" stroke-width="0.25">10</text>
<path d="M571 228.75L573.3 228.75" stroke="#333" stroke-width="1"/>
<text transform="translate(570.6 230.95) scale(0.848 1)" font-size="6.6" text-anchor="end" stroke="#000" stroke-width="0.25">20</text>
<path d="M571 207.38L573.3 207.38" stroke="#333" stroke-width="1"/>
<text transform="translate(570.6 209.57) scale(0.848 1)" font-size="6.6" text-anchor="end" stroke="#000" stroke-width="0.25">30</text>
<path d="M571 186L573.3 186" stroke="#333" stroke-width="1"/>
<text transform="translate(570.6 188.2) scale(0.848 1)" font-size="6.6" text-anchor="end" stroke="#000" stroke-width="0.25">40</text>
<path d="M572.8 271.5L667.4 271.5" stroke="#444" stroke-width="1"/>
<path d="M600.7 271.5L600.7 274.2" stroke="#333" stroke-width="1"/>
<path d="M640.5 271.5L640.5 274.2" stroke="#333" stroke-width="1"/>
<text transform="translate(600.4 280.6) scale(0.985 1)" font-size="5.4" text-anchor="middle" stroke="#000" stroke-width="0.25">si-NC</text>
<text transform="translate(640.2 280.6) scale(0.970 1)" font-size="5.4" text-anchor="middle" stroke="#000" stroke-width="0.25">si-FGA</text>
<text transform="translate(562.1 228) rotate(-90) scale(1.041 1)" font-size="5.6" text-anchor="middle" stroke="#000" stroke-width="0.25">Cell proliferation rate (%)</text>
<path d="M600.7 183.3L640.5 183.3" stroke="#555" stroke-width="0.8"/>
<text transform="translate(620.4 185) scale(0.848 1)" font-size="5.5" text-anchor="middle" fill="#555" stroke="#555" stroke-width="0.25">***</text>
</g>
<g>
<text transform="translate(13.4 317) scale(1.007 1)" font-size="15.5">f</text>
<rect x="54.3" y="384.92" width="7.5" height="42.88" fill="#E9573D"/>
<path d="M58.05 384.92V382.35M56.35 382.35H59.75" stroke="#E9573D" stroke-width="0.7" fill="none"/>
<rect x="65.6" y="405.07" width="7.5" height="22.73" fill="#FDB562"/>
<path d="M69.35 405.07V403.57M67.15 403.57H71.55" stroke="#FDB562" stroke-width="0.7" fill="none"/>
<rect x="84.77" y="384.28" width="7.5" height="43.52" fill="#E9573D"/>
<path d="M88.52 384.28V374.63M86.82 374.63H90.22" stroke="#E9573D" stroke-width="0.7" fill="none"/>
<rect x="96.07" y="335.18" width="7.5" height="92.62" fill="#FDB562"/>
<path d="M99.82 335.18V327.46M97.62 327.46H102.02" stroke="#FDB562" stroke-width="0.7" fill="none"/>
<rect x="115.24" y="384.92" width="7.5" height="42.88" fill="#E9573D"/>
<path d="M118.99 384.92V382.35M117.29 382.35H120.69" stroke="#E9573D" stroke-width="0.7" fill="none"/>
<rect x="126.54" y="375.06" width="7.5" height="52.74" fill="#FDB562"/>
<path d="M130.29 375.06V373.56M128.09 373.56H132.49" stroke="#FDB562" stroke-width="0.7" fill="none"/>
<rect x="145.71" y="384.92" width="7.5" height="42.88" fill="#E9573D"/>
<path d="M149.46 384.92V384.49M147.76 384.49H151.16" stroke="#E9573D" stroke-width="0.7" fill="none"/>
<rect x="157.01" y="382.13" width="7.5" height="45.67" fill="#FDB562"/>
<path d="M160.76 382.13V380.63M158.56 380.63H162.96" stroke="#FDB562" stroke-width="0.7" fill="none"/>
<rect x="176.18" y="384.92" width="7.5" height="42.88" fill="#E9573D"/>
<path d="M179.93 384.92V384.06M178.23 384.06H181.63" stroke="#E9573D" stroke-width="0.7" fill="none"/>
<rect x="187.48" y="382.13" width="7.5" height="45.67" fill="#FDB562"/>
<path d="M191.23 382.13V380.63M189.03 380.63H193.43" stroke="#FDB562" stroke-width="0.7" fill="none"/>
<rect x="206.65" y="384.92" width="7.5" height="42.88" fill="#E9573D"/>
<path d="M210.4 384.92V383.63M208.7 383.63H212.1" stroke="#E9573D" stroke-width="0.7" fill="none"/>
<rect x="217.95" y="377.84" width="7.5" height="49.96" fill="#FDB562"/>
<path d="M221.7 377.84V376.34M219.5 376.34H223.9" stroke="#FDB562" stroke-width="0.7" fill="none"/>
<path d="M50.8 320L50.8 428.4" stroke="#222" stroke-width="1.2"/>
<path d="M46.3 427.8L50.8 427.8" stroke="#222" stroke-width="1.2"/>
<text transform="translate(44 430.2) scale(1.120 1)" font-size="7" text-anchor="end" stroke="#000" stroke-width="0.25">0.0</text>
<path d="M46.3 406.36L50.8 406.36" stroke="#222" stroke-width="1.2"/>
<text transform="translate(44 408.76) scale(1.120 1)" font-size="7" text-anchor="end" stroke="#000" stroke-width="0.25">0.5</text>
<path d="M46.3 384.92L50.8 384.92" stroke="#222" stroke-width="1.2"/>
<text transform="translate(44 387.32) scale(1.120 1)" font-size="7" text-anchor="end" stroke="#000" stroke-width="0.25">1.0</text>
<path d="M46.3 363.48L50.8 363.48" stroke="#222" stroke-width="1.2"/>
<text transform="translate(44 365.88) scale(1.120 1)" font-size="7" text-anchor="end" stroke="#000" stroke-width="0.25">1.5</text>
<path d="M46.3 342.04L50.8 342.04" stroke="#222" stroke-width="1.2"/>
<text transform="translate(44 344.44) scale(1.120 1)" font-size="7" text-anchor="end" stroke="#000" stroke-width="0.25">2.0</text>
<path d="M46.3 320.6L50.8 320.6" stroke="#222" stroke-width="1.2"/>
<text transform="translate(44 323) scale(1.120 1)" font-size="7" text-anchor="end" stroke="#000" stroke-width="0.25">2.5</text>
<path d="M50.2 427.8L229.8 427.8" stroke="#222" stroke-width="1.2"/>
<path d="M63.3 427.8L63.3 431" stroke="#222" stroke-width="1.2"/>
<text transform="translate(63.7 438.7) scale(1.068 1)" font-size="7.7" text-anchor="middle" stroke="#000" stroke-width="0.25">GSK3&#946;</text>
<path d="M93.77 427.8L93.77 431" stroke="#222" stroke-width="1.2"/>
<text transform="translate(94.17 438.7) scale(1.087 1)" font-size="7.7" text-anchor="middle" stroke="#000" stroke-width="0.25">STAR</text>
<path d="M124.24 427.8L124.24 431" stroke="#222" stroke-width="1.2"/>
<text transform="translate(124.64 438.7) scale(1.047 1)" font-size="7.7" text-anchor="middle" stroke="#000" stroke-width="0.25">PCNA</text>
<path d="M154.71 427.8L154.71 431" stroke="#222" stroke-width="1.2"/>
<text transform="translate(155.11 438.7) scale(1.047 1)" font-size="7.7" text-anchor="middle" stroke="#000" stroke-width="0.25">IKBA</text>
<path d="M185.18 427.8L185.18 431" stroke="#222" stroke-width="1.2"/>
<text transform="translate(185.58 438.7) scale(1.091 1)" font-size="7.7" text-anchor="middle" stroke="#000" stroke-width="0.25">SP1</text>
<path d="M215.65 427.8L215.65 431" stroke="#222" stroke-width="1.2"/>
<text transform="translate(216.05 438.7) scale(1.068 1)" font-size="7.7" text-anchor="middle" stroke="#000" stroke-width="0.25">MCL1</text>
<text transform="translate(18.5 373.1) rotate(-90) scale(0.950 1)" font-size="7.6" text-anchor="middle" stroke="#000" stroke-width="0.25">Relative mRNA levels</text>
<text transform="translate(28.2 373.1) rotate(-90) scale(0.950 1)" font-size="7.6" text-anchor="middle" stroke="#000" stroke-width="0.25">(Gene/GAPDH)</text>
<path d="M56.5 378.6L66.7 378.6" stroke="#222" stroke-width="1"/>
<text transform="translate(62.2 379.5) scale(0.860 1)" font-size="8.6" text-anchor="middle" font-weight="normal" fill="#111">***</text>
<path d="M89.1 323.9L99.2 323.9" stroke="#222" stroke-width="1"/>
<text transform="translate(94.15 324.8) scale(0.860 1)" font-size="8.6" text-anchor="middle" font-weight="normal" fill="#111">**</text>
<path d="M119 370L128.8 370" stroke="#222" stroke-width="1"/>
<text transform="translate(123.9 370.9) scale(0.860 1)" font-size="8.6" text-anchor="middle" font-weight="normal" fill="#111">**</text>
<path d="M149.1 377.1L159.5 377.1" stroke="#222" stroke-width="1"/>
<text transform="translate(154.3 378) scale(0.860 1)" font-size="8.6" text-anchor="middle" font-weight="normal" fill="#111">*</text>
<path d="M180.1 376.8L190.3 376.8" stroke="#222" stroke-width="1"/>
<text transform="translate(185.2 377.7) scale(0.860 1)" font-size="8.6" text-anchor="middle" font-weight="normal" fill="#111">*</text>
<path d="M210.6 373L220.8 373" stroke="#222" stroke-width="1"/>
<text transform="translate(215.7 373.9) scale(0.860 1)" font-size="8.6" text-anchor="middle" font-weight="normal" fill="#111">**</text>
<rect x="162.5" y="320.3" width="10.8" height="2.7" fill="#E9573D"/>
<rect x="162.5" y="326.9" width="10.8" height="2.7" fill="#FDB562"/>
<text transform="translate(179.9 323.9) scale(1.117 1)" font-size="6.2" font-weight="normal" fill="#222">pcDNA3.1</text>
<text transform="translate(179.9 329.6) scale(1.125 1)" font-size="6.2" font-weight="normal" fill="#222">pcDNA3.1-FGA</text>
</g>
<g>
<text transform="translate(252.4 317.2) scale(0.929 1)" font-size="15.5">g</text>
<rect x="294.3" y="357.13" width="7.5" height="70.67" fill="#4A64AF"/>
<path d="M298.05 357.13V355.72M296.35 355.72H299.75" stroke="#4A64AF" stroke-width="0.7" fill="none"/>
<rect x="305.6" y="413.88" width="7.5" height="13.92" fill="#159C63"/>
<path d="M309.35 413.88V413.31M307.15 413.31H311.55" stroke="#159C63" stroke-width="0.7" fill="none"/>
<rect x="324.77" y="357.13" width="7.5" height="70.67" fill="#4A64AF"/>
<path d="M328.52 357.13V352.89M326.82 352.89H330.22" stroke="#4A64AF" stroke-width="0.7" fill="none"/>
<rect x="336.07" y="396.35" width="7.5" height="31.45" fill="#159C63"/>
<path d="M339.82 396.35V393.17M337.62 393.17H342.02" stroke="#159C63" stroke-width="0.7" fill="none"/>
<rect x="355.24" y="357.13" width="7.5" height="70.67" fill="#4A64AF"/>
<path d="M358.99 357.13V355.01M357.29 355.01H360.69" stroke="#4A64AF" stroke-width="0.7" fill="none"/>
<rect x="366.54" y="363.14" width="7.5" height="64.66" fill="#159C63"/>
<path d="M370.29 363.14V362.65M368.09 362.65H372.49" stroke="#159C63" stroke-width="0.7" fill="none"/>
<rect x="385.71" y="357.13" width="7.5" height="70.67" fill="#4A64AF"/>
<path d="M389.46 357.13V352.89M387.76 352.89H391.16" stroke="#4A64AF" stroke-width="0.7" fill="none"/>
<rect x="397.01" y="369.15" width="7.5" height="58.65" fill="#159C63"/>
<path d="M400.76 369.15V367.38M398.56 367.38H402.96" stroke="#159C63" stroke-width="0.7" fill="none"/>
<rect x="416.18" y="357.13" width="7.5" height="70.67" fill="#4A64AF"/>
<path d="M419.93 357.13V356.43M418.23 356.43H421.63" stroke="#4A64AF" stroke-width="0.7" fill="none"/>
<rect x="427.48" y="367.38" width="7.5" height="60.42" fill="#159C63"/>
<path d="M431.23 367.38V366.67M429.03 366.67H433.43" stroke="#159C63" stroke-width="0.7" fill="none"/>
<rect x="446.65" y="357.13" width="7.5" height="70.67" fill="#4A64AF"/>
<path d="M450.4 357.13V355.01M448.7 355.01H452.1" stroke="#4A64AF" stroke-width="0.7" fill="none"/>
<rect x="457.95" y="371.48" width="7.5" height="56.32" fill="#159C63"/>
<path d="M461.7 371.48V369.99M459.5 369.99H463.9" stroke="#159C63" stroke-width="0.7" fill="none"/>
<path d="M290.2 321.2L290.2 428.4" stroke="#222" stroke-width="1.2"/>
<path d="M285.7 427.8L290.2 427.8" stroke="#222" stroke-width="1.2"/>
<text transform="translate(284 430.2) scale(1.120 1)" font-size="7" text-anchor="end" stroke="#000" stroke-width="0.25">0.0</text>
<path d="M285.7 392.47L290.2 392.47" stroke="#222" stroke-width="1.2"/>
<text transform="translate(284 394.87) scale(1.120 1)" font-size="7" text-anchor="end" stroke="#000" stroke-width="0.25">0.5</text>
<path d="M285.7 357.13L290.2 357.13" stroke="#222" stroke-width="1.2"/>
<text transform="translate(284 359.53) scale(1.120 1)" font-size="7" text-anchor="end" stroke="#000" stroke-width="0.25">1.0</text>
<path d="M285.7 321.8L290.2 321.8" stroke="#222" stroke-width="1.2"/>
<text transform="translate(284 324.2) scale(1.120 1)" font-size="7" text-anchor="end" stroke="#000" stroke-width="0.25">1.5</text>
<path d="M289.6 427.8L470 427.8" stroke="#222" stroke-width="1.2"/>
<path d="M303.3 427.8L303.3 431" stroke="#222" stroke-width="1.2"/>
<text transform="translate(303.7 439) scale(1.088 1)" font-size="7.7" text-anchor="middle" stroke="#000" stroke-width="0.25">GSK3&#946;</text>
<path d="M333.77 427.8L333.77 431" stroke="#222" stroke-width="1.2"/>
<text transform="translate(334.17 439) scale(1.107 1)" font-size="7.7" text-anchor="middle" stroke="#000" stroke-width="0.25">STAR</text>
<path d="M364.24 427.8L364.24 431" stroke="#222" stroke-width="1.2"/>
<text transform="translate(364.64 439) scale(1.047 1)" font-size="7.7" text-anchor="middle" stroke="#000" stroke-width="0.25">PCNA</text>
<path d="M394.71 427.8L394.71 431" stroke="#222" stroke-width="1.2"/>
<text transform="translate(395.11 439) scale(1.047 1)" font-size="7.7" text-anchor="middle" stroke="#000" stroke-width="0.25">IKBA</text>
<path d="M425.18 427.8L425.18 431" stroke="#222" stroke-width="1.2"/>
<text transform="translate(425.58 439) scale(1.091 1)" font-size="7.7" text-anchor="middle" stroke="#000" stroke-width="0.25">SP1</text>
<path d="M455.65 427.8L455.65 431" stroke="#222" stroke-width="1.2"/>
<text transform="translate(456.05 439) scale(1.068 1)" font-size="7.7" text-anchor="middle" stroke="#000" stroke-width="0.25">MCL1</text>
<text transform="translate(257.9 374.1) rotate(-90) scale(0.976 1)" font-size="7.6" text-anchor="middle" stroke="#000" stroke-width="0.25">Relative mRNA levels</text>
<text transform="translate(267.8 374.1) rotate(-90) scale(0.994 1)" font-size="7.6" text-anchor="middle" stroke="#000" stroke-width="0.25">(Gene/GAPDH)</text>
<path d="M298.8 352.4L308.2 352.4" stroke="#222" stroke-width="1"/>
<text transform="translate(304.1 353.3) scale(0.860 1)" font-size="8.6" text-anchor="middle" font-weight="normal" fill="#111">***</text>
<path d="M329.7 350.2L339.2 350.2" stroke="#222" stroke-width="1"/>
<text transform="translate(335.05 351.1) scale(0.860 1)" font-size="8.6" text-anchor="middle" font-weight="normal" fill="#111">***</text>
<path d="M358.2 352.4L367 352.4" stroke="#222" stroke-width="1"/>
<text transform="translate(362.6 353.3) scale(0.860 1)" font-size="8.6" text-anchor="middle" font-weight="normal" fill="#111">**</text>
<path d="M389.6 349L398.6 349" stroke="#222" stroke-width="1"/>
<text transform="translate(394.1 349.9) scale(0.860 1)" font-size="8.6" text-anchor="middle" font-weight="normal" fill="#111">**</text>
<path d="M419.6 352.9L428.2 352.9" stroke="#222" stroke-width="1"/>
<text transform="translate(424.5 353.8) scale(0.860 1)" font-size="8.6" text-anchor="middle" font-weight="normal" fill="#111">***</text>
<path d="M450.1 352.4L459 352.4" stroke="#222" stroke-width="1"/>
<text transform="translate(455.15 353.3) scale(0.860 1)" font-size="8.6" text-anchor="middle" font-weight="normal" fill="#111">***</text>
<rect x="422.3" y="316.5" width="11.1" height="3.2" fill="#4A64AF"/>
<rect x="422.3" y="322.4" width="11.1" height="3.3" fill="#159C63"/>
<text transform="translate(440.2 320.1) scale(1.138 1)" font-size="6.4" font-weight="normal" fill="#444">si-NC</text>
<text transform="translate(440.2 326.2) scale(1.120 1)" font-size="6.4" font-weight="normal" fill="#444">si-FGA</text>
</g>
<g>
<text transform="translate(507.6 317.6) scale(0.905 1)" font-size="15.5">h</text>
<text transform="translate(529.6 311.2) rotate(36) scale(0.980 1)" font-size="8.2" stroke="#000" stroke-width="0.25">pcDNA3.1</text>
<text transform="translate(556.2 317.6) rotate(39) scale(0.947 1)" font-size="8.2" stroke="#000" stroke-width="0.25">FGA</text>
<text transform="translate(562.6 310.4) rotate(36) scale(0.976 1)" font-size="8.2" stroke="#000" stroke-width="0.25">pcDNA3.1-</text>
<text transform="translate(599.2 321.4) rotate(35) scale(0.978 1)" font-size="8.2" stroke="#000" stroke-width="0.25">si-NC</text>
<text transform="translate(616.4 315.4) rotate(44) scale(0.964 1)" font-size="8.2" stroke="#000" stroke-width="0.25">si-FGA</text>
<text transform="translate(510 351.9) scale(1.020 1)" font-size="10.5">GSK3&#946;</text>
<text transform="translate(512.6 380.7) scale(0.974 1)" font-size="10.5">PCNA</text>
<text transform="translate(508.2 408.8) scale(0.984 1)" font-size="10.5">GAPDH</text>
<linearGradient id="gh" x1="0" y1="0" x2="0" y2="1"><stop offset="0" stop-color="#f2f2f2"/><stop offset="0.55" stop-color="#e4e4e4"/><stop offset="1" stop-color="#bdbdbd"/></linearGradient>
<rect x="549.1" y="335.6" width="39.6" height="19" fill="url(#gh)" stroke="#444" stroke-width="0.8"/>
<rect x="552.4" y="341.8" width="11.4" height="2.8" rx="1.4" fill="#000" opacity="0.95" filter="url(#bl)"/>
<rect x="552.6" y="347.2" width="11" height="2" rx="1" fill="#000" opacity="0.6" filter="url(#bl)"/>
<rect x="569.3" y="341.6" width="12.2" height="3.2" rx="1.6" fill="#000" opacity="1" filter="url(#bl)"/>
<rect x="569.1" y="346.9" width="12.6" height="3.6" rx="1.8" fill="#000" opacity="1" filter="url(#bl)"/>
<text transform="translate(551.8 362.8) scale(1.067 1)" font-size="8.4" stroke="#000" stroke-width="0.25">1.0</text>
<text transform="translate(571.5 362.8)" font-size="8.4" stroke="#000" stroke-width="0.25">1.1*</text>
<rect x="549.1" y="365.2" width="39.6" height="19" fill="#fff" stroke="#444" stroke-width="0.8"/>
<rect x="554.05" y="372.3" width="10.5" height="1.8" rx="0.9" fill="#000" opacity="0.75" filter="url(#bl)"/>
<rect x="571.6" y="372.2" width="12.8" height="3" rx="1.5" fill="#000" opacity="1" filter="url(#bl)"/>
<text transform="translate(554.5 395.4) scale(1.029 1)" font-size="8.4" stroke="#000" stroke-width="0.25">1.0</text>
<text transform="translate(572.6 395.4) scale(1.074 1)" font-size="8.4" stroke="#000" stroke-width="0.25">1.8***</text>
<rect x="549.1" y="397.6" width="39.6" height="19.2" fill="#fff" stroke="#444" stroke-width="0.8"/>
<rect x="552.7" y="407.5" width="12.6" height="3.2" rx="1.6" fill="#000" opacity="1" filter="url(#bl)"/>
<rect x="571.3" y="407.7" width="13.4" height="3.8" rx="1.9" fill="#000" opacity="1" filter="url(#bl)"/>
<linearGradient id="gh2" x1="0" y1="0" x2="0" y2="1"><stop offset="0" stop-color="#f6f6f6"/><stop offset="0.7" stop-color="#ececec"/><stop offset="1" stop-color="#cfcfcf"/></linearGradient>
<rect x="606.1" y="335.2" width="38.7" height="19.4" fill="url(#gh2)" stroke="#444" stroke-width="0.8"/>
<rect x="612.7" y="339.6" width="9.8" height="3" rx="1.5" fill="#000" opacity="1" filter="url(#bl)"/>
<rect x="612.6" y="344.75" width="10" height="3.3" rx="1.65" fill="#000" opacity="1" filter="url(#bl)"/>
<rect x="628.8" y="340.45" width="10.4" height="2.7" rx="1.35" fill="#000" opacity="1" filter="url(#bl)"/>
<rect x="628.7" y="345.2" width="10.6" height="3" rx="1.5" fill="#000" opacity="1" filter="url(#bl)"/>
<text transform="translate(611.6 363.4) scale(1.010 1)" font-size="8.4" stroke="#000" stroke-width="0.25">1.0</text>
<text transform="translate(630 363.4) scale(1.085 1)" font-size="8.4" stroke="#000" stroke-width="0.25">0.6**</text>
<rect x="606.1" y="365.2" width="38.7" height="19.4" fill="#fff" stroke="#444" stroke-width="0.8"/>
<rect x="609" y="373.8" width="12.6" height="2.8" rx="1.4" fill="#000" opacity="1" filter="url(#bl)" transform="rotate(3 615.3 375.2)"/>
<rect x="628" y="375.6" width="12" height="1.6" rx="0.8" fill="#000" opacity="0.8" filter="url(#bl)" transform="rotate(3 634 376.4)"/>
<text transform="translate(611.6 395.4) scale(1.010 1)" font-size="8.4" stroke="#000" stroke-width="0.25">1.0</text>
<text transform="translate(630.3 395.4) scale(1.074 1)" font-size="8.4" stroke="#000" stroke-width="0.25">0.4**</text>
<rect x="606.1" y="397.6" width="38.7" height="19.4" fill="#fff" stroke="#444" stroke-width="0.8"/>
<rect x="612.6" y="405.85" width="10.4" height="2.9" rx="1.45" fill="#000" opacity="1" filter="url(#bl)" transform="rotate(-4 617.8 407.3)"/>
<rect x="613.8" y="408.35" width="8" height="2.5" rx="1.25" fill="#000" opacity="0.25" filter="url(#bl)"/>
<rect x="628.5" y="405.4" width="11.6" height="3.2" rx="1.6" fill="#000" opacity="1" filter="url(#bl)"/>
<rect x="606.3" y="406.4" width="1.2" height="3.2" rx="1.6" fill="#000" opacity="0.8" filter="url(#bl)"/>
</g>
<g>
<text transform="translate(12.8 459.5) scale(0.975 1)" font-size="15.5">i</text>
<rect x="23.8" y="463.6" width="78.5" height="75.9" fill="#fff" stroke="#777" stroke-width="0.7"/>
<path d="M23.8 463.6V539.5H102.3" fill="none" stroke="#222" stroke-width="0.8"/>
<path d="M34.8 538.9L35.3 538.65L36.3 538.08L37.3 536.62L38.3 533.37L39.3 527.23L40.3 517.54L41.3 504.91L42.3 491.93L43.3 482.5L44.3 479.96L45.3 482.15L46.3 487.14L47.3 494.17L48.3 502.28L49.3 510.5L50.3 518.04L51.3 524.38L52.3 529.32L53.3 532.92L54.3 535.36L55.3 536.92L56.3 537.85L57.3 538.37L58.3 538.65L59.3 538.9Z" fill="#93d993"/>
<path d="M37.8 538.9L38.3 538.73L39.3 538.58L40.3 538.32L41.3 537.89L42.3 537.22L43.3 536.23L44.3 534.84L45.3 532.97L46.3 530.62L47.3 527.83L48.3 524.72L49.3 521.51L50.3 518.48L51.3 515.94L52.3 514.18L53.3 513.42L54.3 513.69L55.3 514.84L56.3 516.74L57.3 519.22L58.3 522.03L59.3 524.95L60.3 527.77L61.3 530.34L62.3 532.54L63.3 534.35L64.3 535.75L65.3 536.8L66.3 537.55L67.3 538.06L68.3 538.4L69.3 538.61L70.3 538.74L71.3 538.9Z" fill="#d9d183"/>
<path d="M37.8 538.9L38.3 538.73L39.3 538.58L40.3 538.32L41.3 537.89L42.3 537.22L43.3 536.23L44.3 534.84L45.3 532.97L46.3 530.62L47.3 527.83L48.3 524.72L49.3 521.51L50.3 518.48L51.3 524.38L52.3 529.32L53.3 532.92L54.3 535.36L55.3 536.92L56.3 537.85L57.3 538.37L58.3 538.65L59.3 538.9Z" fill="#5fae35"/>
<path d="M55.8 538.9L56.3 538.68L57.3 538.14L58.3 536.9L59.3 534.76L60.3 532.25L61.3 530.57L62.3 530.77L63.3 532.73L64.3 535.25L65.3 537.22L66.3 538.3L67.3 538.73L68.3 538.9Z" fill="#6fe3d0"/>
<path d="M55.8 538.9L56.3 538.68L57.3 538.14L58.3 536.9L59.3 534.76L60.3 532.25L61.3 530.57L62.3 532.54L63.3 534.35L64.3 535.75L65.3 537.22L66.3 538.3L67.3 538.73L68.3 538.9Z" fill="#6cc9a0"/>
<path d="M35.8 538.38L36.3 538L36.8 537.38L37.3 536.41L37.8 534.98L38.3 532.91L38.8 530.07L39.3 526.31L39.8 521.57L40.3 515.86L40.8 509.3L41.3 502.15L41.8 494.83L42.3 487.82L42.8 481.66L43.3 476.88L43.8 473.87L44.3 472.75L44.8 472.59L45.3 473.09L45.8 474.21L46.3 475.86L46.8 477.93L47.3 480.31L47.8 482.89L48.3 485.56L48.8 488.23L49.3 490.82L49.8 493.27L50.3 495.55L50.8 497.64L51.3 499.55L51.8 501.29L52.3 502.89L52.8 504.41L53.3 505.87L53.8 507.3L54.3 508.7L54.8 510.1L55.3 511.5L55.8 512.9L56.3 514.3L56.8 515.64L57.3 516.88L57.8 517.96L58.3 518.82L58.8 519.42L59.3 519.79L59.8 520L60.3 520.18L60.8 520.51L61.3 521.14L61.8 522.19L62.3 523.68L62.8 525.55L63.3 527.63L63.8 529.76L64.3 531.76L64.8 533.5L65.3 534.93L65.8 536.03L66.3 536.85L66.8 537.43L67.3 537.84L67.8 538.13L68.3 538.33L68.8 538.48L69.3 538.59" fill="none" stroke="#e628e0" stroke-width="0.75"/>
<path d="M24.3 526.01L24.8 522.58L25.3 529.18L25.8 535.5L26.3 537.23L26.8 537.28L27.3 537.1L27.8 536.89L28.3 536.67L28.8 536.44L29.3 536.2L29.8 535.97L30.3 535.76L30.8 535.56L31.3 535.4L31.8 535.27L32.3 535.18L32.8 535.14L33.3 535.15L33.8 535.21L34.3 535.31L34.8 535.44L35.3 535.6L35.8 535.75L36.3 535.88L36.8 535.94L37.3 535.89L37.8 535.65L38.3 535.07L38.8 534.06L39.3 532.58L39.8 530.43L40.3 527.49L40.8 523.39L41.3 518.64L41.8 513.65L42.3 505.93L42.8 498.97L43.3 491.91L43.8 487.53L44.3 480.29L44.8 476.05L45.3 477.63L45.8 478.08L46.3 476.93L46.8 476.93L47.3 476.58L47.8 479.46L48.3 479.93L48.8 481.46L49.3 484.36L49.8 485.59L50.3 486.2L50.8 487.97L51.3 491.57L51.8 494.8L52.3 499.55L52.8 502.66L53.3 503.71L53.8 505.95L54.3 508.37L54.8 509.36L55.3 510.1L55.8 511.13L56.3 512.89L56.8 514.31L57.3 515.52L57.8 516.24L58.3 517.55L58.8 518.83L59.3 519.64L59.8 520.87L60.3 521.56L60.8 521L61.3 520.3L61.8 520.56L62.3 521.32L62.8 522.59L63.3 523.66L63.8 524.67L64.3 526.46L64.8 528.57L65.3 530.32L65.8 532.22L66.3 533.58L66.8 534.54L67.3 535.38L67.8 536L68.3 536.45L68.8 536.75L69.3 536.96L69.8 537.18L70.3 537.32L70.8 537.46L71.3 537.58L71.8 537.7L72.3 537.81L72.8 537.91L73.3 538.01L73.8 538.1L74.3 538.18L74.8 538.25L75.3 538.32L75.8 538.38L76.3 538.43L76.8 538.48L77.3 538.52L77.8 538.56L78.3 538.59L78.8 538.62L79.3 538.64L79.8 538.66L80.3 538.68L80.8 538.69L81.3 538.7L81.8 538.71L82.3 538.72L82.8 538.73L83.3 538.73L83.8 538.74L84.3 538.74L84.8 538.74L85.3 538.75L85.8 538.75L86.3 538.75L86.8 538.75L87.3 538.76L87.8 538.76L88.3 538.76L88.8 538.76L89.3 538.76L89.8 538.77L90.3 538.77L90.8 538.77L91.3 538.77L91.8 538.77L92.3 538.77L92.8 538.78L93.3 538.78L93.8 538.78L94.3 538.78L94.8 538.78L95.3 538.78L95.8 538.78L96.3 538.79L96.8 538.79L97.3 538.79L97.8 538.79L98.3 538.79L98.8 538.79L99.3 538.79L99.8 538.8L100.3 538.8L100.8 538.8L101.3 538.8L101.8 538.8" fill="none" stroke="#222" stroke-width="0.55"/>
<path d="M24.3 539L101.8 539" stroke="#35c8d8" stroke-width="0.5"/>
<path d="M22.6 466.4L23.8 466.4" stroke="#555" stroke-width="0.4"/>
<text transform="translate(21.8 467.6)" font-size="3.4" text-anchor="end" font-weight="normal" fill="#333" font-family="'Liberation Sans', sans-serif">200</text>
<path d="M22.6 484.3L23.8 484.3" stroke="#555" stroke-width="0.4"/>
<text transform="translate(21.8 485.5)" font-size="3.4" text-anchor="end" font-weight="normal" fill="#333" font-family="'Liberation Sans', sans-serif">150</text>
<path d="M22.6 502.6L23.8 502.6" stroke="#555" stroke-width="0.4"/>
<text transform="translate(21.8 503.8)" font-size="3.4" text-anchor="end" font-weight="normal" fill="#333" font-family="'Liberation Sans', sans-serif">100</text>
<path d="M22.6 520.6L23.8 520.6" stroke="#555" stroke-width="0.4"/>
<text transform="translate(21.8 521.8)" font-size="3.4" text-anchor="end" font-weight="normal" fill="#333" font-family="'Liberation Sans', sans-serif">50</text>
<path d="M22.6 538.4L23.8 538.4" stroke="#555" stroke-width="0.4"/>
<text transform="translate(21.8 539.6)" font-size="3.4" text-anchor="end" font-weight="normal" fill="#333" font-family="'Liberation Sans', sans-serif">0</text>
<path d="M24.8 539.5L24.8 540.7" stroke="#555" stroke-width="0.4"/>
<text transform="translate(24.8 546.1)" font-size="3.4" text-anchor="middle" font-weight="normal" fill="#333" font-family="'Liberation Sans', sans-serif">0</text>
<path d="M39.8 539.5L39.8 540.7" stroke="#555" stroke-width="0.4"/>
<text transform="translate(39.8 546.1)" font-size="3.4" text-anchor="middle" font-weight="normal" fill="#333" font-family="'Liberation Sans', sans-serif">200</text>
<path d="M54.8 539.5L54.8 540.7" stroke="#555" stroke-width="0.4"/>
<text transform="translate(54.8 546.1)" font-size="3.4" text-anchor="middle" font-weight="normal" fill="#333" font-family="'Liberation Sans', sans-serif">400</text>
<path d="M69.8 539.5L69.8 540.7" stroke="#555" stroke-width="0.4"/>
<text transform="translate(69.8 546.1)" font-size="3.4" text-anchor="middle" font-weight="normal" fill="#333" font-family="'Liberation Sans', sans-serif">600</text>
<path d="M84.8 539.5L84.8 540.7" stroke="#555" stroke-width="0.4"/>
<text transform="translate(84.8 546.1)" font-size="3.4" text-anchor="middle" font-weight="normal" fill="#333" font-family="'Liberation Sans', sans-serif">800</text>
<path d="M99.8 539.5L99.8 540.7" stroke="#555" stroke-width="0.4"/>
<text transform="translate(99.8 546.1)" font-size="3.4" text-anchor="middle" font-weight="normal" fill="#333" font-family="'Liberation Sans', sans-serif">1K</text>
<text transform="translate(62.55 552.7)" font-size="3" text-anchor="middle" font-weight="normal" fill="#444" font-family="'Liberation Sans', sans-serif">FL2-A</text>
<text transform="translate(8.4 501.55) rotate(-90)" font-size="3" text-anchor="middle" font-weight="normal" fill="#444" font-family="'Liberation Sans', sans-serif">Count</text>
<text transform="translate(59.6 567.8) scale(1.058 1)" font-size="12.5" text-anchor="middle">pcDNA3.1</text>
<rect x="129.2" y="463" width="78.4" height="75.7" fill="#fff" stroke="#777" stroke-width="0.7"/>
<path d="M129.2 463V538.7H207.6" fill="none" stroke="#222" stroke-width="0.8"/>
<path d="M142.2 538.1L142.7 537.66L143.7 536.86L144.7 535.02L145.7 531.33L146.7 524.96L147.7 515.53L148.7 503.81L149.7 492.04L150.7 483.39L151.7 480.61L152.7 482.22L153.7 486.29L154.7 492.28L155.7 499.45L156.7 507L157.7 514.23L158.7 520.63L159.7 525.9L160.7 529.97L161.7 532.94L162.7 534.97L163.7 536.29L164.7 537.1L165.7 537.58L166.7 537.84L167.7 538.1Z" fill="#93d993"/>
<path d="M145.2 538.1L145.7 537.87L146.7 537.7L147.7 537.41L148.7 536.98L149.7 536.33L150.7 535.42L151.7 534.17L152.7 532.56L153.7 530.57L154.7 528.23L155.7 525.65L156.7 522.95L157.7 520.34L158.7 518.03L159.7 516.25L160.7 515.17L161.7 514.91L162.7 515.4L163.7 516.55L164.7 518.26L165.7 520.38L166.7 522.75L167.7 525.21L168.7 527.59L169.7 529.8L170.7 531.74L171.7 533.37L172.7 534.69L173.7 535.71L174.7 536.48L175.7 537.04L176.7 537.42L177.7 537.68L178.7 537.85L179.7 538.1Z" fill="#d9d183"/>
<path d="M145.2 538.1L145.7 537.87L146.7 537.7L147.7 537.41L148.7 536.98L149.7 536.33L150.7 535.42L151.7 534.17L152.7 532.56L153.7 530.57L154.7 528.23L155.7 525.65L156.7 522.95L157.7 520.34L158.7 520.63L159.7 525.9L160.7 529.97L161.7 532.94L162.7 534.97L163.7 536.29L164.7 537.1L165.7 537.58L166.7 537.84L167.7 538.1Z" fill="#5fae35"/>
<path d="M165.2 538.1L165.7 537.9L166.7 537.47L167.7 536.49L168.7 534.78L169.7 532.54L170.7 530.52L171.7 529.7L172.7 530.52L173.7 532.54L174.7 534.78L175.7 536.49L176.7 537.47L177.7 537.9L178.7 538.1Z" fill="#6fe3d0"/>
<path d="M165.2 538.1L165.7 537.9L166.7 537.47L167.7 536.49L168.7 534.78L169.7 532.54L170.7 531.74L171.7 533.37L172.7 534.69L173.7 535.71L174.7 536.48L175.7 537.04L176.7 537.47L177.7 537.9L178.7 538.1Z" fill="#6cc9a0"/>
<path d="M142.7 537.61L143.2 537.27L143.7 536.74L144.2 535.94L144.7 534.77L145.2 533.1L145.7 530.82L146.2 527.82L146.7 524.01L147.2 519.36L147.7 513.91L148.2 507.8L148.7 501.27L149.2 494.66L149.7 488.36L150.2 482.81L150.7 478.41L151.2 475.49L151.7 474.23L152.2 473.93L152.7 474.22L153.2 475.06L153.7 476.38L154.2 478.12L154.7 480.19L155.2 482.49L155.7 484.95L156.2 487.48L156.7 490L157.2 492.46L157.7 494.8L158.2 497.01L158.7 499.06L159.2 500.95L159.7 502.69L160.2 504.3L160.7 505.81L161.2 507.24L161.7 508.62L162.2 509.95L162.7 511.24L163.2 512.52L163.7 513.8L164.2 515.09L164.7 516.38L165.2 517.66L165.7 518.92L166.2 520.11L166.7 521.21L167.2 522.15L167.7 522.89L168.2 523.4L168.7 523.67L169.2 523.73L169.7 523.66L170.2 523.57L170.7 523.59L171.2 523.85L171.7 524.44L172.2 525.39L172.7 526.67L173.2 528.2L173.7 529.84L174.2 531.47L174.7 532.97L175.2 534.27L175.7 535.32L176.2 536.13L176.7 536.73L177.2 537.16L177.7 537.45L178.2 537.65L178.7 537.78" fill="none" stroke="#e628e0" stroke-width="0.75"/>
<path d="M129.7 527.58L130.2 524.82L130.7 530.14L131.2 535.25L131.7 536.65L132.2 536.69L132.7 536.55L133.2 536.39L133.7 536.21L134.2 536.02L134.7 535.83L135.2 535.65L135.7 535.47L136.2 535.31L136.7 535.17L137.2 535.06L137.7 534.99L138.2 534.95L138.7 534.95L139.2 534.99L139.7 535.07L140.2 535.19L140.7 535.33L141.2 535.49L141.7 535.66L142.2 535.82L142.7 535.97L143.2 536.06L143.7 536.09L144.2 536.01L144.7 535.74L145.2 535.25L145.7 534.36L146.2 532.83L146.7 530.85L147.2 528.53L147.7 524.79L148.2 520.33L148.7 515.17L149.2 508.96L149.7 502.67L150.2 496.13L150.7 491.4L151.2 484.45L151.7 479L152.2 478.93L152.7 476.55L153.2 475.79L153.7 476.92L154.2 477.77L154.7 479.04L155.2 478.41L155.7 480.47L156.2 480.75L156.7 483.36L157.2 483.44L157.7 484.39L158.2 487.72L158.7 490.7L159.2 492.8L159.7 496.02L160.2 499.68L160.7 503.36L161.2 505.85L161.7 506.9L162.2 509.28L162.7 509.47L163.2 511.46L163.7 511.77L164.2 513.64L164.7 514L165.2 515.21L165.7 516.76L166.2 518.13L166.7 519.21L167.2 520.36L167.7 521.77L168.2 522.98L168.7 523.49L169.2 523.41L169.7 523.67L170.2 524.31L170.7 523.76L171.2 523.44L171.7 523.06L172.2 523.78L172.7 523.97L173.2 525.27L173.7 526.09L174.2 527.58L174.7 529.12L175.2 530.27L175.7 531.85L176.2 532.99L176.7 533.88L177.2 534.74L177.7 535.36L178.2 535.74L178.7 536.07L179.2 536.29L179.7 536.49L180.2 536.63L180.7 536.75L181.2 536.85L181.7 536.96L182.2 537.05L182.7 537.14L183.2 537.23L183.7 537.31L184.2 537.39L184.7 537.46L185.2 537.53L185.7 537.59L186.2 537.64L186.7 537.69L187.2 537.74L187.7 537.77L188.2 537.81L188.7 537.83L189.2 537.86L189.7 537.88L190.2 537.89L190.7 537.91L191.2 537.92L191.7 537.93L192.2 537.94L192.7 537.94L193.2 537.95L193.7 537.95L194.2 537.96L194.7 537.96L195.2 537.96L195.7 537.97L196.2 537.97L196.7 537.97L197.2 537.97L197.7 537.97L198.2 537.98L198.7 537.98L199.2 537.98L199.7 537.98L200.2 537.98L200.7 537.98L201.2 537.98L201.7 537.99L202.2 537.99L202.7 537.99L203.2 537.99L203.7 537.99L204.2 537.99L204.7 537.99L205.2 538L205.7 538L206.2 538L206.7 538" fill="none" stroke="#222" stroke-width="0.55"/>
<path d="M129.7 538.2L207.1 538.2" stroke="#35c8d8" stroke-width="0.5"/>
<path d="M128 478.4L129.2 478.4" stroke="#555" stroke-width="0.4"/>
<text transform="translate(127.2 479.6)" font-size="3.4" text-anchor="end" font-weight="normal" fill="#333" font-family="'Liberation Sans', sans-serif">150</text>
<path d="M128 498.3L129.2 498.3" stroke="#555" stroke-width="0.4"/>
<text transform="translate(127.2 499.5)" font-size="3.4" text-anchor="end" font-weight="normal" fill="#333" font-family="'Liberation Sans', sans-serif">100</text>
<path d="M128 518.4L129.2 518.4" stroke="#555" stroke-width="0.4"/>
<text transform="translate(127.2 519.6)" font-size="3.4" text-anchor="end" font-weight="normal" fill="#333" font-family="'Liberation Sans', sans-serif">50</text>
<path d="M128 537.8L129.2 537.8" stroke="#555" stroke-width="0.4"/>
<text transform="translate(127.2 539)" font-size="3.4" text-anchor="end" font-weight="normal" fill="#333" font-family="'Liberation Sans', sans-serif">0</text>
<path d="M130.2 538.7L130.2 539.9" stroke="#555" stroke-width="0.4"/>
<text transform="translate(130.2 545.3)" font-size="3.4" text-anchor="middle" font-weight="normal" fill="#333" font-family="'Liberation Sans', sans-serif">0</text>
<path d="M145.2 538.7L145.2 539.9" stroke="#555" stroke-width="0.4"/>
<text transform="translate(145.2 545.3)" font-size="3.4" text-anchor="middle" font-weight="normal" fill="#333" font-family="'Liberation Sans', sans-serif">200</text>
<path d="M160.2 538.7L160.2 539.9" stroke="#555" stroke-width="0.4"/>
<text transform="translate(160.2 545.3)" font-size="3.4" text-anchor="middle" font-weight="normal" fill="#333" font-family="'Liberation Sans', sans-serif">400</text>
<path d="M175.2 538.7L175.2 539.9" stroke="#555" stroke-width="0.4"/>
<text transform="translate(175.2 545.3)" font-size="3.4" text-anchor="middle" font-weight="normal" fill="#333" font-family="'Liberation Sans', sans-serif">600</text>
<path d="M190.2 538.7L190.2 539.9" stroke="#555" stroke-width="0.4"/>
<text transform="translate(190.2 545.3)" font-size="3.4" text-anchor="middle" font-weight="normal" fill="#333" font-family="'Liberation Sans', sans-serif">800</text>
<path d="M205.2 538.7L205.2 539.9" stroke="#555" stroke-width="0.4"/>
<text transform="translate(205.2 545.3)" font-size="3.4" text-anchor="middle" font-weight="normal" fill="#333" font-family="'Liberation Sans', sans-serif">1K</text>
<text transform="translate(167.9 551.9)" font-size="3" text-anchor="middle" font-weight="normal" fill="#444" font-family="'Liberation Sans', sans-serif">FL2-A</text>
<text transform="translate(113.8 500.85) rotate(-90)" font-size="3" text-anchor="middle" font-weight="normal" fill="#444" font-family="'Liberation Sans', sans-serif">Count</text>
<text transform="translate(168.8 568) scale(1.073 1)" font-size="12.5" text-anchor="middle">pcDNA3.1-FGA</text>
<rect x="238.5" y="478.9" width="8.1" height="72.2" fill="#E9573D"/>
<path d="M242.55 478.9V478.5M240.3 478.5H244.8" stroke="#E9573D" stroke-width="0.7" fill="none"/>
<rect x="250.9" y="476.2" width="8.1" height="74.9" fill="#FDB562"/>
<path d="M254.95 476.2V474.7M252.7 474.7H257.2" stroke="#FDB562" stroke-width="0.7" fill="none"/>
<rect x="271.6" y="498" width="8.1" height="53.1" fill="#E9573D"/>
<path d="M275.65 498V497.7M273.4 497.7H277.9" stroke="#E9573D" stroke-width="0.7" fill="none"/>
<rect x="283.7" y="499.8" width="8.1" height="51.3" fill="#FDB562"/>
<path d="M287.75 499.8V499.3M285.5 499.3H290" stroke="#FDB562" stroke-width="0.7" fill="none"/>
<rect x="304" y="543.9" width="8.4" height="7.2" fill="#E9573D"/>
<path d="M308.2 543.9V543.2M305.95 543.2H310.45" stroke="#E9573D" stroke-width="0.7" fill="none"/>
<rect x="316.6" y="544.8" width="8.4" height="6.3" fill="#FDB562"/>
<path d="M320.8 544.8V544.4M318.55 544.4H323.05" stroke="#FDB562" stroke-width="0.7" fill="none"/>
<path d="M234.4 466.6L234.4 551.7" stroke="#222" stroke-width="1.15"/>
<path d="M231.7 551.1L234.4 551.1" stroke="#222" stroke-width="1.15"/>
<text transform="translate(231.4 553.4) scale(0.868 1)" font-size="6.8" text-anchor="end" stroke="#000" stroke-width="0.25">0</text>
<path d="M231.7 523.13L234.4 523.13" stroke="#222" stroke-width="1.15"/>
<text transform="translate(231.4 525.43) scale(0.868 1)" font-size="6.8" text-anchor="end" stroke="#000" stroke-width="0.25">20</text>
<path d="M231.7 495.17L234.4 495.17" stroke="#222" stroke-width="1.15"/>
<text transform="translate(231.4 497.47) scale(0.868 1)" font-size="6.8" text-anchor="end" stroke="#000" stroke-width="0.25">40</text>
<path d="M231.7 467.2L234.4 467.2" stroke="#222" stroke-width="1.15"/>
<text transform="translate(231.4 469.5) scale(0.868 1)" font-size="6.8" text-anchor="end" stroke="#000" stroke-width="0.25">60</text>
<path d="M233.8 551.1L329.5 551.1" stroke="#222" stroke-width="1.15"/>
<path d="M248.4 551.1L248.4 554.3" stroke="#222" stroke-width="1.15"/>
<text transform="translate(248.4 561.5) scale(0.893 1)" font-size="6.8" text-anchor="middle" stroke="#000" stroke-width="0.25">G0/G1</text>
<path d="M281.6 551.1L281.6 554.3" stroke="#222" stroke-width="1.15"/>
<text transform="translate(281.6 561.5) scale(0.767 1)" font-size="6.8" text-anchor="middle" stroke="#000" stroke-width="0.25">S</text>
<path d="M314.6 551.1L314.6 554.3" stroke="#222" stroke-width="1.15"/>
<text transform="translate(314.6 561.5) scale(0.965 1)" font-size="6.8" text-anchor="middle" stroke="#000" stroke-width="0.25">G2/M</text>
<text transform="translate(220.6 508.4) rotate(-90) scale(1.017 1)" font-size="6.8" text-anchor="middle" stroke="#000" stroke-width="0.25">Cell Ratio (%)</text>
<path d="M242.9 470.8L255 470.8" stroke="#333" stroke-width="1.1"/>
<text transform="translate(248.95 471.8) scale(0.850 1)" font-size="8" text-anchor="middle" font-weight="normal" fill="#222">*</text>
<path d="M275.3 492.3L287.7 492.3" stroke="#222" stroke-width="1.1"/>
<text transform="translate(281.5 493.3) scale(0.850 1)" font-size="8" text-anchor="middle" font-weight="normal" fill="#222">**</text>
<path d="M308.3 538.6L320.9 538.6" stroke="#555" stroke-width="1.1"/>
<text transform="translate(314.6 536.4) scale(1.050 1)" font-size="6" text-anchor="middle" font-weight="normal" fill="#555">ns</text>
<rect x="278.7" y="469.9" width="7.4" height="3" fill="#E9573D"/>
<rect x="278.7" y="476" width="7.4" height="2.9" fill="#FDB562"/>
<text transform="translate(290.9 473.3) scale(0.803 1)" font-size="5.8" font-weight="normal" fill="#222">pcDNA3.1</text>
<text transform="translate(290.9 479.2) scale(0.855 1)" font-size="5.8" font-weight="normal" fill="#222">pcDNA3.1-FGA</text>
</g>
<g>
<text transform="translate(337 459.6) scale(0.891 1)" font-size="15.5">j</text>
<rect x="348.5" y="464" width="83.4" height="78" fill="#fff" stroke="#777" stroke-width="0.7"/>
<path d="M348.5 464V542H431.9" fill="none" stroke="#222" stroke-width="0.8"/>
<path d="M365.5 541.4L366 541.22L367 540.38L368 537.02L369 527.65L370 509.71L371 487.78L372 474.81L373 476.9L374 486.14L375 499.36L376 513.01L377 524.37L378 532.33L379 537.11L380 539.6L381 540.73L382 541.18L383 541.4Z" fill="#93d993"/>
<path d="M366.5 541.4L367 541.21L368 541.04L369 540.76L370 540.3L371 539.59L372 538.55L373 537.09L374 535.17L375 532.77L376 529.95L377 526.87L378 523.73L379 520.84L380 518.48L381 516.94L382 516.4L383 516.84L384 518.13L385 520.13L386 522.64L387 525.43L388 528.29L389 531.02L390 533.47L391 535.55L392 537.24L393 538.55L394 539.51L395 540.19L396 540.66L397 540.96L398 541.15L399 541.4Z" fill="#d9d183"/>
<path d="M366.5 541.4L367 541.21L368 541.04L369 540.76L370 540.3L371 539.59L372 538.55L373 537.09L374 535.17L375 532.77L376 529.95L377 526.87L378 532.33L379 537.11L380 539.6L381 540.73L382 541.18L383 541.4Z" fill="#5fae35"/>
<path d="M382.5 541.4L383 541.17L384 540.87L385 540.31L386 539.34L387 537.86L388 535.85L389 533.46L390 531.04L391 529.06L392 528L393 528.12L394 529.4L395 531.5L396 533.95L397 536.29L398 538.2L399 539.57L400 540.45L401 540.95L402 541.2L403 541.4Z" fill="#6fe3d0"/>
<path d="M382.5 541.4L383 541.17L384 540.87L385 540.31L386 539.34L387 537.86L388 535.85L389 533.46L390 533.47L391 535.55L392 537.24L393 538.55L394 539.51L395 540.19L396 540.66L397 540.96L398 541.15L399 541.4Z" fill="#6cc9a0"/>
<path d="M366.5 540.81L367 540.15L367.5 538.87L368 536.53L368.5 532.6L369 526.58L369.5 518.18L370 507.62L370.5 495.8L371 484.3L371.5 475.07L372 469.88L372.5 469.13L373 470.53L373.5 473.62L374 478.06L374.5 483.42L375 489.21L375.5 494.99L376 500.36L376.5 505.06L377 508.89L377.5 511.82L378 513.86L378.5 515.14L379 515.8L379.5 516.01L380 515.93L380.5 515.71L381 515.48L381.5 515.33L382 515.32L382.5 515.48L383 515.8L383.5 516.27L384 516.87L384.5 517.58L385 518.36L385.5 519.16L386 519.95L386.5 520.68L387 521.31L387.5 521.81L388 522.18L388.5 522.41L389 522.53L389.5 522.56L390 522.56L390.5 522.57L391 522.67L391.5 522.9L392 523.31L392.5 523.94L393 524.78L393.5 525.84L394 527.09L394.5 528.48L395 529.96L395.5 531.48L396 532.97L396.5 534.38L397 535.68L397.5 536.84L398 537.84L398.5 538.69L399 539.37L399.5 539.92L400 540.34L400.5 540.66L401 540.89L401.5 541.06" fill="none" stroke="#e628e0" stroke-width="0.75"/>
<path d="M349 520.68L349.5 515.05L350 526.25L350.5 537.03L351 540.11L351.5 540.4L352 540.32L352.5 540.2L353 540.05L353.5 539.87L354 539.67L354.5 539.43L355 539.17L355.5 538.89L356 538.59L356.5 538.28L357 537.97L357.5 537.67L358 537.39L358.5 537.15L359 536.95L359.5 536.8L360 536.71L360.5 536.68L361 536.72L361.5 536.82L362 536.98L362.5 537.2L363 537.45L363.5 537.74L364 538.05L364.5 538.37L365 538.68L365.5 538.98L366 539.26L366.5 539.47L367 539.6L367.5 539.57L368 539.26L368.5 538.41L369 536.44L369.5 533.23L370 527.94L370.5 520.88L371 511.32L371.5 500.71L372 490.22L372.5 480.27L373 473.98L373.5 470.51L374 471.45L374.5 472.78L375 476.4L375.5 480.44L376 486.47L376.5 493.6L377 496.57L377.5 499.13L378 501.69L378.5 504.79L379 507.08L379.5 510.26L380 511.59L380.5 513.34L381 515.14L381.5 516.66L382 515.97L382.5 515.23L383 516.59L383.5 516.12L384 516.79L384.5 517.92L385 518.59L385.5 518.45L386 518.54L386.5 520.34L387 520.73L387.5 522.11L388 522.06L388.5 522.75L389 522.41L389.5 522.08L390 522.52L390.5 522.03L391 522.66L391.5 523.35L392 523.06L392.5 523.8L393 524.21L393.5 524.46L394 524.74L394.5 525.95L395 527.3L395.5 527.8L396 529.26L396.5 530.19L397 531.43L397.5 533.02L398 534.34L398.5 535.47L399 536.43L399.5 537.29L400 538.01L400.5 538.6L401 539.05L401.5 539.45L402 539.77L402.5 540.01L403 540.21L403.5 540.37L404 540.49L404.5 540.6L405 540.69L405.5 540.77L406 540.84L406.5 540.91L407 540.96L407.5 541.01L408 541.05L408.5 541.09L409 541.12L409.5 541.15L410 541.17L410.5 541.19L411 541.2L411.5 541.22L412 541.23L412.5 541.24L413 541.24L413.5 541.25L414 541.25L414.5 541.26L415 541.26L415.5 541.27L416 541.27L416.5 541.27L417 541.27L417.5 541.27L418 541.28L418.5 541.28L419 541.28L419.5 541.28L420 541.28L420.5 541.28L421 541.29L421.5 541.29L422 541.29L422.5 541.29L423 541.29L423.5 541.29L424 541.29L424.5 541.3L425 541.3L425.5 541.3L426 541.3L426.5 541.3L427 541.3L427.5 541.3L428 541.3L428.5 541.31L429 541.31L429.5 541.31L430 541.31L430.5 541.31L431 541.31" fill="none" stroke="#222" stroke-width="0.55"/>
<path d="M349 541.5L431.4 541.5" stroke="#35c8d8" stroke-width="0.5"/>
<path d="M347.3 475.5L348.5 475.5" stroke="#555" stroke-width="0.4"/>
<text transform="translate(346.5 476.7)" font-size="3.4" text-anchor="end" font-weight="normal" fill="#333" font-family="'Liberation Sans', sans-serif">200</text>
<path d="M347.3 492.1L348.5 492.1" stroke="#555" stroke-width="0.4"/>
<text transform="translate(346.5 493.3)" font-size="3.4" text-anchor="end" font-weight="normal" fill="#333" font-family="'Liberation Sans', sans-serif">150</text>
<path d="M347.3 508.6L348.5 508.6" stroke="#555" stroke-width="0.4"/>
<text transform="translate(346.5 509.8)" font-size="3.4" text-anchor="end" font-weight="normal" fill="#333" font-family="'Liberation Sans', sans-serif">100</text>
<path d="M347.3 525.3L348.5 525.3" stroke="#555" stroke-width="0.4"/>
<text transform="translate(346.5 526.5)" font-size="3.4" text-anchor="end" font-weight="normal" fill="#333" font-family="'Liberation Sans', sans-serif">50</text>
<path d="M347.3 541L348.5 541" stroke="#555" stroke-width="0.4"/>
<text transform="translate(346.5 542.2)" font-size="3.4" text-anchor="end" font-weight="normal" fill="#333" font-family="'Liberation Sans', sans-serif">0</text>
<path d="M349.5 542L349.5 543.2" stroke="#555" stroke-width="0.4"/>
<text transform="translate(349.5 548.6)" font-size="3.4" text-anchor="middle" font-weight="normal" fill="#333" font-family="'Liberation Sans', sans-serif">0</text>
<path d="M365.4 542L365.4 543.2" stroke="#555" stroke-width="0.4"/>
<text transform="translate(365.4 548.6)" font-size="3.4" text-anchor="middle" font-weight="normal" fill="#333" font-family="'Liberation Sans', sans-serif">200</text>
<path d="M381.3 542L381.3 543.2" stroke="#555" stroke-width="0.4"/>
<text transform="translate(381.3 548.6)" font-size="3.4" text-anchor="middle" font-weight="normal" fill="#333" font-family="'Liberation Sans', sans-serif">400</text>
<path d="M397.2 542L397.2 543.2" stroke="#555" stroke-width="0.4"/>
<text transform="translate(397.2 548.6)" font-size="3.4" text-anchor="middle" font-weight="normal" fill="#333" font-family="'Liberation Sans', sans-serif">600</text>
<path d="M413.1 542L413.1 543.2" stroke="#555" stroke-width="0.4"/>
<text transform="translate(413.1 548.6)" font-size="3.4" text-anchor="middle" font-weight="normal" fill="#333" font-family="'Liberation Sans', sans-serif">800</text>
<path d="M429 542L429 543.2" stroke="#555" stroke-width="0.4"/>
<text transform="translate(429 548.6)" font-size="3.4" text-anchor="middle" font-weight="normal" fill="#333" font-family="'Liberation Sans', sans-serif">1K</text>
<text transform="translate(389.7 555.2)" font-size="3" text-anchor="middle" font-weight="normal" fill="#444" font-family="'Liberation Sans', sans-serif">FL2-A</text>
<text transform="translate(333.1 503) rotate(-90)" font-size="3" text-anchor="middle" font-weight="normal" fill="#444" font-family="'Liberation Sans', sans-serif">Count</text>
<text transform="translate(392.8 569.6) scale(1.026 1)" font-size="13" text-anchor="middle">si-NC</text>
<rect x="456.2" y="464" width="82.8" height="77.6" fill="#fff" stroke="#777" stroke-width="0.7"/>
<path d="M456.2 464V541.6H539" fill="none" stroke="#222" stroke-width="0.8"/>
<path d="M468.2 541L468.7 540.82L469.7 540.53L470.7 539.88L471.7 538.53L472.7 536.01L473.7 531.7L474.7 525.05L475.7 515.83L476.7 504.44L477.7 492.12L478.7 480.85L479.7 472.88L480.7 470L481.7 471.12L482.7 474.39L483.7 479.49L484.7 485.99L485.7 493.34L486.7 501.01L487.7 508.49L488.7 515.41L489.7 521.48L490.7 526.58L491.7 530.69L492.7 533.85L493.7 536.2L494.7 537.88L495.7 539.04L496.7 539.8L497.7 540.29L498.7 540.59L499.7 540.78L500.7 541Z" fill="#93d993"/>
<path d="M478.2 541L478.7 540.81L479.7 540.66L480.7 540.41L481.7 540.01L482.7 539.4L483.7 538.51L484.7 537.28L485.7 535.63L486.7 533.54L487.7 531.01L488.7 528.11L489.7 524.96L490.7 521.78L491.7 518.79L492.7 516.28L493.7 514.48L494.7 513.58L495.7 513.65L496.7 514.56L497.7 516.2L498.7 518.44L499.7 521.1L500.7 523.97L501.7 526.87L502.7 529.62L503.7 532.12L504.7 534.28L505.7 536.06L506.7 537.48L507.7 538.57L508.7 539.37L509.7 539.94L510.7 540.33L511.7 540.59L512.7 540.76L513.7 541Z" fill="#d9d183"/>
<path d="M478.2 541L478.7 540.81L479.7 540.66L480.7 540.41L481.7 540.01L482.7 539.4L483.7 538.51L484.7 537.28L485.7 535.63L486.7 533.54L487.7 531.01L488.7 528.11L489.7 524.96L490.7 526.58L491.7 530.69L492.7 533.85L493.7 536.2L494.7 537.88L495.7 539.04L496.7 539.8L497.7 540.29L498.7 540.59L499.7 540.78L500.7 541Z" fill="#5fae35"/>
<path d="M498.2 541L498.7 540.72L499.7 540.29L500.7 539.43L501.7 537.94L502.7 535.78L503.7 533.15L504.7 530.6L505.7 528.88L506.7 528.57L507.7 529.78L508.7 532.08L509.7 534.76L510.7 537.16L511.7 538.92L512.7 540.01L513.7 540.58L514.7 540.85L515.7 541Z" fill="#6fe3d0"/>
<path d="M498.2 541L498.7 540.72L499.7 540.29L500.7 539.43L501.7 537.94L502.7 535.78L503.7 533.15L504.7 534.28L505.7 536.06L506.7 537.48L507.7 538.57L508.7 539.37L509.7 539.94L510.7 540.33L511.7 540.59L512.7 540.76L513.7 541Z" fill="#6cc9a0"/>
<path d="M469.2 540.68L469.7 540.49L470.2 540.21L470.7 539.79L471.2 539.18L471.7 538.33L472.2 537.17L472.7 535.6L473.2 533.56L473.7 530.95L474.2 527.7L474.7 523.76L475.2 519.11L475.7 513.79L476.2 507.85L476.7 501.45L477.2 494.79L477.7 488.1L478.2 481.68L478.7 475.84L479.2 470.88L479.7 467.07L480.2 464.62L480.7 463.7L481.2 463.79L481.7 464.46L482.2 465.65L482.7 467.33L483.2 469.43L483.7 471.88L484.2 474.62L484.7 477.57L485.2 480.63L485.7 483.73L486.2 486.8L486.7 489.75L487.2 492.54L487.7 495.1L488.2 497.41L488.7 499.43L489.2 501.16L489.7 502.6L490.2 503.76L490.7 504.67L491.2 505.36L491.7 505.88L492.2 506.27L492.7 506.58L493.2 506.87L493.7 507.18L494.2 507.55L494.7 508.02L495.2 508.62L495.7 509.33L496.2 510.16L496.7 511.11L497.2 512.18L497.7 513.34L498.2 514.59L498.7 515.89L499.2 517.21L499.7 518.49L500.2 519.7L500.7 520.78L501.2 521.68L501.7 522.37L502.2 522.82L502.7 523.04L503.2 523.05L503.7 522.91L504.2 522.7L504.7 522.5L505.2 522.43L505.7 522.58L506.2 523.01L506.7 523.78L507.2 524.87L507.7 526.25L508.2 527.86L508.7 529.61L509.2 531.39L509.7 533.12L510.2 534.71L510.7 536.13L511.2 537.33L511.7 538.31L512.2 539.08L512.7 539.66L513.2 540.09L513.7 540.4L514.2 540.61" fill="none" stroke="#e628e0" stroke-width="0.75"/>
<path d="M456.7 514.78L457.2 507.59L457.7 521.76L458.2 535.38L458.7 539.22L459.2 539.49L459.7 539.29L460.2 539.02L460.7 538.71L461.2 538.35L461.7 537.95L462.2 537.51L462.7 537.05L463.2 536.57L463.7 536.08L464.2 535.61L464.7 535.17L465.2 534.78L465.7 534.45L466.2 534.19L466.7 534.03L467.2 533.96L467.7 533.99L468.2 534.11L468.7 534.32L469.2 534.59L469.7 534.91L470.2 535.24L470.7 535.56L471.2 535.84L471.7 535.99L472.2 536.02L472.7 535.68L473.2 535.03L473.7 534.09L474.2 532.81L474.7 530.6L475.2 528.04L475.7 524.46L476.2 520.22L476.7 515.94L477.2 511.23L477.7 505.48L478.2 499.97L478.7 495.31L479.2 489.96L479.7 482.64L480.2 480.43L480.7 478.45L481.2 473.94L481.7 473.41L482.2 472.32L482.7 472.48L483.2 473.86L483.7 471.82L484.2 475.49L484.7 477.07L485.2 479.46L485.7 479.3L486.2 481.44L486.7 483.27L487.2 484.12L487.7 487.95L488.2 491.09L488.7 493.43L489.2 498.76L489.7 502.87L490.2 505.39L490.7 505.77L491.2 506.71L491.7 508.45L492.2 509.35L492.7 510.36L493.2 510.32L493.7 511.4L494.2 510.51L494.7 509.62L495.2 509.12L495.7 509.57L496.2 509.61L496.7 512.13L497.2 513.34L497.7 512.97L498.2 513.64L498.7 515.27L499.2 515.7L499.7 517.09L500.2 518.08L500.7 520.01L501.2 521.67L501.7 522.58L502.2 523.8L502.7 524.3L503.2 523.88L503.7 524.42L504.2 525.03L504.7 525.2L505.2 525L505.7 523.97L506.2 523.9L506.7 524.06L507.2 524.65L507.7 524.27L508.2 525.27L508.7 526.71L509.2 528.34L509.7 529.92L510.2 531.37L510.7 532.49L511.2 533.99L511.7 535.31L512.2 536.27L512.7 537.17L513.2 537.77L513.7 538.41L514.2 538.84L514.7 539.16L515.2 539.43L515.7 539.62L516.2 539.79L516.7 539.92L517.2 540.03L517.7 540.13L518.2 540.22L518.7 540.3L519.2 540.37L519.7 540.44L520.2 540.5L520.7 540.55L521.2 540.61L521.7 540.65L522.2 540.69L522.7 540.72L523.2 540.75L523.7 540.78L524.2 540.8L524.7 540.82L525.2 540.83L525.7 540.84L526.2 540.85L526.7 540.86L527.2 540.87L527.7 540.87L528.2 540.88L528.7 540.88L529.2 540.88L529.7 540.89L530.2 540.89L530.7 540.89L531.2 540.89L531.7 540.89L532.2 540.89L532.7 540.9L533.2 540.9L533.7 540.9L534.2 540.9L534.7 540.9L535.2 540.9L535.7 540.9L536.2 540.91L536.7 540.91L537.2 540.91L537.7 540.91L538.2 540.91" fill="none" stroke="#222" stroke-width="0.55"/>
<path d="M456.7 541.1L538.5 541.1" stroke="#35c8d8" stroke-width="0.5"/>
<path d="M455 470.6L456.2 470.6" stroke="#555" stroke-width="0.4"/>
<text transform="translate(454.2 471.8)" font-size="3.4" text-anchor="end" font-weight="normal" fill="#333" font-family="'Liberation Sans', sans-serif">150</text>
<path d="M455 494.4L456.2 494.4" stroke="#555" stroke-width="0.4"/>
<text transform="translate(454.2 495.6)" font-size="3.4" text-anchor="end" font-weight="normal" fill="#333" font-family="'Liberation Sans', sans-serif">100</text>
<path d="M455 518.3L456.2 518.3" stroke="#555" stroke-width="0.4"/>
<text transform="translate(454.2 519.5)" font-size="3.4" text-anchor="end" font-weight="normal" fill="#333" font-family="'Liberation Sans', sans-serif">50</text>
<path d="M455 540.8L456.2 540.8" stroke="#555" stroke-width="0.4"/>
<text transform="translate(454.2 542)" font-size="3.4" text-anchor="end" font-weight="normal" fill="#333" font-family="'Liberation Sans', sans-serif">0</text>
<path d="M457.2 541.6L457.2 542.8" stroke="#555" stroke-width="0.4"/>
<text transform="translate(457.2 548.2)" font-size="3.4" text-anchor="middle" font-weight="normal" fill="#333" font-family="'Liberation Sans', sans-serif">0</text>
<path d="M473.1 541.6L473.1 542.8" stroke="#555" stroke-width="0.4"/>
<text transform="translate(473.1 548.2)" font-size="3.4" text-anchor="middle" font-weight="normal" fill="#333" font-family="'Liberation Sans', sans-serif">200</text>
<path d="M489 541.6L489 542.8" stroke="#555" stroke-width="0.4"/>
<text transform="translate(489 548.2)" font-size="3.4" text-anchor="middle" font-weight="normal" fill="#333" font-family="'Liberation Sans', sans-serif">400</text>
<path d="M504.9 541.6L504.9 542.8" stroke="#555" stroke-width="0.4"/>
<text transform="translate(504.9 548.2)" font-size="3.4" text-anchor="middle" font-weight="normal" fill="#333" font-family="'Liberation Sans', sans-serif">600</text>
<path d="M520.8 541.6L520.8 542.8" stroke="#555" stroke-width="0.4"/>
<text transform="translate(520.8 548.2)" font-size="3.4" text-anchor="middle" font-weight="normal" fill="#333" font-family="'Liberation Sans', sans-serif">800</text>
<path d="M536.7 541.6L536.7 542.8" stroke="#555" stroke-width="0.4"/>
<text transform="translate(536.7 548.2)" font-size="3.4" text-anchor="middle" font-weight="normal" fill="#333" font-family="'Liberation Sans', sans-serif">1K</text>
<text transform="translate(497.1 554.8)" font-size="3" text-anchor="middle" font-weight="normal" fill="#444" font-family="'Liberation Sans', sans-serif">FL2-A</text>
<text transform="translate(440.8 502.8) rotate(-90)" font-size="3" text-anchor="middle" font-weight="normal" fill="#444" font-family="'Liberation Sans', sans-serif">Count</text>
<text transform="translate(500 569.8) scale(1.026 1)" font-size="13" text-anchor="middle">si-FGA</text>
<rect x="569.6" y="495.9" width="9" height="58.1" fill="#4A64AF"/>
<path d="M574.1 495.9V494.1M571.85 494.1H576.35" stroke="#4A64AF" stroke-width="0.7" fill="none"/>
<rect x="583.1" y="481" width="8.9" height="73" fill="#159C63"/>
<path d="M587.55 481V479.8M585.3 479.8H589.8" stroke="#159C63" stroke-width="0.7" fill="none"/>
<rect x="605.5" y="497.5" width="9" height="56.5" fill="#4A64AF"/>
<path d="M610 497.5V496.6M607.75 496.6H612.25" stroke="#4A64AF" stroke-width="0.7" fill="none"/>
<rect x="619" y="506.1" width="8.9" height="47.9" fill="#159C63"/>
<path d="M623.45 506.1V504.3M621.2 504.3H625.7" stroke="#159C63" stroke-width="0.7" fill="none"/>
<rect x="641.4" y="540.4" width="8.9" height="13.6" fill="#4A64AF"/>
<path d="M645.85 540.4V539.9M643.6 539.9H648.1" stroke="#4A64AF" stroke-width="0.7" fill="none"/>
<rect x="654.8" y="547" width="9" height="7" fill="#159C63"/>
<path d="M659.3 547V546.6M657.05 546.6H661.55" stroke="#159C63" stroke-width="0.7" fill="none"/>
<path d="M564.6 470.9L564.6 554.6" stroke="#222" stroke-width="1.15"/>
<path d="M561.2 554L564.6 554" stroke="#222" stroke-width="1.15"/>
<text transform="translate(560.7 556.3) scale(0.926 1)" font-size="6.8" text-anchor="end" stroke="#000" stroke-width="0.25">0</text>
<path d="M561.2 526.5L564.6 526.5" stroke="#222" stroke-width="1.15"/>
<text transform="translate(560.7 528.8) scale(0.926 1)" font-size="6.8" text-anchor="end" stroke="#000" stroke-width="0.25">20</text>
<path d="M561.2 499L564.6 499" stroke="#222" stroke-width="1.15"/>
<text transform="translate(560.7 501.3) scale(0.926 1)" font-size="6.8" text-anchor="end" stroke="#000" stroke-width="0.25">40</text>
<path d="M561.2 471.5L564.6 471.5" stroke="#222" stroke-width="1.15"/>
<text transform="translate(560.7 473.8) scale(0.926 1)" font-size="6.8" text-anchor="end" stroke="#000" stroke-width="0.25">60</text>
<path d="M564 554L669 554" stroke="#222" stroke-width="1.15"/>
<path d="M580.7 554L580.7 557.2" stroke="#222" stroke-width="1.15"/>
<text transform="translate(580.7 564.9)" font-size="6.8" text-anchor="middle" stroke="#000" stroke-width="0.25">G0/G1</text>
<path d="M616.6 554L616.6 557.2" stroke="#222" stroke-width="1.15"/>
<text transform="translate(616.6 564.9) scale(0.846 1)" font-size="6.8" text-anchor="middle" stroke="#000" stroke-width="0.25">S</text>
<path d="M652.5 554L652.5 557.2" stroke="#222" stroke-width="1.15"/>
<text transform="translate(652.5 564.9) scale(0.971 1)" font-size="6.8" text-anchor="middle" stroke="#000" stroke-width="0.25">G2/M</text>
<text transform="translate(550.4 512.2) rotate(-90) scale(0.976 1)" font-size="7" text-anchor="middle" stroke="#000" stroke-width="0.25">Cell Ratio (%)</text>
<path d="M574.1 476L587.6 476" stroke="#444" stroke-width="1.1"/>
<text transform="translate(580.85 477) scale(0.850 1)" font-size="8" text-anchor="middle" font-weight="normal" fill="#222">**</text>
<path d="M610.3 492.3L623.8 492.3" stroke="#333" stroke-width="1.1"/>
<text transform="translate(617.05 493.3) scale(0.850 1)" font-size="8" text-anchor="middle" font-weight="normal" fill="#222">***</text>
<path d="M646.4 535.7L660.2 535.7" stroke="#444" stroke-width="1.1"/>
<text transform="translate(653.3 536.7) scale(0.850 1)" font-size="8" text-anchor="middle" font-weight="normal" fill="#222">***</text>
<rect x="631.5" y="471.5" width="8.6" height="2.9" fill="#4A64AF"/>
<rect x="631.5" y="477.4" width="8.6" height="3.1" fill="#159C63"/>
<text transform="translate(645.9 474.7) scale(0.945 1)" font-size="5.8" font-weight="normal" fill="#555">si-NC</text>
<text transform="translate(645.9 480.7) scale(0.925 1)" font-size="5.8" font-weight="normal" fill="#555">si-FGA</text>
</g>
<g>
<text transform="translate(12.2 608.5) scale(0.928 1)" font-size="15.5">k</text>
<rect x="65.8" y="654.1" width="5.6" height="51.2" fill="#E9573D"/>
<path d="M68.6 654.1V651.54M67 651.54H70.2" stroke="#E9573D" stroke-width="0.7" fill="none"/>
<rect x="74.4" y="618.77" width="5.7" height="86.53" fill="#FDB562"/>
<path d="M77.25 618.77V609.3M75.55 609.3H78.95" stroke="#FDB562" stroke-width="0.7" fill="none"/>
<rect x="88.83" y="654.1" width="5.6" height="51.2" fill="#E9573D"/>
<path d="M91.63 654.1V653.33M90.03 653.33H93.23" stroke="#E9573D" stroke-width="0.7" fill="none"/>
<rect x="97.43" y="631.32" width="5.7" height="73.98" fill="#FDB562"/>
<path d="M100.28 631.32V627.48M98.58 627.48H101.98" stroke="#FDB562" stroke-width="0.7" fill="none"/>
<rect x="111.86" y="654.1" width="5.6" height="51.2" fill="#E9573D"/>
<path d="M114.66 654.1V648.47M113.06 648.47H116.26" stroke="#E9573D" stroke-width="0.7" fill="none"/>
<rect x="120.46" y="647.96" width="5.7" height="57.34" fill="#FDB562"/>
<path d="M123.31 647.96V647.7M121.61 647.7H125.01" stroke="#FDB562" stroke-width="0.7" fill="none"/>
<rect x="134.89" y="654.1" width="5.6" height="51.2" fill="#E9573D"/>
<path d="M137.69 654.1V652.05M136.09 652.05H139.29" stroke="#E9573D" stroke-width="0.7" fill="none"/>
<rect x="143.49" y="673.81" width="5.7" height="31.49" fill="#FDB562"/>
<path d="M146.34 673.81V673.3M144.64 673.3H148.04" stroke="#FDB562" stroke-width="0.7" fill="none"/>
<rect x="157.92" y="654.1" width="5.6" height="51.2" fill="#E9573D"/>
<path d="M160.72 654.1V653.08M159.12 653.08H162.32" stroke="#E9573D" stroke-width="0.7" fill="none"/>
<rect x="166.52" y="651.13" width="5.7" height="54.17" fill="#FDB562"/>
<path d="M169.37 651.13V650.93M167.67 650.93H171.07" stroke="#FDB562" stroke-width="0.7" fill="none"/>
<rect x="180.95" y="654.1" width="5.6" height="51.2" fill="#E9573D"/>
<path d="M183.75 654.1V652.05M182.15 652.05H185.35" stroke="#E9573D" stroke-width="0.7" fill="none"/>
<rect x="189.55" y="657.17" width="5.7" height="48.13" fill="#FDB562"/>
<path d="M192.4 657.17V655.64M190.7 655.64H194.1" stroke="#FDB562" stroke-width="0.7" fill="none"/>
<rect x="203.98" y="654.1" width="5.6" height="51.2" fill="#E9573D"/>
<path d="M206.78 654.1V651.54M205.18 651.54H208.38" stroke="#E9573D" stroke-width="0.7" fill="none"/>
<rect x="212.58" y="675.09" width="5.7" height="30.21" fill="#FDB562"/>
<path d="M215.43 675.09V673.04M213.73 673.04H217.13" stroke="#FDB562" stroke-width="0.7" fill="none"/>
<rect x="227.01" y="654.1" width="5.6" height="51.2" fill="#E9573D"/>
<path d="M229.81 654.1V651.03M228.21 651.03H231.41" stroke="#E9573D" stroke-width="0.7" fill="none"/>
<rect x="235.61" y="647.44" width="5.7" height="57.86" fill="#FDB562"/>
<path d="M238.46 647.44V641.56M236.76 641.56H240.16" stroke="#FDB562" stroke-width="0.7" fill="none"/>
<path d="M62.8 602.3L62.8 705.9" stroke="#222" stroke-width="1.25"/>
<path d="M58.3 705.3L62.8 705.3" stroke="#222" stroke-width="1.25"/>
<text transform="translate(57 708) scale(1.070 1)" font-size="8" text-anchor="end" stroke="#000" stroke-width="0.25">0.0</text>
<path d="M58.3 679.7L62.8 679.7" stroke="#222" stroke-width="1.25"/>
<text transform="translate(57 682.4) scale(1.070 1)" font-size="8" text-anchor="end" stroke="#000" stroke-width="0.25">0.5</text>
<path d="M58.3 654.1L62.8 654.1" stroke="#222" stroke-width="1.25"/>
<text transform="translate(57 656.8) scale(1.070 1)" font-size="8" text-anchor="end" stroke="#000" stroke-width="0.25">1.0</text>
<path d="M58.3 628.5L62.8 628.5" stroke="#222" stroke-width="1.25"/>
<text transform="translate(57 631.2) scale(1.070 1)" font-size="8" text-anchor="end" stroke="#000" stroke-width="0.25">1.5</text>
<path d="M58.3 602.9L62.8 602.9" stroke="#222" stroke-width="1.25"/>
<text transform="translate(57 605.6) scale(1.070 1)" font-size="8" text-anchor="end" stroke="#000" stroke-width="0.25">2.0</text>
<path d="M62.2 705.3L244.1 705.3" stroke="#222" stroke-width="1.25"/>
<path d="M72.7 705.3L72.7 709.3" stroke="#222" stroke-width="1.2"/>
<text transform="translate(75.4 717.7) rotate(-45)" font-size="8.2" text-anchor="end" stroke="#000" stroke-width="0.25">MYC</text>
<path d="M95.73 705.3L95.73 709.3" stroke="#222" stroke-width="1.2"/>
<text transform="translate(98.43 717.7) rotate(-45)" font-size="8.2" text-anchor="end" stroke="#000" stroke-width="0.25">CCND1</text>
<path d="M118.76 705.3L118.76 709.3" stroke="#222" stroke-width="1.2"/>
<text transform="translate(121.46 717.7) rotate(-45)" font-size="8.2" text-anchor="end" stroke="#000" stroke-width="0.25">CDK7</text>
<path d="M141.79 705.3L141.79 709.3" stroke="#222" stroke-width="1.2"/>
<text transform="translate(144.49 717.7) rotate(-45)" font-size="8.2" text-anchor="end" stroke="#000" stroke-width="0.25">CDK2</text>
<path d="M164.82 705.3L164.82 709.3" stroke="#222" stroke-width="1.2"/>
<text transform="translate(167.52 717.7) rotate(-45)" font-size="8.2" text-anchor="end" stroke="#000" stroke-width="0.25">CCNE2</text>
<path d="M187.85 705.3L187.85 709.3" stroke="#222" stroke-width="1.2"/>
<text transform="translate(190.55 717.7) rotate(-45)" font-size="8.2" text-anchor="end" stroke="#000" stroke-width="0.25">CCNH</text>
<path d="M210.88 705.3L210.88 709.3" stroke="#222" stroke-width="1.2"/>
<text transform="translate(213.58 717.7) rotate(-45)" font-size="8.2" text-anchor="end" stroke="#000" stroke-width="0.25">CCNE1</text>
<path d="M233.91 705.3L233.91 709.3" stroke="#222" stroke-width="1.2"/>
<text transform="translate(236.61 717.7) rotate(-45)" font-size="8.2" text-anchor="end" stroke="#000" stroke-width="0.25">CDK4</text>
<text transform="translate(30.9 653.2) rotate(-90) scale(1.029 1)" font-size="8.2" text-anchor="middle" stroke="#000" stroke-width="0.25">Relative mRNA levels</text>
<text transform="translate(40.3 653.2) rotate(-90) scale(1.069 1)" font-size="8.2" text-anchor="middle" stroke="#000" stroke-width="0.25">(Gene/GAPDH)</text>
<path d="M69.1 603.5L77.5 603.5" stroke="#222" stroke-width="1.1"/>
<text transform="translate(73.3 604.2) scale(0.864 1)" font-size="8.8" text-anchor="middle" font-weight="normal" fill="#111">**</text>
<path d="M92 622.3L100.8 622.3" stroke="#222" stroke-width="1.1"/>
<text transform="translate(96.9 623) scale(0.864 1)" font-size="8.8" text-anchor="middle" font-weight="normal" fill="#111">***</text>
<path d="M114.6 643.5L123.5 643.5" stroke="#222" stroke-width="1.1"/>
<text transform="translate(119.05 641.1) scale(0.973 1)" font-size="7.4" text-anchor="middle" font-weight="normal" fill="#333">ns</text>
<path d="M136.8 647.1L145.7 647.1" stroke="#222" stroke-width="1.1"/>
<text transform="translate(141.75 647.8) scale(0.864 1)" font-size="8.8" text-anchor="middle" font-weight="normal" fill="#111">***</text>
<path d="M160.4 644.9L169.5 644.9" stroke="#222" stroke-width="1.1"/>
<text transform="translate(164.95 645.6) scale(0.864 1)" font-size="8.8" text-anchor="middle" font-weight="normal" fill="#111">**</text>
<path d="M183.2 648.9L192.3 648.9" stroke="#222" stroke-width="1.1"/>
<text transform="translate(187.75 649.6) scale(0.864 1)" font-size="8.8" text-anchor="middle" font-weight="normal" fill="#111">*</text>
<path d="M206.2 647.1L215.3 647.1" stroke="#222" stroke-width="1.1"/>
<text transform="translate(211.25 647.8) scale(0.864 1)" font-size="8.8" text-anchor="middle" font-weight="normal" fill="#111">***</text>
<path d="M230 636.8L238.7 636.8" stroke="#222" stroke-width="1.1"/>
<text transform="translate(234.35 634.4) scale(0.973 1)" font-size="7.4" text-anchor="middle" font-weight="normal" fill="#333">ns</text>
<rect x="170.5" y="606.1" width="11.1" height="3.7" fill="#E9573D"/>
<rect x="170.5" y="614.2" width="11.1" height="3.4" fill="#FDB562"/>
<text transform="translate(188 610.6) scale(1.056 1)" font-size="6.8" font-weight="normal" fill="#222">pcDNA3.1</text>
<text transform="translate(188 618.2) scale(1.070 1)" font-size="6.8" font-weight="normal" fill="#222">pcDNA3.1-FGA</text>
</g>
<g>
<text transform="translate(251.6 609.4) scale(1.022 1)" font-size="15.5">l</text>
<rect x="303.35" y="618.28" width="4.8" height="31.82" fill="#4A64AF"/>
<path d="M305.75 618.28V606.11M304.25 606.11H307.25" stroke="#4A64AF" stroke-width="0.7" fill="none"/>
<rect x="303.35" y="658.3" width="4.8" height="47.1" fill="#4A64AF"/>
<rect x="310.75" y="648.3" width="5" height="1.8" fill="#159C63"/>
<path d="M313.25 648.3V648.13M311.75 648.13H314.75" stroke="#159C63" stroke-width="0.7" fill="none"/>
<rect x="310.75" y="658.3" width="5" height="47.1" fill="#159C63"/>
<rect x="323.25" y="620" width="4.8" height="30.1" fill="#4A64AF"/>
<path d="M325.65 620V617.26M324.15 617.26H327.15" stroke="#4A64AF" stroke-width="0.7" fill="none"/>
<rect x="323.25" y="658.3" width="4.8" height="47.1" fill="#4A64AF"/>
<rect x="330.65" y="687.97" width="5" height="17.43" fill="#159C63"/>
<path d="M333.15 687.97V684.2M331.65 684.2H334.65" stroke="#159C63" stroke-width="0.7" fill="none"/>
<rect x="343.15" y="620" width="4.8" height="30.1" fill="#4A64AF"/>
<path d="M345.55 620V619.31M344.05 619.31H347.05" stroke="#4A64AF" stroke-width="0.7" fill="none"/>
<rect x="343.15" y="658.3" width="4.8" height="47.1" fill="#4A64AF"/>
<rect x="350.55" y="648.3" width="5" height="1.8" fill="#159C63"/>
<path d="M353.05 648.3V648.13M351.55 648.13H354.55" stroke="#159C63" stroke-width="0.7" fill="none"/>
<rect x="350.55" y="658.3" width="5" height="47.1" fill="#159C63"/>
<rect x="363.05" y="620" width="4.8" height="30.1" fill="#4A64AF"/>
<path d="M365.45 620V617.6M363.95 617.6H366.95" stroke="#4A64AF" stroke-width="0.7" fill="none"/>
<rect x="363.05" y="658.3" width="4.8" height="47.1" fill="#4A64AF"/>
<rect x="370.45" y="682.79" width="5" height="22.61" fill="#159C63"/>
<path d="M372.95 682.79V681.14M371.45 681.14H374.45" stroke="#159C63" stroke-width="0.7" fill="none"/>
<rect x="382.95" y="620" width="4.8" height="30.1" fill="#4A64AF"/>
<path d="M385.35 620V618.63M383.85 618.63H386.85" stroke="#4A64AF" stroke-width="0.7" fill="none"/>
<rect x="382.95" y="658.3" width="4.8" height="47.1" fill="#4A64AF"/>
<rect x="390.35" y="631.39" width="5" height="18.71" fill="#159C63"/>
<path d="M392.85 631.39V630.98M391.35 630.98H394.35" stroke="#159C63" stroke-width="0.7" fill="none"/>
<rect x="390.35" y="658.3" width="5" height="47.1" fill="#159C63"/>
<rect x="402.85" y="620" width="4.8" height="30.1" fill="#4A64AF"/>
<path d="M405.25 620V616.91M403.75 616.91H406.75" stroke="#4A64AF" stroke-width="0.7" fill="none"/>
<rect x="402.85" y="658.3" width="4.8" height="47.1" fill="#4A64AF"/>
<rect x="410.25" y="671.02" width="5" height="34.38" fill="#159C63"/>
<path d="M412.75 671.02V669.37M411.25 669.37H414.25" stroke="#159C63" stroke-width="0.7" fill="none"/>
<rect x="422.75" y="620" width="4.8" height="30.1" fill="#4A64AF"/>
<path d="M425.15 620V617.26M423.65 617.26H426.65" stroke="#4A64AF" stroke-width="0.7" fill="none"/>
<rect x="422.75" y="658.3" width="4.8" height="47.1" fill="#4A64AF"/>
<rect x="430.15" y="642.12" width="5" height="7.98" fill="#159C63"/>
<path d="M432.65 642.12V641.78M431.15 641.78H434.15" stroke="#159C63" stroke-width="0.7" fill="none"/>
<rect x="430.15" y="658.3" width="5" height="47.1" fill="#159C63"/>
<rect x="442.65" y="620" width="4.8" height="30.1" fill="#4A64AF"/>
<path d="M445.05 620V618.28M443.55 618.28H446.55" stroke="#4A64AF" stroke-width="0.7" fill="none"/>
<rect x="442.65" y="658.3" width="4.8" height="47.1" fill="#4A64AF"/>
<rect x="450.05" y="621.89" width="5" height="28.21" fill="#159C63"/>
<path d="M452.55 621.89V619.31M451.05 619.31H454.05" stroke="#159C63" stroke-width="0.7" fill="none"/>
<rect x="450.05" y="658.3" width="5" height="47.1" fill="#159C63"/>
<path d="M300.6 602.3L300.6 650.7" stroke="#222" stroke-width="1.25"/>
<path d="M300.6 657.9L300.6 706" stroke="#222" stroke-width="1.25"/>
<path d="M298.2 648.4L303 653.5" stroke="#222" stroke-width="1.1"/>
<path d="M298.2 654.8L303 659.9" stroke="#222" stroke-width="1.1"/>
<path d="M297 602.85L300.6 602.85" stroke="#222" stroke-width="1.25"/>
<text transform="translate(296.1 605.55) scale(0.950 1)" font-size="8" text-anchor="end" stroke="#000" stroke-width="0.25">1.5</text>
<path d="M297 620L300.6 620" stroke="#222" stroke-width="1.25"/>
<text transform="translate(296.1 622.7) scale(0.950 1)" font-size="8" text-anchor="end" stroke="#000" stroke-width="0.25">1.0</text>
<path d="M297 637.15L300.6 637.15" stroke="#222" stroke-width="1.25"/>
<text transform="translate(296.1 639.85) scale(0.950 1)" font-size="8" text-anchor="end" stroke="#000" stroke-width="0.25">0.5</text>
<text transform="translate(296.1 661) scale(0.957 1)" font-size="8" text-anchor="end" stroke="#000" stroke-width="0.25">0.10</text>
<path d="M297 681.85L300.6 681.85" stroke="#222" stroke-width="1.25"/>
<text transform="translate(296.1 684.55) scale(0.957 1)" font-size="8" text-anchor="end" stroke="#000" stroke-width="0.25">0.05</text>
<path d="M297 705.4L300.6 705.4" stroke="#222" stroke-width="1.25"/>
<text transform="translate(296.1 708.1) scale(0.957 1)" font-size="8" text-anchor="end" stroke="#000" stroke-width="0.25">0.00</text>
<path d="M300 705.4L457.9 705.4" stroke="#222" stroke-width="1.25"/>
<path d="M309.55 705.4L309.55 709.4" stroke="#222" stroke-width="1.2"/>
<text transform="translate(312.05 717.6) rotate(-45)" font-size="8.2" text-anchor="end" stroke="#000" stroke-width="0.25">MYC</text>
<path d="M329.45 705.4L329.45 709.4" stroke="#222" stroke-width="1.2"/>
<text transform="translate(331.95 717.6) rotate(-45)" font-size="8.2" text-anchor="end" stroke="#000" stroke-width="0.25">CCND1</text>
<path d="M349.35 705.4L349.35 709.4" stroke="#222" stroke-width="1.2"/>
<text transform="translate(351.85 717.6) rotate(-45)" font-size="8.2" text-anchor="end" stroke="#000" stroke-width="0.25">CDK7</text>
<path d="M369.25 705.4L369.25 709.4" stroke="#222" stroke-width="1.2"/>
<text transform="translate(371.75 717.6) rotate(-45)" font-size="8.2" text-anchor="end" stroke="#000" stroke-width="0.25">CDK2</text>
<path d="M389.15 705.4L389.15 709.4" stroke="#222" stroke-width="1.2"/>
<text transform="translate(391.65 717.6) rotate(-45)" font-size="8.2" text-anchor="end" stroke="#000" stroke-width="0.25">CCNE2</text>
<path d="M409.05 705.4L409.05 709.4" stroke="#222" stroke-width="1.2"/>
<text transform="translate(411.55 717.6) rotate(-45)" font-size="8.2" text-anchor="end" stroke="#000" stroke-width="0.25">CCNH</text>
<path d="M428.95 705.4L428.95 709.4" stroke="#222" stroke-width="1.2"/>
<text transform="translate(431.45 717.6) rotate(-45)" font-size="8.2" text-anchor="end" stroke="#000" stroke-width="0.25">CCNE1</text>
<path d="M448.85 705.4L448.85 709.4" stroke="#222" stroke-width="1.2"/>
<text transform="translate(451.35 717.6) rotate(-45)" font-size="8.2" text-anchor="end" stroke="#000" stroke-width="0.25">CDK4</text>
<text transform="translate(267.4 653.3) rotate(-90) scale(1.029 1)" font-size="8.2" text-anchor="middle" stroke="#000" stroke-width="0.25">Relative mRNA levels</text>
<text transform="translate(276.8 653.3) rotate(-90) scale(1.053 1)" font-size="8.2" text-anchor="middle" stroke="#000" stroke-width="0.25">(Gene/GAPDH)</text>
<path d="M305.6 602.6L313.2 602.6" stroke="#222" stroke-width="1.1"/>
<text transform="translate(309.4 603.3) scale(0.864 1)" font-size="8.8" text-anchor="middle" font-weight="normal" fill="#111">*</text>
<path d="M325.2 613L333.8 613" stroke="#222" stroke-width="1.1"/>
<text transform="translate(330 613.7) scale(0.864 1)" font-size="8.8" text-anchor="middle" font-weight="normal" fill="#111">***</text>
<path d="M345.4 614.8L353.5 614.8" stroke="#222" stroke-width="1.1"/>
<text transform="translate(349.95 615.5) scale(0.864 1)" font-size="8.8" text-anchor="middle" font-weight="normal" fill="#111">***</text>
<path d="M365 614.6L372.7 614.6" stroke="#222" stroke-width="1.1"/>
<text transform="translate(369.35 615.3) scale(0.864 1)" font-size="8.8" text-anchor="middle" font-weight="normal" fill="#111">***</text>
<path d="M384.8 614.6L392.3 614.6" stroke="#222" stroke-width="1.1"/>
<text transform="translate(389.05 615.3) scale(0.864 1)" font-size="8.8" text-anchor="middle" font-weight="normal" fill="#111">***</text>
<path d="M404.8 613.2L412.5 613.2" stroke="#222" stroke-width="1.1"/>
<text transform="translate(409.15 613.9) scale(0.864 1)" font-size="8.8" text-anchor="middle" font-weight="normal" fill="#111">***</text>
<path d="M424.6 613.2L432.2 613.2" stroke="#222" stroke-width="1.1"/>
<text transform="translate(428.9 613.9) scale(0.864 1)" font-size="8.8" text-anchor="middle" font-weight="normal" fill="#111">***</text>
<path d="M444.7 613.2L452.2 613.2" stroke="#222" stroke-width="1.1"/>
<text transform="translate(448.45 610.8) scale(0.973 1)" font-size="7.4" text-anchor="middle" font-weight="normal" fill="#333">ns</text>
<rect x="460.9" y="607.2" width="9.7" height="3.6" fill="#4A64AF"/>
<rect x="460.9" y="616.2" width="9.7" height="3.7" fill="#159C63"/>
<text transform="translate(476 611.2) scale(0.960 1)" font-size="6.8" font-weight="normal" fill="#555">si-NC</text>
<text transform="translate(476 620.3) scale(1.010 1)" font-size="6.8" font-weight="normal" fill="#555">si-FGA</text>
</g>
<g>
<text transform="translate(512.2 609.4) scale(0.976 1)" font-size="15.5">m</text>
<text transform="translate(531.8 596.9) rotate(36.5) scale(0.975 1)" font-size="8.2" stroke="#000" stroke-width="0.25">pcDNA3.1</text>
<text transform="translate(558.8 603.8) rotate(39) scale(0.965 1)" font-size="8.2" stroke="#000" stroke-width="0.25">FGA</text>
<text transform="translate(565 596.9) rotate(36.5) scale(0.971 1)" font-size="8.2" stroke="#000" stroke-width="0.25">pcDNA3.1-</text>
<text transform="translate(602.4 605) rotate(36.7) scale(1.068 1)" font-size="8.2" stroke="#000" stroke-width="0.25">si-NC</text>
<text transform="translate(623.4 603.9) rotate(37.3) scale(0.992 1)" font-size="8.2" stroke="#000" stroke-width="0.25">si-FGA</text>
<text transform="translate(509.3 635.3) scale(0.989 1)" font-size="10.5">CCND1</text>
<text transform="translate(509.7 666.7) scale(0.994 1)" font-size="10.5">CCNE1</text>
<text transform="translate(508.2 697.8) scale(0.986 1)" font-size="10.5">GAPDH</text>
<rect x="552.6" y="622.1" width="38.9" height="19.9" fill="#fbfbfb" stroke="#444" stroke-width="0.8"/>
<rect x="576" y="625.8" width="11" height="2" rx="1" fill="#000" opacity="0.18" filter="url(#bl)"/>
<rect x="557.9" y="628.8" width="11.2" height="2.6" rx="1.3" fill="#000" opacity="1" filter="url(#bl)"/>
<rect x="575.1" y="629.3" width="12.8" height="3.8" rx="1.9" fill="#000" opacity="1" filter="url(#bl)"/>
<rect x="557" y="636.4" width="30" height="1.6" rx="0.8" fill="#000" opacity="0.08" filter="url(#bl)"/>
<text transform="translate(557.5 650.3) scale(1.029 1)" font-size="8.4" stroke="#000" stroke-width="0.25">1.0</text>
<text transform="translate(577.3 650.3) scale(1.037 1)" font-size="8.4" stroke="#000" stroke-width="0.25">1.3**</text>
<rect x="552.6" y="654.3" width="38.9" height="19.8" fill="#fcfcfc" stroke="#444" stroke-width="0.8"/>
<rect x="556.75" y="660.3" width="10.5" height="1.6" rx="0.8" fill="#000" opacity="0.25" filter="url(#bl)"/>
<rect x="575.5" y="662.1" width="12" height="3.2" rx="1.6" fill="#000" opacity="1" filter="url(#bl)"/>
<rect x="576.5" y="665.3" width="9" height="2.4" rx="1.2" fill="#000" opacity="0.12" filter="url(#bl)"/>
<text transform="translate(556.8 685.4) scale(1.029 1)" font-size="8.4" stroke="#000" stroke-width="0.25">1.0</text>
<text transform="translate(577 685.4) scale(1.074 1)" font-size="8.4" stroke="#000" stroke-width="0.25">4.1***</text>
<rect x="553.5" y="687.9" width="39.2" height="18.9" fill="#fff" stroke="#444" stroke-width="0.8"/>
<rect x="559" y="695.15" width="12.6" height="2.9" rx="1.45" fill="#000" opacity="1" filter="url(#bl)"/>
<rect x="576.6" y="695.05" width="14.2" height="3.7" rx="1.85" fill="#000" opacity="1" filter="url(#bl)"/>
<rect x="609.4" y="622.1" width="39.3" height="19.9" fill="#fbfbfb" stroke="#444" stroke-width="0.8"/>
<rect x="614.85" y="630.35" width="10.5" height="2.5" rx="1.25" fill="#000" opacity="1" filter="url(#bl)"/>
<rect x="615.6" y="633.5" width="9" height="2" rx="1" fill="#000" opacity="0.1" filter="url(#bl)"/>
<rect x="632.2" y="631.3" width="11.2" height="2" rx="1" fill="#000" opacity="0.85" filter="url(#bl)"/>
<text transform="translate(611.6 650.5) scale(1.010 1)" font-size="8.4" stroke="#000" stroke-width="0.25">1.0</text>
<text transform="translate(635.2 650.5) scale(1.088 1)" font-size="8.4" stroke="#000" stroke-width="0.25">0.7*</text>
<linearGradient id="gm" x1="0" y1="0" x2="0" y2="1"><stop offset="0" stop-color="#f1f1f1"/><stop offset="0.75" stop-color="#ececec"/><stop offset="0.9" stop-color="#c8c8c8"/><stop offset="1" stop-color="#777"/></linearGradient>
<rect x="609.4" y="654.3" width="39.3" height="19.8" fill="url(#gm)" stroke="#444" stroke-width="0.8"/>
<rect x="613.5" y="657.2" width="12" height="2.2" rx="1.1" fill="#000" opacity="0.22" filter="url(#bl)"/>
<rect x="612.3" y="662.7" width="15" height="4" rx="2" fill="#000" opacity="1" filter="url(#bl)"/>
<rect x="632.9" y="663.05" width="14.2" height="4.3" rx="2.15" fill="#000" opacity="1" filter="url(#bl)"/>
<rect x="610" y="671.4" width="5" height="2.4" rx="1.2" fill="#000" opacity="0.8" filter="url(#bl)"/>
<rect x="627" y="672.4" width="4" height="1.6" rx="0.8" fill="#000" opacity="0.5" filter="url(#bl)"/>
<text transform="translate(611.6 685.4) scale(1.010 1)" font-size="8.4" stroke="#000" stroke-width="0.25">1.0</text>
<text transform="translate(636.3 685.4) scale(1.105 1)" font-size="8.4" stroke="#000" stroke-width="0.25">0.9</text>
<rect x="609.4" y="687.9" width="39.3" height="19.1" fill="#fff" stroke="#444" stroke-width="0.8"/>
<rect x="612" y="695.95" width="14.2" height="4.3" rx="2.15" fill="#000" opacity="1" filter="url(#bl)"/>
<rect x="630.7" y="695.45" width="14.2" height="4.3" rx="2.15" fill="#000" opacity="1" filter="url(#bl)"/>
</g>
</svg>
</body></html>
